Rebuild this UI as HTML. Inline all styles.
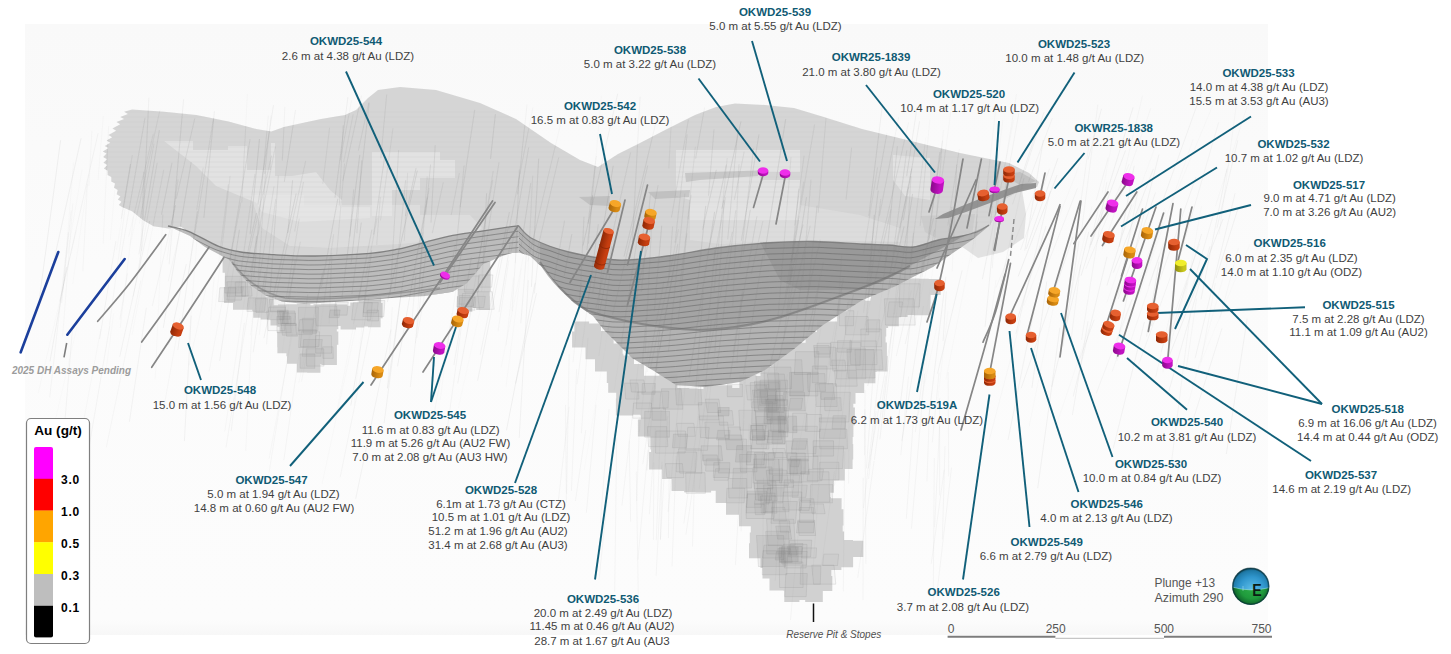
<!DOCTYPE html>
<html><head><meta charset="utf-8"><title>Drill results long section</title>
<style>
html,body{margin:0;padding:0;background:#fff;}
body{width:1451px;height:654px;overflow:hidden;font-family:"Liberation Sans",sans-serif;}
svg{display:block}
.t{font:bold 11.5px "Liberation Sans",sans-serif;fill:#0f5a73;text-anchor:middle}
.b{font:11.5px "Liberation Sans",sans-serif;fill:#3f3f3f;text-anchor:middle}
.ld{stroke:#11607a;stroke-width:1.9;fill:none;stroke-linecap:butt}
.dt{stroke:#868686;stroke-width:1.7;fill:none;stroke-linecap:round}
</style></head><body>
<svg width="1451" height="654" viewBox="0 0 1451 654">
<defs>
<linearGradient id="panel" x1="0" y1="0" x2="0" y2="1"><stop offset="0" stop-color="#f9f9f9"/><stop offset="0.4" stop-color="#fbfbfb"/><stop offset="0.975" stop-color="#fcfcfc"/><stop offset="1" stop-color="#f7f7f7"/></linearGradient>
<radialGradient id="ballsky" gradientUnits="userSpaceOnUse" cx="1252" cy="590" r="24"><stop offset="0" stop-color="#5fc0ea"/><stop offset="0.55" stop-color="#2f95cc"/><stop offset="0.8" stop-color="#1f7aa8"/><stop offset="1" stop-color="#0b3a44"/></radialGradient>
<radialGradient id="ballgrd" gradientUnits="userSpaceOnUse" cx="1252" cy="586" r="21"><stop offset="0" stop-color="#2fb04a"/><stop offset="0.6" stop-color="#1f9a3c"/><stop offset="1" stop-color="#0a5226"/></radialGradient>
</defs>
<rect x="0" y="0" width="1451" height="654" fill="#ffffff"/>
<rect x="25" y="24" width="1243" height="611" fill="url(#panel)"/>
<path d="M132.0,109.6 L164.0,111.8 L196.4,115.0 L228.5,121.4 L256.3,129.0 L271.3,131.5 L284.0,127.0 L300.0,123.5 L321.0,119.0 L345.0,115.0 L356.0,110.0 L368.0,98.0 L378.0,90.0 L400.0,87.0 L436.0,90.0 L480.0,103.0 L516.0,119.0 L551.0,143.0 L580.0,160.0 L598.0,167.0 L618.0,154.0 L640.0,143.0 L667.0,129.0 L695.0,115.0 L716.0,107.0 L735.0,103.5 L765.0,105.0 L794.0,108.0 L823.0,116.7 L862.0,129.0 L911.0,141.0 L960.0,153.0 L1009.0,163.0 L1029.0,173.0 L1039.0,182.0 L1037.0,187.0 L1022.0,190.0 L1004.0,200.0 L990.0,226.0 L960.0,240.0 L936.0,250.0 L911.0,254.0 L862.0,250.0 L813.0,248.0 L765.0,248.0 L716.0,254.0 L667.0,262.0 L618.0,266.0 L569.0,258.0 L533.0,246.0 L518.0,236.0 L489.0,240.0 L467.0,244.0 L445.0,248.0 L400.0,256.0 L356.0,260.0 L312.0,262.0 L267.0,261.0 L236.0,258.0 L216.0,250.0 L203.0,241.0 L190.0,234.0 L181.0,226.5 L168.5,228.5 L153.5,226.3 L142.8,220.0 L132.0,211.3 L122.5,207.2 L118.8,205.0 L121.5,201.8 L117.8,199.6 L120.4,196.4 L116.7,194.2 L117.7,190.0 L114.0,187.8 L115.0,183.6 L111.3,181.4 L111.3,177.1 L107.6,174.9 L107.6,170.7 L103.9,168.5 L107.2,165.0 L103.5,162.8 L106.9,159.3 L103.2,157.1 L106.5,153.6 L102.8,151.4 L108.4,148.1 L104.7,145.9 L110.3,142.7 L106.6,140.5 L112.2,137.2 L108.5,135.0 L116.2,130.7 L112.5,128.5 L120.2,124.2 L116.5,122.0 L124.0,119.1 L120.3,116.9 L127.9,114.0 L124.2,111.8Z" fill="#d3d3d3" fill-opacity="0.95"/>
<path d="M1022,190 L1026,214 L1024,238 L1003,252 L978,258 L958,244 L990,226 L1004,200Z" fill="#d2d2d2" fill-opacity="0.6"/>
<path d="M921,216 L975,214 L972,236 L940,240 L925,232Z" fill="#c4c4c4" fill-opacity="0.55"/>
<clipPath id="shc"><path d="M132.0,109.6 L164.0,111.8 L196.4,115.0 L228.5,121.4 L256.3,129.0 L271.3,131.5 L284.0,127.0 L300.0,123.5 L321.0,119.0 L345.0,115.0 L356.0,110.0 L368.0,98.0 L378.0,90.0 L400.0,87.0 L436.0,90.0 L480.0,103.0 L516.0,119.0 L551.0,143.0 L580.0,160.0 L598.0,167.0 L618.0,154.0 L640.0,143.0 L667.0,129.0 L695.0,115.0 L716.0,107.0 L735.0,103.5 L765.0,105.0 L794.0,108.0 L823.0,116.7 L862.0,129.0 L911.0,141.0 L960.0,153.0 L1009.0,163.0 L1029.0,173.0 L1039.0,182.0 L1037.0,187.0 L1022.0,190.0 L1004.0,200.0 L990.0,226.0 L960.0,240.0 L936.0,250.0 L911.0,254.0 L862.0,250.0 L813.0,248.0 L765.0,248.0 L716.0,254.0 L667.0,262.0 L618.0,266.0 L569.0,258.0 L533.0,246.0 L518.0,236.0 L489.0,240.0 L467.0,244.0 L445.0,248.0 L400.0,256.0 L356.0,260.0 L312.0,262.0 L267.0,261.0 L236.0,258.0 L216.0,250.0 L203.0,241.0 L190.0,234.0 L181.0,226.5 L168.5,228.5 L153.5,226.3 L142.8,220.0 L132.0,211.3 L122.5,207.2 L118.8,205.0 L121.5,201.8 L117.8,199.6 L120.4,196.4 L116.7,194.2 L117.7,190.0 L114.0,187.8 L115.0,183.6 L111.3,181.4 L111.3,177.1 L107.6,174.9 L107.6,170.7 L103.9,168.5 L107.2,165.0 L103.5,162.8 L106.9,159.3 L103.2,157.1 L106.5,153.6 L102.8,151.4 L108.4,148.1 L104.7,145.9 L110.3,142.7 L106.6,140.5 L112.2,137.2 L108.5,135.0 L116.2,130.7 L112.5,128.5 L120.2,124.2 L116.5,122.0 L124.0,119.1 L120.3,116.9 L127.9,114.0 L124.2,111.8Z"/></clipPath>
<g clip-path="url(#shc)">
<path d="M164.0,141.0 L193.0,141.0 L193.0,150.0 L228.0,150.0 L228.0,146.0 L247.0,146.0 L247.0,170.0 L271.0,170.0 L271.0,143.0 L275.0,143.0 L275.0,176.0 L292.0,176.0 L316.0,172.0 L330.0,190.0 L342.0,200.0 L342.0,216.0 L292.0,216.0 L252.0,201.0 L216.0,186.0 L196.0,166.0Z" fill="#e6e6e6" fill-opacity="0.75"/>
<path d="M251.0,195.0 L304.0,195.0 L304.0,207.0 L370.0,207.0 L370.0,218.0 L300.0,222.0 L262.0,212.0Z" fill="#e6e6e6" fill-opacity="0.75"/>
<path d="M372.0,152.0 L440.0,152.0 L440.0,160.0 L455.0,160.0 L455.0,178.0 L420.0,178.0 L420.0,190.0 L392.0,190.0 L392.0,216.0 L372.0,216.0Z" fill="#e6e6e6" fill-opacity="0.75"/>
<path d="M676.0,150.0 L800.0,150.0 L800.0,172.0 L760.0,172.0 L760.0,180.0 L800.0,180.0 L800.0,220.0 L690.0,220.0 L690.0,200.0 L676.0,196.0Z" fill="#e6e6e6" fill-opacity="0.75"/>
<path d="M893.0,155.0 L930.0,158.0 L930.0,200.0 L905.0,196.0 L893.0,180.0Z" fill="#e6e6e6" fill-opacity="0.75"/>
<path d="M100,112H1040M100,117H1040M100,122H1040M100,127H1040M100,132H1040M100,137H1040M100,142H1040M100,147H1040M100,152H1040M100,157H1040M100,162H1040M100,167H1040M100,172H1040M100,177H1040M100,182H1040M100,187H1040M100,192H1040M100,197H1040M100,202H1040M100,207H1040M100,212H1040M100,217H1040M100,222H1040M100,227H1040M100,232H1040M100,237H1040M100,242H1040M100,247H1040" stroke="#c9c9c9" stroke-opacity="0.35" stroke-width="0.7" fill="none"/>
<path d="M685.0,173.0 L758.0,170.5 L758.0,176.0 L700.0,180.0 L686.0,182.0Z" fill="#a8a8a8" fill-opacity="0.45"/>
<path d="M648.0,192.0 L690.0,190.0 L689.0,197.0 L655.0,199.0Z" fill="#a8a8a8" fill-opacity="0.45"/>
<path d="M579.0,197.0 L610.0,196.0 L609.0,206.0 L590.0,205.0Z" fill="#a8a8a8" fill-opacity="0.45"/>
<path d="M1002.0,175.0 L1020.0,172.0 L1036.0,181.0 L1022.0,186.0Z" fill="#a8a8a8" fill-opacity="0.45"/>
<path d="M250,195 L300,195 L300,205 L420,205 L420,215 L470,215 L482,228 L470,238 L400,244 L330,248 L290,246 L262,228Z" fill="#e6e6e6" fill-opacity="0.5"/>
<path d="M690,205 L800,205 L860,215 L900,228 L900,242 L800,240 L720,244 L690,240Z" fill="#e6e6e6" fill-opacity="0.4"/>
</g>
<path d="M891.8,277.7h15.8v15.8h-15.8zM904.4,278.5h14.7v14.7h-14.7zM913.3,278.8h15.4v15.4h-15.4zM924.6,278.9h16.1v16.1h-16.1zM871.1,288.1h16.7v16.7h-16.7zM879.7,288.1h17.5v17.5h-17.5zM892.1,288.8h16.8v16.8h-16.8zM901.9,289h16.6v16.6h-16.6zM913.1,286.3h17.5v17.5h-17.5zM847.6,299.4h17.6v17.6h-17.6zM860.2,300.8h15.9v15.9h-15.9zM870.5,298.4h17.8v17.8h-17.8zM883.1,298.8h15v15h-15zM891.6,300.9h16v16h-16zM903.7,298.8h16.3v16.3h-16.3zM913.9,298.8h16.5v16.5h-16.5zM837.3,311.3h16.9v16.9h-16.9zM848.8,310.6h18v18h-18zM859.3,308.7h17.5v17.5h-17.5zM871.6,311.5h16.5v16.5h-16.5zM881.4,308.9h17.4v17.4h-17.4zM574.4,321.5h14.7v14.7h-14.7zM586.2,323.6h14.8v14.8h-14.8zM816.9,321.7h15v15h-15zM825.1,321.5h17.6v17.6h-17.6zM836.8,322.5h14.7v14.7h-14.7zM848.4,320.2h17.6v17.6h-17.6zM859.9,320.5h18v18h-18zM869.6,319.9h16.6v16.6h-16.6zM572.1,331.6h15.9v15.9h-15.9zM585.5,332.1h14.6v14.6h-14.6zM595.7,331h17.9v17.9h-17.9zM805.6,332.1h16.1v16.1h-16.1zM815.3,332.6h16.6v16.6h-16.6zM825.8,332h17.8v17.8h-17.8zM837,331.8h17v17h-17zM846.8,330.9h17.9v17.9h-17.9zM860.3,333.4h14.5v14.5h-14.5zM871,333.5h14.6v14.6h-14.6zM585.5,344.5h14.7v14.7h-14.7zM595.4,343h16.9v16.9h-16.9zM605.5,343.6h17.1v17.1h-17.1zM780.6,341.7h16.9v16.9h-16.9zM794.8,342.7h16.1v16.1h-16.1zM804.9,343.1h15.8v15.8h-15.8zM814.6,342.8h16.6v16.6h-16.6zM825.3,342.5h17.2v17.2h-17.2zM835.5,343.2h17.1v17.1h-17.1zM847.3,342h17.3v17.3h-17.3zM858.7,342.6h16v16h-16zM871.3,342.5h15.6v15.6h-15.6zM595,355.5h16v16h-16zM607.7,353.7h15.7v15.7h-15.7zM617.9,355.6h16.1v16.1h-16.1zM770.5,353.2h16.4v16.4h-16.4zM780.9,354.7h17.4v17.4h-17.4zM791.9,353.2h17.3v17.3h-17.3zM805.1,355.6h15.7v15.7h-15.7zM813.7,353.2h17.3v17.3h-17.3zM825.8,354.1h16v16h-16zM836.4,353.4h17.7v17.7h-17.7zM846.6,352.1h17.8v17.8h-17.8zM860.6,356h16v16h-16zM872.2,356.1h15.3v15.3h-15.3zM606.8,366.1h16.8v16.8h-16.8zM617.7,365h15.7v15.7h-15.7zM627.4,363.9h16.6v16.6h-16.6zM760.5,367.1h14.7v14.7h-14.7zM771.8,365.2h17.7v17.7h-17.7zM783.4,366.4h16.5v16.5h-16.5zM792.5,366.7h15.1v15.1h-15.1zM803.7,365.8h16.3v16.3h-16.3zM814.9,366.5h16.6v16.6h-16.6zM825.3,364h17.5v17.5h-17.5zM837.6,366.5h15.7v15.7h-15.7zM846.9,364.9h17.4v17.4h-17.4zM857.7,365.5h17.7v17.7h-17.7zM608.2,378.2h14.5v14.5h-14.5zM618.5,378.3h14.7v14.7h-14.7zM627.6,375.6h16.3v16.3h-16.3zM638.7,375.8h17.2v17.2h-17.2zM649.5,375.7h14.9v14.9h-14.9zM659.4,374.2h17.9v17.9h-17.9zM739.4,375.1h16.3v16.3h-16.3zM749.1,376.1h15.7v15.7h-15.7zM761.1,376.9h15.8v15.8h-15.8zM771.1,376.5h14.9v14.9h-14.9zM782.8,377.2h15.8v15.8h-15.8zM792.3,375.6h15.8v15.8h-15.8zM804.9,377.4h15.8v15.8h-15.8zM816.4,376.9h16v16h-16zM825.6,376h17v17h-17zM837.2,377h16.1v16.1h-16.1zM847.3,376.1h16.9v16.9h-16.9zM616.2,387.3h16v16h-16zM629.7,388.9h15.8v15.8h-15.8zM641,388.7h15.4v15.4h-15.4zM649.7,385.7h17.3v17.3h-17.3zM661.4,388h17.3v17.3h-17.3zM672.8,388h16.5v16.5h-16.5zM683.1,388.5h14.5v14.5h-14.5zM694.1,389h14.7v14.7h-14.7zM703.5,385.5h17.6v17.6h-17.6zM714.8,385.3h17.4v17.4h-17.4zM725.9,388.1h16.9v16.9h-16.9zM739.2,388.6h16.5v16.5h-16.5zM749.8,385.5h17.2v17.2h-17.2zM761.1,388.7h14.9v14.9h-14.9zM772.9,389.4h14.7v14.7h-14.7zM781.3,387h17.4v17.4h-17.4zM793,386.9h15.4v15.4h-15.4zM804.9,388.3h15.9v15.9h-15.9zM815.2,387.3h15.7v15.7h-15.7zM826.1,386.1h16.3v16.3h-16.3zM838.4,386.7h17.1v17.1h-17.1zM615.9,398.5h17.1v17.1h-17.1zM628.9,398.5h16.2v16.2h-16.2zM640.4,400.2h15v15h-15zM648.4,398.4h17.7v17.7h-17.7zM661,397.8h17v17h-17zM672,398.2h15.2v15.2h-15.2zM684.1,398.3h15.3v15.3h-15.3zM695.3,400.1h15.5v15.5h-15.5zM705.4,397.5h17.5v17.5h-17.5zM717.1,398.2h15.3v15.3h-15.3zM726.1,398.5h15.8v15.8h-15.8zM737.7,398.3h15.6v15.6h-15.6zM749.3,396.4h18v18h-18zM760.4,398.7h16.1v16.1h-16.1zM772.3,399.2h16.4v16.4h-16.4zM781.7,398.4h17.5v17.5h-17.5zM792.3,398.3h17.9v17.9h-17.9zM804.7,398h15.3v15.3h-15.3zM815.2,398.1h17.9v17.9h-17.9zM828,398.1h15.2v15.2h-15.2zM836.3,397.1h17v17h-17zM640.9,411h15.4v15.4h-15.4zM651.6,408.9h16v16h-16zM662.8,408.8h14.8v14.8h-14.8zM673.6,409h15.7v15.7h-15.7zM684.5,410.8h14.5v14.5h-14.5zM693.9,409.2h16.2v16.2h-16.2zM703.7,408.8h17.8v17.8h-17.8zM716.7,410.2h14.9v14.9h-14.9zM727.4,410.5h14.9v14.9h-14.9zM740.2,411.3h14.8v14.8h-14.8zM750.2,408.5h17.2v17.2h-17.2zM760.8,408.5h16.9v16.9h-16.9zM772.2,410.7h15.4v15.4h-15.4zM782.8,410.5h16.9v16.9h-16.9zM793.5,408.2h16.2v16.2h-16.2zM803.6,409.7h16.9v16.9h-16.9zM815.3,408.2h16.8v16.8h-16.8zM826.1,407.7h17.6v17.6h-17.6zM837.1,407.5h17.8v17.8h-17.8zM637.9,419.5h17v17h-17zM650.4,420.3h16.8v16.8h-16.8zM661.8,420.4h15.1v15.1h-15.1zM670.6,420.6h17.1v17.1h-17.1zM683.8,421.3h15.8v15.8h-15.8zM693,419.4h17.6v17.6h-17.6zM704.4,420.8h15.4v15.4h-15.4zM717.5,420.2h15.7v15.7h-15.7zM726.6,420h17.2v17.2h-17.2zM738.6,422.1h14.9v14.9h-14.9zM749.4,419.9h14.9v14.9h-14.9zM761.8,421.6h15.1v15.1h-15.1zM770,419.7h17.1v17.1h-17.1zM783.2,421h16.6v16.6h-16.6zM792.9,420.6h15.2v15.2h-15.2zM805,421.1h15.2v15.2h-15.2zM815.4,422h14.6v14.6h-14.6zM826.5,420.8h17.8v17.8h-17.8zM836.9,420.4h16.5v16.5h-16.5zM650.4,432.5h16.9v16.9h-16.9zM660.8,432.5h16.2v16.2h-16.2zM673.5,432.9h14.5v14.5h-14.5zM684.2,431.9h16.2v16.2h-16.2zM695,431.8h15.2v15.2h-15.2zM705.5,430h16.3v16.3h-16.3zM716.7,431.1h16.5v16.5h-16.5zM729.4,433.2h15v15h-15zM740,432.5h14.7v14.7h-14.7zM749.7,431.3h14.8v14.8h-14.8zM760.8,433h15.6v15.6h-15.6zM773.1,432.6h15v15h-15zM782.7,430.9h17.7v17.7h-17.7zM794.3,432.4h15.7v15.7h-15.7zM804.7,432h17.5v17.5h-17.5zM815.2,432.2h16.2v16.2h-16.2zM825.9,430.7h14.8v14.8h-14.8zM836.5,430.4h16.2v16.2h-16.2zM651.1,442.6h16v16h-16zM661.9,441.9h16.1v16.1h-16.1zM673.7,442.6h15.1v15.1h-15.1zM684.8,443.3h15.8v15.8h-15.8zM693.8,442.3h16.6v16.6h-16.6zM705.1,441.4h15.2v15.2h-15.2zM717.3,441.4h16.1v16.1h-16.1zM727,442.1h15.1v15.1h-15.1zM738.9,442.2h14.6v14.6h-14.6zM748.2,441.4h16.2v16.2h-16.2zM759.1,441h16.1v16.1h-16.1zM771.9,443.8h14.7v14.7h-14.7zM782.9,442.9h14.6v14.6h-14.6zM795.5,442.2h14.8v14.8h-14.8zM804.1,441.2h16.7v16.7h-16.7zM815.7,442h14.7v14.7h-14.7zM826.6,441.2h17.3v17.3h-17.3zM837.6,444h15.6v15.6h-15.6zM649.1,452.1h17.4v17.4h-17.4zM662.5,453.6h14.8v14.8h-14.8zM672.8,454.6h16.6v16.6h-16.6zM682.6,452.7h14.8v14.8h-14.8zM694.2,452.8h14.7v14.7h-14.7zM706.4,455.1h15.2v15.2h-15.2zM717.3,452.8h17.3v17.3h-17.3zM729.4,455.5h14.6v14.6h-14.6zM737,452.9h17.8v17.8h-17.8zM747.5,452.1h17.5v17.5h-17.5zM759.5,453.3h15.7v15.7h-15.7zM772.5,455.2h15.1v15.1h-15.1zM782.5,453.5h17.4v17.4h-17.4zM793.8,454.9h15.8v15.8h-15.8zM803.6,452.1h17.2v17.2h-17.2zM815.9,453.3h15.1v15.1h-15.1zM826.7,453.3h17v17h-17zM837.6,453.9h15v15h-15zM662.1,463h16.1v16.1h-16.1zM673.9,465.6h14.8v14.8h-14.8zM682.3,465.2h16.7v16.7h-16.7zM695.6,465.6h16.1v16.1h-16.1zM706.9,465.4h15.7v15.7h-15.7zM716.2,463.3h15.9v15.9h-15.9zM728.6,463.1h16.5v16.5h-16.5zM736.9,462.9h16.8v16.8h-16.8zM749.2,463.6h15v15h-15zM761.7,465.5h14.5v14.5h-14.5zM771.1,466.3h15.3v15.3h-15.3zM782.1,463.6h17.2v17.2h-17.2zM793.6,465.2h16.4v16.4h-16.4zM804.2,464.1h14.8v14.8h-14.8zM817.2,464h14.6v14.6h-14.6zM827.1,462.8h17.6v17.6h-17.6zM671.6,475.8h15.3v15.3h-15.3zM684.1,475.5h16.7v16.7h-16.7zM695.4,476.8h15.7v15.7h-15.7zM706.4,475.9h14.9v14.9h-14.9zM716.8,475.1h17.4v17.4h-17.4zM726.6,475.6h16.1v16.1h-16.1zM739.3,474.4h15.7v15.7h-15.7zM749.2,474h16.4v16.4h-16.4zM760.8,474.9h16.8v16.8h-16.8zM772,474.8h15.7v15.7h-15.7zM784,475h16v16h-16zM792.7,475.1h15.1v15.1h-15.1zM805,475.4h17.6v17.6h-17.6zM816.1,475h17.8v17.8h-17.8zM715.7,485.3h17.8v17.8h-17.8zM728.6,487.8h16.2v16.2h-16.2zM738.3,485.2h18v18h-18zM749.9,485h17.8v17.8h-17.8zM759,484.8h17v17h-17zM770.5,486.2h16.7v16.7h-16.7zM781.4,487.5h15.5v15.5h-15.5zM792.7,485.5h17.1v17.1h-17.1zM805.8,486.4h14.9v14.9h-14.9zM815.5,486.8h14.8v14.8h-14.8zM726,497.8h17v17h-17zM739.1,498.2h17.6v17.6h-17.6zM749.3,496.7h15.6v15.6h-15.6zM760.2,497.4h16.4v16.4h-16.4zM771.3,498.8h15.5v15.5h-15.5zM781.7,498h17.3v17.3h-17.3zM792.2,496.1h17.3v17.3h-17.3zM802.9,496.2h16.4v16.4h-16.4zM816.3,497.2h14.7v14.7h-14.7zM825.5,498.2h16.1v16.1h-16.1zM739,508.4h17.9v17.9h-17.9zM748.8,508.3h14.5v14.5h-14.5zM761,508.7h14.7v14.7h-14.7zM771.8,507.5h15.6v15.6h-15.6zM781.8,509.4h16v16h-16zM792.8,507.1h16v16h-16zM804,508.2h17.7v17.7h-17.7zM816.9,508.3h15v15h-15zM827.1,509.2h16.3v16.3h-16.3zM750.8,519.9h15.5v15.5h-15.5zM759.1,517.7h16.8v16.8h-16.8zM772.6,520.7h16.1v16.1h-16.1zM782.3,520.1h17.3v17.3h-17.3zM793.7,519.1h16.3v16.3h-16.3zM803.1,518.1h16.9v16.9h-16.9zM817,519.7h15.9v15.9h-15.9zM825.4,518.7h17.3v17.3h-17.3zM749.8,532.4h15v15h-15zM760,530.6h15.9v15.9h-15.9zM771.7,530.6h17.8v17.8h-17.8zM782.6,528.8h16.5v16.5h-16.5zM793.9,530.7h15.5v15.5h-15.5zM805.7,532.3h14.9v14.9h-14.9zM815.9,530h16.3v16.3h-16.3zM827.3,531.5h16.8v16.8h-16.8zM749,543.2h15.1v15.1h-15.1zM760.3,542.7h15.6v15.6h-15.6zM769.9,541.9h17.8v17.8h-17.8zM782.2,541.4h15.5v15.5h-15.5zM791.4,539.8h17.9v17.9h-17.9zM803.6,541.1h15.2v15.2h-15.2zM813.7,541h17.1v17.1h-17.1zM826.8,541.2h17.4v17.4h-17.4zM835.1,539.9h17.9v17.9h-17.9zM847.1,540.7h16.2v16.2h-16.2zM760.5,553.3h14.7v14.7h-14.7zM771.2,554.4h15v15h-15zM782.7,550.5h18v18h-18zM794.5,553.4h15v15h-15zM803.6,553.7h15.1v15.1h-15.1zM813.8,552.7h17.6v17.6h-17.6zM825,553.7h16.4v16.4h-16.4zM837.2,551.4h15.9v15.9h-15.9zM762.5,563.4h15v15h-15zM770.6,562.5h15.7v15.7h-15.7zM784.2,562.6h15.2v15.2h-15.2zM793.9,564h17.9v17.9h-17.9zM802.8,562.1h17.8v17.8h-17.8zM815.7,564.3h15.6v15.6h-15.6zM769.5,573.5h17.1v17.1h-17.1zM783.3,574.6h16.1v16.1h-16.1zM793.4,574.1h16.4v16.4h-16.4zM805.2,573.3h16.6v16.6h-16.6zM817.2,576h15.1v15.1h-15.1zM784.3,587h15.1v15.1h-15.1zM793.5,585.3h14.7v14.7h-14.7zM805.2,584.5h17.6v17.6h-17.6z" fill="#c9c9c9" fill-opacity="0.85" fill-rule="nonzero"/>
<path d="M222.6,257.3h15.5v15.5h-15.5zM224.9,269.5h14.9v14.9h-14.9zM234.2,269.9h12.8v12.8h-12.8zM225.1,277.8h13v13h-13zM233.7,276.8h14.3v14.3h-14.3zM242.2,277.1h13.8v13.8h-13.8zM223.9,287.1h15.8v15.8h-15.8zM234.8,287.8h13.5v13.5h-13.5zM244.5,286.3h12.9v12.9h-12.9zM251.7,287.3h13.7v13.7h-13.7zM233,293.9h15.9v15.9h-15.9zM242.2,295.3h14.4v14.4h-14.4zM252.4,296.8h14.3v14.3h-14.3zM261,296.5h12.7v12.7h-12.7zM358.7,295.9h15.2v15.2h-15.2zM367.3,296.6h13.8v13.8h-13.8zM253.3,304.5h13.3v13.3h-13.3zM260.6,305.6h14v14h-14zM270.7,305.3h13.8v13.8h-13.8zM278,304.6h13.9v13.9h-13.9zM286.3,304.2h15.6v15.6h-15.6zM297.1,303.8h13.3v13.3h-13.3zM305.6,305.3h13v13h-13zM313.5,304.2h13.5v13.5h-13.5zM321.2,303.8h15.7v15.7h-15.7zM331.9,304.5h15.4v15.4h-15.4zM342.5,305.7h14v14h-14zM350.3,302.6h15.6v15.6h-15.6zM358.3,303.6h15.6v15.6h-15.6zM367.2,302.9h15.4v15.4h-15.4zM270.5,313h12.6v12.6h-12.6zM277.3,311.3h15.4v15.4h-15.4zM286.6,312.9h13.9v13.9h-13.9zM296.2,312.9h14.7v14.7h-14.7zM306.6,313.9h12.8v12.8h-12.8zM316.5,314.7h12.8v12.8h-12.8zM322.3,313.3h16v16h-16zM331.1,311.9h14.2v14.2h-14.2zM340.6,314h15.4v15.4h-15.4zM349.7,313h14.5v14.5h-14.5zM360.7,312.7h13.9v13.9h-13.9zM368,314.6h12.6v12.6h-12.6zM279.6,322.3h14.5v14.5h-14.5zM286.2,321.6h14.1v14.1h-14.1zM297.8,322.9h13.5v13.5h-13.5zM306.8,322.8h14.3v14.3h-14.3zM312.8,321.1h15.6v15.6h-15.6zM322.1,322.3h14.7v14.7h-14.7zM277.2,331.5h15.7v15.7h-15.7zM289,332.6h13.2v13.2h-13.2zM295.4,331.5h13.6v13.6h-13.6zM305,333h13.3v13.3h-13.3zM316,333.4h12.9v12.9h-12.9zM325.1,331.6h13.2v13.2h-13.2zM277.4,339h14.2v14.2h-14.2zM286.4,340.8h15.4v15.4h-15.4zM295.2,340.3h13.9v13.9h-13.9zM304.8,340h13.4v13.4h-13.4zM315.6,340.6h12.9v12.9h-12.9zM322.4,340.1h14.5v14.5h-14.5zM287.1,350.5h13.3v13.3h-13.3zM297.5,350.3h13.1v13.1h-13.1zM306.1,349h14.4v14.4h-14.4zM314.8,349.9h14v14h-14zM321.4,349.6h15.5v15.5h-15.5zM296.8,359h13.4v13.4h-13.4zM307.1,359.4h13.3v13.3h-13.3z" fill="#c9c9c9" fill-opacity="0.85" fill-rule="nonzero"/>
<path d="M476.6,261.1h13.7v13.7h-13.7zM468.4,268.9h13.1v13.1h-13.1zM475.6,267.5h15.1v15.1h-15.1zM457.6,276.1h14.3v14.3h-14.3zM467.4,277.2h14.4v14.4h-14.4zM476.5,277.2h14.2v14.2h-14.2zM458.1,287.9h13.2v13.2h-13.2zM465.1,287.1h14.4v14.4h-14.4zM474.1,286.9h15.6v15.6h-15.6zM456.9,296.3h15.4v15.4h-15.4zM468,295.6h12.5v12.5h-12.5zM476.2,296.3h13.7v13.7h-13.7z" fill="#c9c9c9" fill-opacity="0.85" fill-rule="nonzero"/>
<g stroke="#8a8a8a" stroke-opacity="0.3" stroke-width="0.6">
<path d="M739.6,454.5h16.5l0.9,17.3h-16.5z" fill="#909090" fill-opacity="0.06"/>
<path d="M756.1,416.5h28.3l0.4,27.7h-28.3z" fill="#707070" fill-opacity="0.05"/>
<path d="M767.4,374h16.9l1.8,15.9h-16.9z" fill="#808080" fill-opacity="0.07"/>
<path d="M738.8,410.3h16.7l1.1,19.8h-16.7z" fill="#606060" fill-opacity="0.04"/>
<path d="M867,319.8h12.8l-0.5,12.1h-12.8z" fill="#808080" fill-opacity="0.09"/>
<path d="M747.1,491.1h19.7l-0.9,21.7h-19.7z" fill="#606060" fill-opacity="0.05"/>
<path d="M795.6,351.6h23.3l-1.2,22.9h-23.3z" fill="#888888" fill-opacity="0.09"/>
<path d="M808.6,469.3h14.9l-1.6,11.4h-14.9z" fill="#808080" fill-opacity="0.07"/>
<path d="M806.5,414.5h15.2l-1.3,16.9h-15.2z" fill="#909090" fill-opacity="0.03"/>
<path d="M726.9,488.3h17.9l-0.6,14.5h-17.9z" fill="#707070" fill-opacity="0.06"/>
<path d="M651.7,408.4h13.7l0.7,11.8h-13.7z" fill="#606060" fill-opacity="0.06"/>
<path d="M713.8,462.6h16l-0.5,14.9h-16z" fill="#606060" fill-opacity="0.06"/>
<path d="M773.3,475.3h26.4l-1.6,20.8h-26.4z" fill="#606060" fill-opacity="0.06"/>
<path d="M792.7,413.1h14.3l0.1,17.1h-14.3z" fill="#888888" fill-opacity="0.04"/>
<path d="M752.3,429.7h12.2l-0,10.7h-12.2z" fill="#909090" fill-opacity="0.05"/>
<path d="M677.3,452h19.3l-1.1,19.8h-19.3z" fill="#808080" fill-opacity="0.04"/>
<path d="M750.2,431.4h18.5l0.2,17.6h-18.5z" fill="#888888" fill-opacity="0.04"/>
<path d="M704.9,422.2h22.8l1.1,16.3h-22.8z" fill="#888888" fill-opacity="0.05"/>
<path d="M837.6,340.7h13.8l-0.1,11.4h-13.8z" fill="#909090" fill-opacity="0.06"/>
<path d="M642.3,383.5h13.1l-0.4,10.7h-13.1z" fill="#606060" fill-opacity="0.07"/>
<path d="M800.8,565.9h20.1l-0.6,18.4h-20.1z" fill="#606060" fill-opacity="0.06"/>
<path d="M799.6,507.5h13.9l0,15h-13.9z" fill="#909090" fill-opacity="0.06"/>
<path d="M766.2,470.4h20.5l1.7,15h-20.5z" fill="#808080" fill-opacity="0.06"/>
<path d="M766.5,399.7h21.1l1,17.9h-21.1z" fill="#808080" fill-opacity="0.08"/>
<path d="M629.9,379.9h14l1.6,12.1h-14z" fill="#909090" fill-opacity="0.06"/>
<path d="M772.5,448.5h12.2l1.9,9h-12.2z" fill="#808080" fill-opacity="0.05"/>
<path d="M756.5,535.5h27.2l1.9,31h-27.2z" fill="#707070" fill-opacity="0.09"/>
<path d="M745.9,385.3h20.7l1.5,14.6h-20.7z" fill="#909090" fill-opacity="0.06"/>
<path d="M889.1,301.9h13.5l-1.9,15.1h-13.5z" fill="#888888" fill-opacity="0.05"/>
<path d="M756.2,488.5h14.5l-1.7,15.4h-14.5z" fill="#888888" fill-opacity="0.08"/>
<path d="M833.1,415.7h13l-1,13.2h-13z" fill="#606060" fill-opacity="0.06"/>
<path d="M779.3,561.9h23.5l0.3,25.6h-23.5z" fill="#909090" fill-opacity="0.04"/>
<path d="M755.7,384.4h13.2l-1.7,12.8h-13.2z" fill="#606060" fill-opacity="0.05"/>
<path d="M860.8,329h20.5l0.3,17.7h-20.5z" fill="#888888" fill-opacity="0.04"/>
<path d="M830.7,342.4h30l-0.6,23.1h-30z" fill="#808080" fill-opacity="0.05"/>
<path d="M699.2,415.9h24.1l1.4,21.7h-24.1z" fill="#909090" fill-opacity="0.06"/>
<path d="M661.4,388.8h19.7l1.7,20.4h-19.7z" fill="#707070" fill-opacity="0.08"/>
<path d="M815.3,383.8h21.1l0.8,22.7h-21.1z" fill="#888888" fill-opacity="0.08"/>
<path d="M706.2,459h13.7l-0.6,12.1h-13.7z" fill="#606060" fill-opacity="0.04"/>
<path d="M846.9,349.5h27.1l1.1,28.5h-27.1z" fill="#606060" fill-opacity="0.07"/>
<path d="M624.6,383.2h13.4l1,15.9h-13.4z" fill="#606060" fill-opacity="0.05"/>
<path d="M752.5,390.1h22.6l1.9,20.9h-22.6z" fill="#707070" fill-opacity="0.07"/>
<path d="M777.8,548.6h12.6l1.8,13.8h-12.6z" fill="#606060" fill-opacity="0.07"/>
<path d="M675.3,385.5h25.4l1.2,19.4h-25.4z" fill="#808080" fill-opacity="0.08"/>
<path d="M772.4,431.6h13.1l-0.4,11.9h-13.1z" fill="#606060" fill-opacity="0.08"/>
<path d="M790.6,456.4h27.4l-0.2,25.5h-27.4z" fill="#888888" fill-opacity="0.04"/>
<path d="M831.8,360.2h13.2l1,10.8h-13.2z" fill="#888888" fill-opacity="0.06"/>
<path d="M791.4,372.6h19.3l-1.4,23.1h-19.3z" fill="#707070" fill-opacity="0.09"/>
<path d="M793.3,485.2h13.9l-1.3,12.2h-13.9z" fill="#707070" fill-opacity="0.06"/>
<path d="M763.9,367.1h27l0.8,21.6h-27z" fill="#707070" fill-opacity="0.06"/>
<path d="M647.3,426.6h19.3l1.3,20h-19.3z" fill="#888888" fill-opacity="0.04"/>
<path d="M763,550.7h24.6l-0.8,24h-24.6z" fill="#707070" fill-opacity="0.06"/>
<path d="M725.1,434.9h16.3l1.6,14.7h-16.3z" fill="#606060" fill-opacity="0.08"/>
<path d="M715.6,468.8h14l-1.6,11.5h-14z" fill="#808080" fill-opacity="0.06"/>
<path d="M824.3,397.7h16.5l0.6,12.9h-16.5z" fill="#808080" fill-opacity="0.06"/>
<path d="M705.4,399.1h13.5l1.9,13.4h-13.5z" fill="#606060" fill-opacity="0.06"/>
<path d="M785.8,573.5h21.5l-1.1,23.1h-21.5z" fill="#808080" fill-opacity="0.07"/>
<path d="M821.1,392.3h29.2l-1.4,29.7h-29.2z" fill="#808080" fill-opacity="0.05"/>
<path d="M810.7,484.6h22.2l-0.5,18.2h-22.2z" fill="#909090" fill-opacity="0.06"/>
<path d="M819.7,462.3h19.2l0.1,17.6h-19.2z" fill="#909090" fill-opacity="0.06"/>
<path d="M823.8,554.2h14.9l-1.2,11.3h-14.9z" fill="#909090" fill-opacity="0.05"/>
<path d="M812.4,366h14.5l-0.1,16.6h-14.5z" fill="#707070" fill-opacity="0.07"/>
<path d="M753.2,466.9h18.8l1,21.8h-18.8z" fill="#808080" fill-opacity="0.08"/>
<path d="M767.7,487.7h16.5l-1.7,15.1h-16.5z" fill="#707070" fill-opacity="0.06"/>
<path d="M727.3,384.4h15.2l-0.1,12.3h-15.2z" fill="#808080" fill-opacity="0.08"/>
<path d="M676.7,423.4h17.2l1.3,12.9h-17.2z" fill="#707070" fill-opacity="0.03"/>
<path d="M789.5,540.1h22.3l-1.2,16.8h-22.3z" fill="#808080" fill-opacity="0.09"/>
<path d="M789.6,372.4h28.7l-0.4,23.5h-28.7z" fill="#808080" fill-opacity="0.07"/>
<path d="M899.9,283.8h20.2l-0.7,23.2h-20.2z" fill="#888888" fill-opacity="0.05"/>
<path d="M768.3,452.8h28.2l0.8,21.1h-28.2z" fill="#808080" fill-opacity="0.05"/>
<path d="M644.7,411.3h24.8l-0.1,25.9h-24.8z" fill="#707070" fill-opacity="0.09"/>
<path d="M652.1,391.1h16.7l-0.7,16.7h-16.7z" fill="#808080" fill-opacity="0.07"/>
<path d="M747.3,493.2h27.8l-1.1,25.3h-27.8z" fill="#909090" fill-opacity="0.07"/>
<path d="M766.6,519.3h27.2l1.4,26.1h-27.2z" fill="#888888" fill-opacity="0.06"/>
<path d="M781.9,546.5h20.2l-0.4,16.9h-20.2z" fill="#707070" fill-opacity="0.07"/>
<path d="M813,440.8h20.5l0.1,15.3h-20.5z" fill="#888888" fill-opacity="0.08"/>
<path d="M765.8,531.3h22.7l1,22.7h-22.7z" fill="#707070" fill-opacity="0.07"/>
<path d="M747.3,494.4h15l-1,13h-15z" fill="#707070" fill-opacity="0.04"/>
<path d="M755.8,373h22.7l1,16.2h-22.7z" fill="#808080" fill-opacity="0.06"/>
<path d="M637.2,392.1h23.5l-0.9,16.7h-23.5z" fill="#909090" fill-opacity="0.06"/>
<path d="M772.7,501.5h24.6l-1.8,21.8h-24.6z" fill="#606060" fill-opacity="0.05"/>
<path d="M752.9,435.9h15.3l-1.7,12.6h-15.3z" fill="#888888" fill-opacity="0.08"/>
<path d="M836.2,348.2h29.1l0.4,30.6h-29.1z" fill="#707070" fill-opacity="0.03"/>
<path d="M819,383.5h14l1.9,15.9h-14z" fill="#606060" fill-opacity="0.08"/>
<path d="M763.6,484.9h23.7l1.6,26.8h-23.7z" fill="#888888" fill-opacity="0.08"/>
<path d="M807.3,373.6h17.5l0.7,17.8h-17.5z" fill="#888888" fill-opacity="0.08"/>
<path d="M760.4,496h15.5l0.9,17.1h-15.5z" fill="#888888" fill-opacity="0.04"/>
<path d="M750.2,382.6h28.6l1.3,25.2h-28.6z" fill="#808080" fill-opacity="0.07"/>
<path d="M753.8,459h24.9l1.4,21.4h-24.9z" fill="#707070" fill-opacity="0.08"/>
<path d="M793.1,426.4h24.2l-1.5,27.3h-24.2z" fill="#808080" fill-opacity="0.06"/>
<path d="M751.4,425.3h14.2l-1.1,14.6h-14.2z" fill="#888888" fill-opacity="0.07"/>
<path d="M810.5,503.9h12.9l1.7,9.8h-12.9z" fill="#909090" fill-opacity="0.06"/>
<path d="M665.4,463.6h17l1.5,14h-17z" fill="#888888" fill-opacity="0.04"/>
<path d="M701.1,445.8h20l1.6,14.9h-20z" fill="#888888" fill-opacity="0.09"/>
<path d="M685.7,472.7h19.3l0.4,20.7h-19.3z" fill="#888888" fill-opacity="0.05"/>
<path d="M854.9,349.8h26.8l1.2,19.9h-26.8z" fill="#888888" fill-opacity="0.06"/>
<path d="M783.3,544.4h23.7l-0.4,20.7h-23.7z" fill="#606060" fill-opacity="0.04"/>
<path d="M760.1,380.1h27.4l-0.4,25.2h-27.4z" fill="#606060" fill-opacity="0.06"/>
<path d="M884.3,298.8h29.7l1.2,26.3h-29.7z" fill="#888888" fill-opacity="0.08"/>
<path d="M819.3,429.2h27.6l0.6,19.6h-27.6z" fill="#808080" fill-opacity="0.08"/>
<path d="M799,498.8h14.7l1.6,14.2h-14.7z" fill="#808080" fill-opacity="0.07"/>
<path d="M655.9,431h29.6l-0.4,22.1h-29.6z" fill="#808080" fill-opacity="0.03"/>
<path d="M849.9,340.9h26.4l0.8,23.7h-26.4z" fill="#888888" fill-opacity="0.03"/>
<path d="M785.4,551.5h21.8l-1.1,16.4h-21.8z" fill="#888888" fill-opacity="0.05"/>
<path d="M698.3,402.7h19.1l1.4,17.2h-19.1z" fill="#707070" fill-opacity="0.06"/>
<path d="M814.4,347.4h21.3l0.6,21.6h-21.3z" fill="#606060" fill-opacity="0.05"/>
<path d="M790.6,543.6h12.4l-1.2,10.5h-12.4z" fill="#606060" fill-opacity="0.08"/>
<path d="M750.7,425h15.6l-0.8,14.4h-15.6z" fill="#909090" fill-opacity="0.06"/>
<path d="M687.7,427.4h21.5l-1.7,22.9h-21.5z" fill="#808080" fill-opacity="0.04"/>
<path d="M811.8,565.2h22.2l1.8,19h-22.2z" fill="#888888" fill-opacity="0.04"/>
<path d="M787.3,453.1h18l0,20.3h-18z" fill="#909090" fill-opacity="0.07"/>
<path d="M764,545.2h18.3l-1.3,12.8h-18.3z" fill="#707070" fill-opacity="0.05"/>
<path d="M778.8,459.1h22.2l0.7,23.8h-22.2z" fill="#888888" fill-opacity="0.07"/>
<path d="M819.3,417.9h25.8l0.3,20.4h-25.8z" fill="#808080" fill-opacity="0.08"/>
<path d="M755.2,411.9h24.5l1.8,27.7h-24.5z" fill="#808080" fill-opacity="0.09"/>
<path d="M633.5,403h17.9l-0.8,15.2h-17.9z" fill="#808080" fill-opacity="0.03"/>
<path d="M754.5,381.3h25.6l0.2,29.9h-25.6z" fill="#909090" fill-opacity="0.09"/>
<path d="M728.2,478.5h18.5l0.7,19.4h-18.5z" fill="#707070" fill-opacity="0.04"/>
<path d="M845.1,316.5h23l0.6,18.3h-23z" fill="#707070" fill-opacity="0.04"/>
<path d="M813.7,345.5h15.4l0.8,11.7h-15.4z" fill="#888888" fill-opacity="0.09"/>
<path d="M800.8,471.8h28.1l0.7,30.4h-28.1z" fill="#909090" fill-opacity="0.06"/>
<path d="M834.6,370.2h21.7l0.9,16h-21.7z" fill="#909090" fill-opacity="0.07"/>
<path d="M813.7,446.4h30l-1.1,22.1h-30z" fill="#888888" fill-opacity="0.08"/>
<path d="M678.5,448.8h22.2l1.3,24.4h-22.2z" fill="#909090" fill-opacity="0.06"/>
<path d="M773.9,359.8h27.8l1.8,31.6h-27.8z" fill="#909090" fill-opacity="0.09"/>
<path d="M839.6,310.7h14.2l-0.3,15h-14.2z" fill="#909090" fill-opacity="0.05"/>
<path d="M673.5,434.1h14l-1.1,13.6h-14z" fill="#606060" fill-opacity="0.08"/>
<path d="M754.5,452.5h28.5l-1.4,30.4h-28.5z" fill="#888888" fill-opacity="0.05"/>
<path d="M718.5,439.2h28.2l-0.2,33.8h-28.2z" fill="#606060" fill-opacity="0.05"/>
<path d="M817.1,343.3h13.7l-0.2,10.7h-13.7z" fill="#888888" fill-opacity="0.03"/>
<path d="M717.8,430.4h12.3l-1.2,9.5h-12.3z" fill="#606060" fill-opacity="0.07"/>
<path d="M770.2,418.6h17.8l0.6,13h-17.8z" fill="#909090" fill-opacity="0.12"/>
<path d="M802.4,547.9h14.1l-0.5,10h-14.1z" fill="#808080" fill-opacity="0.05"/>
<path d="M787.4,546.3h8.1l1.5,8.7h-8.1z" fill="#909090" fill-opacity="0.13"/>
<path d="M754.6,504.1h9.6l0.7,10.5h-9.6z" fill="#909090" fill-opacity="0.10"/>
<path d="M797.8,520.2h17l-1.3,12.7h-17z" fill="#707070" fill-opacity="0.09"/>
<path d="M728.2,426.9h12l1.2,13.2h-12z" fill="#888888" fill-opacity="0.08"/>
<path d="M783.3,492h18.5l-0.4,18h-18.5z" fill="#909090" fill-opacity="0.05"/>
<path d="M756.6,389.8h20l1.8,20.1h-20z" fill="#808080" fill-opacity="0.08"/>
<path d="M769.6,468.9h13.1l-0.5,12h-13.1z" fill="#808080" fill-opacity="0.05"/>
<path d="M791.6,459.9h8.2l-1.1,6.8h-8.2z" fill="#707070" fill-opacity="0.07"/>
<path d="M756.9,480.9h18.9l1.5,19.6h-18.9z" fill="#707070" fill-opacity="0.09"/>
<path d="M762.9,501.9h10.3l0,10.5h-10.3z" fill="#888888" fill-opacity="0.12"/>
<path d="M790.4,398.1h12.3l-1.5,11.2h-12.3z" fill="#888888" fill-opacity="0.09"/>
<path d="M785.8,440.9h21.5l1.3,19.8h-21.5z" fill="#909090" fill-opacity="0.10"/>
<path d="M718.3,407.5h10.9l-0.2,8.3h-10.9z" fill="#606060" fill-opacity="0.12"/>
<path d="M747,451.8h17.7l-0.6,13.1h-17.7z" fill="#707070" fill-opacity="0.08"/>
<path d="M767.5,419.9h19.5l0.9,16.9h-19.5z" fill="#707070" fill-opacity="0.08"/>
<path d="M718,410.6h14.2l1.5,14.6h-14.2z" fill="#888888" fill-opacity="0.06"/>
<path d="M702.9,454.9h14.3l1.5,10.2h-14.3z" fill="#888888" fill-opacity="0.11"/>
<path d="M793.4,438.8h14l-2,10.4h-14z" fill="#909090" fill-opacity="0.13"/>
<path d="M751.1,425.4h11.6l1.6,12.6h-11.6z" fill="#909090" fill-opacity="0.11"/>
<path d="M733.3,468.4h19.3l-1,19.7h-19.3z" fill="#808080" fill-opacity="0.10"/>
<path d="M765.1,452.9h10.2l-1.3,7.3h-10.2z" fill="#808080" fill-opacity="0.12"/>
<path d="M777.9,416.2h18.5l0.7,16.4h-18.5z" fill="#606060" fill-opacity="0.11"/>
<path d="M784.3,479.9h9.3l-0.2,7.4h-9.3z" fill="#909090" fill-opacity="0.10"/>
<path d="M754.1,483.3h15.9l1.5,16.7h-15.9z" fill="#909090" fill-opacity="0.07"/>
<path d="M752.2,401.8h20.3l-0.5,21.8h-20.3z" fill="#909090" fill-opacity="0.09"/>
<path d="M755.3,454h11.8l-1.2,13.9h-11.8z" fill="#808080" fill-opacity="0.08"/>
<path d="M797.8,521.6h16.4l1.4,13.9h-16.4z" fill="#808080" fill-opacity="0.08"/>
<path d="M776.2,551.6h8.2l-0.9,8.4h-8.2z" fill="#606060" fill-opacity="0.08"/>
<path d="M776.3,391h10.1l-1.2,9.8h-10.1z" fill="#707070" fill-opacity="0.08"/>
<path d="M765.4,399.2h18.8l1.6,20.5h-18.8z" fill="#808080" fill-opacity="0.11"/>
<path d="M768.3,430.2h15.4l-1,12.8h-15.4z" fill="#707070" fill-opacity="0.08"/>
<path d="M788.5,459h19.5l1.3,15.2h-19.5z" fill="#606060" fill-opacity="0.11"/>
<path d="M775.7,526.2h14l1.9,12.9h-14z" fill="#888888" fill-opacity="0.12"/>
<path d="M760.1,391.4h15.3l1.7,12.2h-15.3z" fill="#707070" fill-opacity="0.08"/>
<path d="M764.7,407.5h21.8l-0.6,16.6h-21.8z" fill="#707070" fill-opacity="0.13"/>
<path d="M767.6,395.5h15.3l0.9,16.9h-15.3z" fill="#888888" fill-opacity="0.12"/>
<path d="M779.6,520.8h9.9l0.8,11.4h-9.9z" fill="#808080" fill-opacity="0.07"/>
<path d="M736.8,445.6h15.1l-1.4,16.5h-15.1z" fill="#707070" fill-opacity="0.11"/>
<path d="M783.6,392.4h20.9l0.8,18.5h-20.9z" fill="#707070" fill-opacity="0.10"/>
<path d="M771.8,507.4h13l1.6,13.5h-13z" fill="#909090" fill-opacity="0.08"/>
<path d="M779.5,547.1h18.7l0,14.5h-18.7z" fill="#606060" fill-opacity="0.11"/>
<path d="M800.1,500.4h10.3l-1.3,10h-10.3z" fill="#909090" fill-opacity="0.06"/>
<path d="M276.8,316.5h14.1l0.2,16.2h-14.1z" fill="#888888" fill-opacity="0.09"/>
<path d="M228.7,286.9h14.5l-1.8,13.2h-14.5z" fill="#707070" fill-opacity="0.04"/>
<path d="M248.3,297.8h17.7l-1.4,13.6h-17.7z" fill="#606060" fill-opacity="0.06"/>
<path d="M240.9,286.8h10.4l0.8,9.3h-10.4z" fill="#909090" fill-opacity="0.09"/>
<path d="M300.1,353.9h14.8l-0.1,14.4h-14.8z" fill="#808080" fill-opacity="0.10"/>
<path d="M219.8,287.7h16.2l-1.2,13.9h-16.2z" fill="#888888" fill-opacity="0.10"/>
<path d="M302.3,318.4h13.1l1.1,14.9h-13.1z" fill="#909090" fill-opacity="0.08"/>
<path d="M279.6,310.9h15.3l1.3,14.6h-15.3z" fill="#606060" fill-opacity="0.09"/>
<path d="M282.9,313h12.6l-0.8,10.5h-12.6z" fill="#909090" fill-opacity="0.07"/>
<path d="M303.6,339.5h18.7l-1.4,16.8h-18.7z" fill="#707070" fill-opacity="0.09"/>
<path d="M255.2,298.7h12.3l0.8,13.8h-12.3z" fill="#888888" fill-opacity="0.08"/>
<path d="M353.3,302.6h19l-1.6,17.2h-19z" fill="#888888" fill-opacity="0.04"/>
<path d="M268.9,307h16.5l-1.5,12.6h-16.5z" fill="#707070" fill-opacity="0.04"/>
<path d="M269.4,299.5h15l1.3,12.3h-15z" fill="#909090" fill-opacity="0.10"/>
<path d="M322.6,346.8h10.4l0.3,11.6h-10.4z" fill="#707070" fill-opacity="0.06"/>
<path d="M277.3,311.7h10.3l0.6,12h-10.3z" fill="#606060" fill-opacity="0.09"/>
<path d="M335.4,302h12.9l-1.3,13.2h-12.9z" fill="#808080" fill-opacity="0.09"/>
<path d="M306.3,348.8h17.4l0.3,17.3h-17.4z" fill="#808080" fill-opacity="0.06"/>
<path d="M277.4,310.1h10.7l1.7,9.2h-10.7z" fill="#808080" fill-opacity="0.08"/>
<path d="M301.2,331.8h18.5l-0.8,14.8h-18.5z" fill="#888888" fill-opacity="0.04"/>
<path d="M299.8,319.6h14.1l-1.7,15h-14.1z" fill="#888888" fill-opacity="0.07"/>
<path d="M226.9,281.7h18.6l-0,14.6h-18.6z" fill="#707070" fill-opacity="0.06"/>
<path d="M364.5,302.6h13.8l-1.2,10.1h-13.8z" fill="#888888" fill-opacity="0.05"/>
<path d="M285.3,323.7h11.1l1.2,12.5h-11.1z" fill="#909090" fill-opacity="0.07"/>
<path d="M315.6,335.6h15.8l0.1,17.6h-15.8z" fill="#808080" fill-opacity="0.04"/>
<path d="M298.5,307.4h19.9l-0.4,23.4h-19.9z" fill="#707070" fill-opacity="0.09"/>
<path d="M266.7,311.1h16.6l1.3,19.5h-16.6z" fill="#909090" fill-opacity="0.03"/>
<path d="M367.4,310.1h11.2l-0.1,10.8h-11.2z" fill="#606060" fill-opacity="0.05"/>
<path d="M330.1,309.9h10l-1,7.7h-10z" fill="#707070" fill-opacity="0.10"/>
<path d="M364,300.5h20.9l-1.1,16h-20.9z" fill="#606060" fill-opacity="0.07"/>
<path d="M225.4,276.4h16.5l-0.5,16.6h-16.5z" fill="#606060" fill-opacity="0.05"/>
<path d="M235.2,282h12.4l0.5,14h-12.4z" fill="#888888" fill-opacity="0.06"/>
<path d="M315.2,305.9h21.5l1.1,20.1h-21.5z" fill="#606060" fill-opacity="0.07"/>
<path d="M299.4,329.8h16.8l-0.8,17.7h-16.8z" fill="#707070" fill-opacity="0.08"/>
<path d="M281,323.3h14.3l1.4,11.9h-14.3z" fill="#808080" fill-opacity="0.09"/>
<path d="M459.4,295.5h10.9l-0.5,8.6h-10.9z" fill="#909090" fill-opacity="0.04"/>
<path d="M462.5,293.5h11.7l-0.8,12.6h-11.7z" fill="#909090" fill-opacity="0.04"/>
<path d="M459.7,297.4h16.2l-1,12.8h-16.2z" fill="#707070" fill-opacity="0.07"/>
<path d="M477.3,291.7h14.9l2,17.6h-14.9z" fill="#707070" fill-opacity="0.04"/>
<path d="M465.2,275.9h14l-1,16.2h-14z" fill="#707070" fill-opacity="0.05"/>
<path d="M474.6,296.4h10.7l-1.4,11.1h-10.7z" fill="#707070" fill-opacity="0.06"/>
<path d="M478.9,274.9h14l-1.2,12.3h-14z" fill="#808080" fill-opacity="0.04"/>
<path d="M458.1,289.4h15.3l-1.3,17.5h-15.3z" fill="#909090" fill-opacity="0.10"/>
</g>
<path d="M168.0,226.0 C171.4,226.9 180.0,227.9 188.5,231.3 C197.0,234.7 210.1,243.0 218.8,246.4 C227.5,249.8 231.6,250.6 240.8,252.0 C250.0,253.4 261.5,254.0 273.9,254.7 C286.3,255.4 299.0,256.2 315.0,256.0 C331.0,255.8 356.2,254.4 370.0,253.3 C383.8,252.2 388.5,251.0 397.7,249.2 C406.9,247.4 415.8,244.6 425.0,242.3 C434.2,240.0 443.6,237.2 452.8,235.4 C462.0,233.6 471.1,232.7 480.3,231.3 C489.5,229.9 501.4,228.1 507.8,227.2 C514.2,226.3 517.0,226.0 518.8,225.8 L518.8,252.5 L512,253 L502.3,256 L483,264.3 L476.2,272.6 L466.5,283.6 L452.8,291.8 L425.2,296 L384,298.5 L342.7,301.5 L304,304 L282,301.5 L265.6,295.5 L251.8,286.3 L238,272.6 L229.8,260.2 L222,256 L205,247 L190,236 L168,226 Z" fill="#b6b6b6" fill-opacity="0.92"/>
<clipPath id="bc1"><path d="M168.0,226.0 C171.4,226.9 180.0,227.9 188.5,231.3 C197.0,234.7 210.1,243.0 218.8,246.4 C227.5,249.8 231.6,250.6 240.8,252.0 C250.0,253.4 261.5,254.0 273.9,254.7 C286.3,255.4 299.0,256.2 315.0,256.0 C331.0,255.8 356.2,254.4 370.0,253.3 C383.8,252.2 388.5,251.0 397.7,249.2 C406.9,247.4 415.8,244.6 425.0,242.3 C434.2,240.0 443.6,237.2 452.8,235.4 C462.0,233.6 471.1,232.7 480.3,231.3 C489.5,229.9 501.4,228.1 507.8,227.2 C514.2,226.3 517.0,226.0 518.8,225.8 L518.8,252.5 L512,253 L502.3,256 L483,264.3 L476.2,272.6 L466.5,283.6 L452.8,291.8 L425.2,296 L384,298.5 L342.7,301.5 L304,304 L282,301.5 L265.6,295.5 L251.8,286.3 L238,272.6 L229.8,260.2 L222,256 L205,247 L190,236 L168,226 Z"/></clipPath>
<g fill="none" stroke="#585858" stroke-opacity="0.55" stroke-width="0.9" clip-path="url(#bc1)">
<path d="M168.0,231.4 C169.9,231.9 175.8,233.3 179.7,234.3 C183.6,235.4 187.5,236.4 191.4,238.0 C195.3,239.5 199.2,241.7 203.1,243.6 C207.0,245.5 210.9,247.7 214.8,249.3 C218.7,250.9 222.6,252.0 226.5,253.1 C230.4,254.3 234.3,255.3 238.2,256.0 C242.1,256.8 246.0,257.0 249.9,257.4 C253.8,257.8 257.6,258.0 261.5,258.3 C265.4,258.7 269.3,259.0 273.2,259.3 C277.1,259.5 281.0,259.5 284.9,259.7 C288.8,259.8 292.7,259.9 296.6,260.0 C300.5,260.1 304.4,260.3 308.3,260.4 C312.2,260.4 316.1,260.4 320.0,260.3 C323.9,260.2 327.8,260.0 331.7,259.8 C335.6,259.6 339.5,259.4 343.4,259.2 C347.3,259.0 351.2,258.9 355.1,258.7 C359.0,258.5 362.9,258.4 366.8,258.1 C370.7,257.8 374.6,257.2 378.5,256.7 C382.4,256.2 386.3,255.7 390.2,255.1 C394.1,254.4 398.0,253.8 401.9,252.9 C405.8,252.1 409.7,251.0 413.6,250.1 C417.5,249.1 421.4,248.1 425.3,247.2 C429.2,246.2 433.0,245.3 436.9,244.4 C440.8,243.4 444.7,242.4 448.6,241.6 C452.5,240.7 456.4,240.1 460.3,239.5 C464.2,238.8 468.1,238.3 472.0,237.8 C475.9,237.2 479.8,236.6 483.7,236.1 C487.6,235.5 491.5,234.9 495.4,234.4 C499.3,233.8 503.2,233.2 507.1,232.7 C511.0,232.1 516.9,231.5 518.8,231.2"/>
<path d="M168.0,236.8 C169.9,237.3 175.8,238.6 179.7,239.7 C183.6,240.7 187.5,241.7 191.4,243.2 C195.3,244.7 199.2,246.9 203.1,248.7 C207.0,250.5 210.9,252.7 214.8,254.2 C218.7,255.7 222.6,256.8 226.5,257.9 C230.4,259.0 234.3,260.1 238.2,260.8 C242.1,261.4 246.0,261.7 249.9,262.1 C253.8,262.5 257.6,262.7 261.5,263.0 C265.4,263.3 269.3,263.7 273.2,263.9 C277.1,264.1 281.0,264.2 284.9,264.3 C288.8,264.4 292.7,264.5 296.6,264.6 C300.5,264.7 304.4,264.9 308.3,265.0 C312.2,265.0 316.1,265.0 320.0,264.9 C323.9,264.8 327.8,264.6 331.7,264.4 C335.6,264.2 339.5,264.0 343.4,263.9 C347.3,263.7 351.2,263.5 355.1,263.3 C359.0,263.1 362.9,263.1 366.8,262.8 C370.7,262.5 374.6,261.9 378.5,261.4 C382.4,260.9 386.3,260.4 390.2,259.8 C394.1,259.2 398.0,258.6 401.9,257.7 C405.8,256.9 409.7,255.9 413.6,255.0 C417.5,254.0 421.4,253.1 425.3,252.2 C429.2,251.2 433.0,250.3 436.9,249.4 C440.8,248.5 444.7,247.5 448.6,246.7 C452.5,245.9 456.4,245.2 460.3,244.6 C464.2,244.0 468.1,243.5 472.0,243.0 C475.9,242.4 479.8,241.9 483.7,241.3 C487.6,240.8 491.5,240.2 495.4,239.7 C499.3,239.1 503.2,238.6 507.1,238.0 C511.0,237.5 516.9,236.9 518.8,236.6"/>
<path d="M168.0,242.2 C169.9,242.7 175.8,244.0 179.7,245.0 C183.6,246.0 187.5,246.9 191.4,248.4 C195.3,249.9 199.2,252.0 203.1,253.8 C207.0,255.5 210.9,257.6 214.8,259.1 C218.7,260.6 222.6,261.7 226.5,262.7 C230.4,263.8 234.3,264.8 238.2,265.5 C242.1,266.1 246.0,266.4 249.9,266.8 C253.8,267.1 257.6,267.3 261.5,267.6 C265.4,267.9 269.3,268.3 273.2,268.5 C277.1,268.7 281.0,268.8 284.9,268.9 C288.8,269.0 292.7,269.1 296.6,269.2 C300.5,269.3 304.4,269.5 308.3,269.6 C312.2,269.6 316.1,269.6 320.0,269.5 C323.9,269.4 327.8,269.2 331.7,269.0 C335.6,268.8 339.5,268.7 343.4,268.5 C347.3,268.3 351.2,268.1 355.1,268.0 C359.0,267.8 362.9,267.7 366.8,267.4 C370.7,267.1 374.6,266.6 378.5,266.1 C382.4,265.6 386.3,265.1 390.2,264.5 C394.1,263.9 398.0,263.3 401.9,262.5 C405.8,261.8 409.7,260.7 413.6,259.8 C417.5,258.9 421.4,258.0 425.3,257.1 C429.2,256.2 433.0,255.3 436.9,254.5 C440.8,253.6 444.7,252.6 448.6,251.8 C452.5,251.0 456.4,250.4 460.3,249.8 C464.2,249.2 468.1,248.7 472.0,248.2 C475.9,247.7 479.8,247.1 483.7,246.6 C487.6,246.1 491.5,245.5 495.4,245.0 C499.3,244.5 503.2,243.9 507.1,243.4 C511.0,242.9 516.9,242.3 518.8,242.0"/>
<path d="M168.0,247.6 C169.9,248.1 175.8,249.3 179.7,250.3 C183.6,251.3 187.5,252.2 191.4,253.6 C195.3,255.0 199.2,257.1 203.1,258.8 C207.0,260.5 210.9,262.6 214.8,264.0 C218.7,265.5 222.6,266.5 226.5,267.5 C230.4,268.6 234.3,269.5 238.2,270.2 C242.1,270.8 246.0,271.1 249.9,271.4 C253.8,271.8 257.6,272.0 261.5,272.3 C265.4,272.6 269.3,272.9 273.2,273.1 C277.1,273.3 281.0,273.4 284.9,273.5 C288.8,273.6 292.7,273.7 296.6,273.8 C300.5,273.9 304.4,274.1 308.3,274.2 C312.2,274.2 316.1,274.2 320.0,274.1 C323.9,274.0 327.8,273.8 331.7,273.6 C335.6,273.4 339.5,273.3 343.4,273.1 C347.3,272.9 351.2,272.8 355.1,272.6 C359.0,272.4 362.9,272.4 366.8,272.1 C370.7,271.8 374.6,271.3 378.5,270.8 C382.4,270.4 386.3,269.9 390.2,269.3 C394.1,268.7 398.0,268.1 401.9,267.3 C405.8,266.6 409.7,265.6 413.6,264.7 C417.5,263.8 421.4,263.0 425.3,262.1 C429.2,261.2 433.0,260.4 436.9,259.5 C440.8,258.6 444.7,257.7 448.6,256.9 C452.5,256.2 456.4,255.6 460.3,255.0 C464.2,254.4 468.1,254.0 472.0,253.4 C475.9,252.9 479.8,252.4 483.7,251.9 C487.6,251.4 491.5,250.9 495.4,250.3 C499.3,249.8 503.2,249.3 507.1,248.8 C511.0,248.3 516.9,247.7 518.8,247.4"/>
<path d="M168.0,253.0 C169.9,253.5 175.8,254.7 179.7,255.6 C183.6,256.6 187.5,257.5 191.4,258.8 C195.3,260.2 199.2,262.2 203.1,263.9 C207.0,265.6 210.9,267.5 214.8,268.9 C218.7,270.3 222.6,271.3 226.5,272.3 C230.4,273.3 234.3,274.3 238.2,274.9 C242.1,275.5 246.0,275.8 249.9,276.1 C253.8,276.5 257.6,276.7 261.5,276.9 C265.4,277.2 269.3,277.6 273.2,277.8 C277.1,278.0 281.0,278.0 284.9,278.1 C288.8,278.2 292.7,278.3 296.6,278.4 C300.5,278.5 304.4,278.7 308.3,278.8 C312.2,278.8 316.1,278.8 320.0,278.7 C323.9,278.6 327.8,278.4 331.7,278.2 C335.6,278.1 339.5,277.9 343.4,277.7 C347.3,277.6 351.2,277.4 355.1,277.2 C359.0,277.1 362.9,277.0 366.8,276.7 C370.7,276.5 374.6,276.0 378.5,275.5 C382.4,275.1 386.3,274.6 390.2,274.0 C394.1,273.5 398.0,272.9 401.9,272.2 C405.8,271.4 409.7,270.4 413.6,269.6 C417.5,268.7 421.4,267.9 425.3,267.0 C429.2,266.2 433.0,265.4 436.9,264.5 C440.8,263.7 444.7,262.8 448.6,262.0 C452.5,261.3 456.4,260.7 460.3,260.2 C464.2,259.6 468.1,259.2 472.0,258.7 C475.9,258.2 479.8,257.7 483.7,257.2 C487.6,256.7 491.5,256.2 495.4,255.7 C499.3,255.2 503.2,254.6 507.1,254.1 C511.0,253.7 516.9,253.1 518.8,252.9"/>
<path d="M168.0,258.4 C169.9,258.8 175.8,260.0 179.7,261.0 C183.6,261.9 187.5,262.7 191.4,264.1 C195.3,265.4 199.2,267.3 203.1,268.9 C207.0,270.6 210.9,272.4 214.8,273.8 C218.7,275.2 222.6,276.2 226.5,277.1 C230.4,278.1 234.3,279.0 238.2,279.6 C242.1,280.2 246.0,280.5 249.9,280.8 C253.8,281.1 257.6,281.3 261.5,281.6 C265.4,281.9 269.3,282.2 273.2,282.4 C277.1,282.6 281.0,282.6 284.9,282.7 C288.8,282.8 292.7,282.9 296.6,283.0 C300.5,283.1 304.4,283.3 308.3,283.3 C312.2,283.4 316.1,283.4 320.0,283.3 C323.9,283.2 327.8,283.0 331.7,282.8 C335.6,282.7 339.5,282.5 343.4,282.4 C347.3,282.2 351.2,282.0 355.1,281.9 C359.0,281.7 362.9,281.7 366.8,281.4 C370.7,281.1 374.6,280.6 378.5,280.2 C382.4,279.8 386.3,279.3 390.2,278.8 C394.1,278.2 398.0,277.7 401.9,277.0 C405.8,276.2 409.7,275.3 413.6,274.5 C417.5,273.7 421.4,272.8 425.3,272.0 C429.2,271.2 433.0,270.4 436.9,269.6 C440.8,268.8 444.7,267.9 448.6,267.2 C452.5,266.4 456.4,265.9 460.3,265.4 C464.2,264.8 468.1,264.4 472.0,263.9 C475.9,263.4 479.8,262.9 483.7,262.4 C487.6,261.9 491.5,261.5 495.4,261.0 C499.3,260.5 503.2,260.0 507.1,259.5 C511.0,259.1 516.9,258.5 518.8,258.3"/>
<path d="M168.0,263.8 C169.9,264.2 175.8,265.4 179.7,266.3 C183.6,267.2 187.5,268.0 191.4,269.3 C195.3,270.6 199.2,272.4 203.1,274.0 C207.0,275.6 210.9,277.4 214.8,278.7 C218.7,280.0 222.6,281.0 226.5,281.9 C230.4,282.9 234.3,283.7 238.2,284.3 C242.1,284.9 246.0,285.1 249.9,285.5 C253.8,285.8 257.6,286.0 261.5,286.2 C265.4,286.5 269.3,286.8 273.2,287.0 C277.1,287.2 281.0,287.2 284.9,287.3 C288.8,287.4 292.7,287.5 296.6,287.6 C300.5,287.7 304.4,287.9 308.3,287.9 C312.2,288.0 316.1,288.0 320.0,287.9 C323.9,287.8 327.8,287.6 331.7,287.4 C335.6,287.3 339.5,287.1 343.4,287.0 C347.3,286.8 351.2,286.7 355.1,286.5 C359.0,286.4 362.9,286.3 366.8,286.0 C370.7,285.8 374.6,285.3 378.5,284.9 C382.4,284.5 386.3,284.0 390.2,283.5 C394.1,283.0 398.0,282.4 401.9,281.8 C405.8,281.1 409.7,280.2 413.6,279.4 C417.5,278.6 421.4,277.8 425.3,277.0 C429.2,276.2 433.0,275.4 436.9,274.6 C440.8,273.8 444.7,273.0 448.6,272.3 C452.5,271.6 456.4,271.1 460.3,270.5 C464.2,270.0 468.1,269.6 472.0,269.1 C475.9,268.6 479.8,268.2 483.7,267.7 C487.6,267.2 491.5,266.8 495.4,266.3 C499.3,265.8 503.2,265.3 507.1,264.9 C511.0,264.4 516.9,263.9 518.8,263.7"/>
<path d="M168.0,269.2 C169.9,269.6 175.8,270.7 179.7,271.6 C183.6,272.5 187.5,273.3 191.4,274.5 C195.3,275.7 199.2,277.5 203.1,279.1 C207.0,280.6 210.9,282.3 214.8,283.6 C218.7,284.9 222.6,285.8 226.5,286.7 C230.4,287.6 234.3,288.5 238.2,289.0 C242.1,289.6 246.0,289.8 249.9,290.1 C253.8,290.5 257.6,290.6 261.5,290.9 C265.4,291.1 269.3,291.5 273.2,291.6 C277.1,291.8 281.0,291.8 284.9,291.9 C288.8,292.0 292.7,292.1 296.6,292.2 C300.5,292.3 304.4,292.5 308.3,292.5 C312.2,292.6 316.1,292.6 320.0,292.5 C323.9,292.4 327.8,292.2 331.7,292.1 C335.6,291.9 339.5,291.8 343.4,291.6 C347.3,291.5 351.2,291.3 355.1,291.2 C359.0,291.0 362.9,291.0 366.8,290.7 C370.7,290.4 374.6,290.0 378.5,289.6 C382.4,289.2 386.3,288.8 390.2,288.2 C394.1,287.7 398.0,287.2 401.9,286.6 C405.8,285.9 409.7,285.0 413.6,284.2 C417.5,283.5 421.4,282.7 425.3,281.9 C429.2,281.2 433.0,280.4 436.9,279.7 C440.8,278.9 444.7,278.1 448.6,277.4 C452.5,276.7 456.4,276.2 460.3,275.7 C464.2,275.2 468.1,274.8 472.0,274.3 C475.9,273.9 479.8,273.4 483.7,273.0 C487.6,272.5 491.5,272.1 495.4,271.6 C499.3,271.2 503.2,270.7 507.1,270.3 C511.0,269.8 516.9,269.3 518.8,269.1"/>
<path d="M168.0,274.6 C169.9,275.0 175.8,276.1 179.7,276.9 C183.6,277.8 187.5,278.5 191.4,279.7 C195.3,280.9 199.2,282.7 203.1,284.1 C207.0,285.6 210.9,287.3 214.8,288.5 C218.7,289.8 222.6,290.6 226.5,291.5 C230.4,292.4 234.3,293.2 238.2,293.8 C242.1,294.3 246.0,294.5 249.9,294.8 C253.8,295.1 257.6,295.3 261.5,295.5 C265.4,295.8 269.3,296.1 273.2,296.3 C277.1,296.4 281.0,296.5 284.9,296.6 C288.8,296.7 292.7,296.7 296.6,296.8 C300.5,296.9 304.4,297.1 308.3,297.1 C312.2,297.2 316.1,297.2 320.0,297.1 C323.9,297.0 327.8,296.8 331.7,296.7 C335.6,296.5 339.5,296.4 343.4,296.2 C347.3,296.1 351.2,295.9 355.1,295.8 C359.0,295.6 362.9,295.6 366.8,295.4 C370.7,295.1 374.6,294.7 378.5,294.3 C382.4,293.9 386.3,293.5 390.2,293.0 C394.1,292.5 398.0,292.0 401.9,291.4 C405.8,290.7 409.7,289.9 413.6,289.1 C417.5,288.4 421.4,287.6 425.3,286.9 C429.2,286.2 433.0,285.4 436.9,284.7 C440.8,284.0 444.7,283.2 448.6,282.5 C452.5,281.9 456.4,281.4 460.3,280.9 C464.2,280.4 468.1,280.0 472.0,279.6 C475.9,279.1 479.8,278.7 483.7,278.3 C487.6,277.8 491.5,277.4 495.4,276.9 C499.3,276.5 503.2,276.0 507.1,275.6 C511.0,275.2 516.9,274.7 518.8,274.5"/>
<path d="M168.0,280.0 C169.9,280.4 175.8,281.4 179.7,282.2 C183.6,283.1 187.5,283.8 191.4,284.9 C195.3,286.1 199.2,287.8 203.1,289.2 C207.0,290.6 210.9,292.2 214.8,293.4 C218.7,294.6 222.6,295.5 226.5,296.3 C230.4,297.1 234.3,297.9 238.2,298.5 C242.1,299.0 246.0,299.2 249.9,299.5 C253.8,299.8 257.6,300.0 261.5,300.2 C265.4,300.4 269.3,300.7 273.2,300.9 C277.1,301.0 281.0,301.1 284.9,301.2 C288.8,301.3 292.7,301.4 296.6,301.4 C300.5,301.5 304.4,301.7 308.3,301.7 C312.2,301.8 316.1,301.8 320.0,301.7 C323.9,301.6 327.8,301.4 331.7,301.3 C335.6,301.1 339.5,301.0 343.4,300.9 C347.3,300.7 351.2,300.6 355.1,300.4 C359.0,300.3 362.9,300.3 366.8,300.0 C370.7,299.8 374.6,299.4 378.5,299.0 C382.4,298.6 386.3,298.2 390.2,297.7 C394.1,297.3 398.0,296.8 401.9,296.2 C405.8,295.5 409.7,294.7 413.6,294.0 C417.5,293.3 421.4,292.6 425.3,291.9 C429.2,291.1 433.0,290.4 436.9,289.7 C440.8,289.0 444.7,288.2 448.6,287.6 C452.5,287.0 456.4,286.5 460.3,286.1 C464.2,285.6 468.1,285.2 472.0,284.8 C475.9,284.4 479.8,284.0 483.7,283.5 C487.6,283.1 491.5,282.7 495.4,282.3 C499.3,281.8 503.2,281.4 507.1,281.0 C511.0,280.6 516.9,280.1 518.8,279.9"/>
<path d="M168.0,285.5 C169.9,285.8 175.8,286.8 179.7,287.6 C183.6,288.4 187.5,289.1 191.4,290.2 C195.3,291.3 199.2,292.9 203.1,294.2 C207.0,295.6 210.9,297.2 214.8,298.3 C218.7,299.5 222.6,300.3 226.5,301.1 C230.4,301.9 234.3,302.7 238.2,303.2 C242.1,303.7 246.0,303.9 249.9,304.2 C253.8,304.4 257.6,304.6 261.5,304.8 C265.4,305.1 269.3,305.3 273.2,305.5 C277.1,305.7 281.0,305.7 284.9,305.8 C288.8,305.9 292.7,306.0 296.6,306.0 C300.5,306.1 304.4,306.3 308.3,306.3 C312.2,306.3 316.1,306.4 320.0,306.3 C323.9,306.2 327.8,306.0 331.7,305.9 C335.6,305.7 339.5,305.6 343.4,305.5 C347.3,305.3 351.2,305.2 355.1,305.1 C359.0,304.9 362.9,304.9 366.8,304.7 C370.7,304.4 374.6,304.0 378.5,303.7 C382.4,303.3 386.3,302.9 390.2,302.5 C394.1,302.0 398.0,301.6 401.9,301.0 C405.8,300.4 409.7,299.6 413.6,298.9 C417.5,298.2 421.4,297.5 425.3,296.8 C429.2,296.1 433.0,295.5 436.9,294.8 C440.8,294.1 444.7,293.3 448.6,292.8 C452.5,292.2 456.4,291.7 460.3,291.2 C464.2,290.8 468.1,290.4 472.0,290.0 C475.9,289.6 479.8,289.2 483.7,288.8 C487.6,288.4 491.5,288.0 495.4,287.6 C499.3,287.2 503.2,286.7 507.1,286.4 C511.0,286.0 516.9,285.5 518.8,285.3"/>
</g>
<path d="M518.8,226.0 C521.2,228.2 524.6,234.7 533.0,239.0 C541.4,243.3 554.8,248.5 569.0,252.0 C583.2,255.5 601.7,259.3 618.0,260.0 C634.3,260.7 650.7,258.0 667.0,256.0 C683.3,254.0 699.7,250.2 716.0,248.0 C732.3,245.8 748.8,244.1 765.0,243.0 C781.2,241.9 797.2,241.3 813.5,241.5 C829.8,241.7 849.9,243.4 862.5,244.0 C875.1,244.6 880.6,244.5 889.0,245.0 C897.4,245.5 904.8,247.8 913.0,247.0 C921.2,246.2 930.7,241.7 938.0,240.0 C945.3,238.3 950.5,238.3 957.0,237.0 C963.5,235.7 971.7,234.0 977.0,232.0 C982.3,230.0 987.0,226.2 989.0,225.0 L989,226 L972,240 L950,255 L933,267 L913,277 L896,286 L862.5,300 L823,325 L794,349 L765,370 L740,382 L706,387 L676,385 L654,371 L632,358 L615,341 L604,330 L593,316 L574,303 L560,289 L545,270 L530,256 L518.8,252.5 Z" fill="#adadad" fill-opacity="0.93"/>
<clipPath id="bc2"><path d="M518.8,226.0 C521.2,228.2 524.6,234.7 533.0,239.0 C541.4,243.3 554.8,248.5 569.0,252.0 C583.2,255.5 601.7,259.3 618.0,260.0 C634.3,260.7 650.7,258.0 667.0,256.0 C683.3,254.0 699.7,250.2 716.0,248.0 C732.3,245.8 748.8,244.1 765.0,243.0 C781.2,241.9 797.2,241.3 813.5,241.5 C829.8,241.7 849.9,243.4 862.5,244.0 C875.1,244.6 880.6,244.5 889.0,245.0 C897.4,245.5 904.8,247.8 913.0,247.0 C921.2,246.2 930.7,241.7 938.0,240.0 C945.3,238.3 950.5,238.3 957.0,237.0 C963.5,235.7 971.7,234.0 977.0,232.0 C982.3,230.0 987.0,226.2 989.0,225.0 L989,226 L972,240 L950,255 L933,267 L913,277 L896,286 L862.5,300 L823,325 L794,349 L765,370 L740,382 L706,387 L676,385 L654,371 L632,358 L615,341 L604,330 L593,316 L574,303 L560,289 L545,270 L530,256 L518.8,252.5 Z"/></clipPath>
<g fill="none" stroke="#505050" stroke-opacity="0.5" stroke-width="0.9" clip-path="url(#bc2)">
<path d="M518.8,232.0 C521.4,234.2 529.2,242.1 534.5,245.2 C539.7,248.3 544.9,248.9 550.1,250.7 C555.4,252.6 560.6,254.8 565.8,256.3 C571.0,257.7 576.3,258.4 581.5,259.4 C586.7,260.3 591.9,261.0 597.2,261.9 C602.4,262.7 607.6,264.0 612.8,264.4 C618.1,264.8 623.3,264.6 628.5,264.4 C633.7,264.2 639.0,263.5 644.2,263.1 C649.4,262.7 654.6,262.4 659.9,261.9 C665.1,261.3 670.3,260.7 675.5,259.9 C680.8,259.2 686.0,258.3 691.2,257.4 C696.4,256.6 701.7,255.7 706.9,254.9 C712.1,254.2 717.3,253.4 722.6,252.8 C727.8,252.2 733.0,251.8 738.2,251.3 C743.5,250.7 748.7,250.2 753.9,249.7 C759.1,249.2 764.3,248.7 769.6,248.4 C774.8,248.2 780.0,248.1 785.2,248.0 C790.5,247.8 795.7,247.6 800.9,247.5 C806.1,247.4 811.4,247.2 816.6,247.3 C821.8,247.4 827.0,247.8 832.3,248.1 C837.5,248.3 842.7,248.6 847.9,248.8 C853.2,249.1 858.4,249.4 863.6,249.6 C868.8,249.8 874.1,249.9 879.3,250.2 C884.5,250.4 889.7,250.7 895.0,251.0 C900.2,251.4 905.4,252.7 910.6,252.3 C915.9,251.9 921.1,250.1 926.3,248.9 C931.5,247.6 936.8,246.1 942.0,245.0 C947.2,244.0 952.4,243.6 957.7,242.6 C962.9,241.5 968.1,240.7 973.3,238.7 C978.6,236.8 986.4,232.3 989.0,231.0"/>
<path d="M518.8,237.9 C521.4,240.1 529.2,247.8 534.5,250.9 C539.7,253.9 544.9,254.5 550.1,256.3 C555.4,258.1 560.6,260.3 565.8,261.7 C571.0,263.1 576.3,263.8 581.5,264.7 C586.7,265.6 591.9,266.4 597.2,267.2 C602.4,268.0 607.6,269.2 612.8,269.6 C618.1,270.0 623.3,269.8 628.5,269.6 C633.7,269.4 639.0,268.8 644.2,268.4 C649.4,268.0 654.6,267.7 659.9,267.2 C665.1,266.6 670.3,266.0 675.5,265.3 C680.8,264.5 686.0,263.6 691.2,262.8 C696.4,262.0 701.7,261.1 706.9,260.4 C712.1,259.6 717.3,258.9 722.6,258.3 C727.8,257.7 733.0,257.3 738.2,256.8 C743.5,256.3 748.7,255.7 753.9,255.3 C759.1,254.8 764.3,254.3 769.6,254.0 C774.8,253.8 780.0,253.7 785.2,253.6 C790.5,253.4 795.7,253.2 800.9,253.1 C806.1,253.0 811.4,252.8 816.6,252.9 C821.8,253.0 827.0,253.4 832.3,253.7 C837.5,253.9 842.7,254.2 847.9,254.4 C853.2,254.7 858.4,254.9 863.6,255.2 C868.8,255.4 874.1,255.5 879.3,255.7 C884.5,256.0 889.7,256.2 895.0,256.6 C900.2,256.9 905.4,258.2 910.6,257.8 C915.9,257.5 921.1,255.6 926.3,254.4 C931.5,253.3 936.8,251.7 942.0,250.7 C947.2,249.7 952.4,249.3 957.7,248.3 C962.9,247.3 968.1,246.4 973.3,244.5 C978.6,242.7 986.4,238.2 989.0,237.0"/>
<path d="M518.8,243.9 C521.4,246.0 529.2,253.5 534.5,256.5 C539.7,259.5 544.9,260.0 550.1,261.8 C555.4,263.6 560.6,265.7 565.8,267.1 C571.0,268.5 576.3,269.2 581.5,270.1 C586.7,271.0 591.9,271.7 597.2,272.4 C602.4,273.2 607.6,274.4 612.8,274.8 C618.1,275.2 623.3,275.0 628.5,274.8 C633.7,274.6 639.0,274.0 644.2,273.6 C649.4,273.2 654.6,272.9 659.9,272.4 C665.1,271.9 670.3,271.3 675.5,270.6 C680.8,269.9 686.0,269.0 691.2,268.2 C696.4,267.4 701.7,266.5 706.9,265.8 C712.1,265.1 717.3,264.4 722.6,263.8 C727.8,263.2 733.0,262.8 738.2,262.3 C743.5,261.8 748.7,261.3 753.9,260.8 C759.1,260.4 764.3,259.9 769.6,259.6 C774.8,259.4 780.0,259.3 785.2,259.2 C790.5,259.0 795.7,258.8 800.9,258.7 C806.1,258.6 811.4,258.4 816.6,258.5 C821.8,258.6 827.0,259.0 832.3,259.3 C837.5,259.5 842.7,259.8 847.9,260.0 C853.2,260.2 858.4,260.5 863.6,260.7 C868.8,260.9 874.1,261.1 879.3,261.3 C884.5,261.5 889.7,261.8 895.0,262.1 C900.2,262.4 905.4,263.7 910.6,263.3 C915.9,263.0 921.1,261.2 926.3,260.0 C931.5,258.9 936.8,257.4 942.0,256.4 C947.2,255.4 952.4,255.0 957.7,254.0 C962.9,253.0 968.1,252.2 973.3,250.3 C978.6,248.5 986.4,244.2 989.0,243.0"/>
<path d="M518.8,249.9 C521.4,251.9 529.2,259.3 534.5,262.2 C539.7,265.1 544.9,265.6 550.1,267.3 C555.4,269.1 560.6,271.2 565.8,272.5 C571.0,273.8 576.3,274.5 581.5,275.4 C586.7,276.3 591.9,277.0 597.2,277.7 C602.4,278.5 607.6,279.7 612.8,280.1 C618.1,280.5 623.3,280.2 628.5,280.1 C633.7,279.9 639.0,279.3 644.2,278.9 C649.4,278.5 654.6,278.2 659.9,277.7 C665.1,277.2 670.3,276.6 675.5,275.9 C680.8,275.2 686.0,274.4 691.2,273.6 C696.4,272.8 701.7,272.0 706.9,271.3 C712.1,270.5 717.3,269.9 722.6,269.3 C727.8,268.7 733.0,268.3 738.2,267.8 C743.5,267.3 748.7,266.8 753.9,266.4 C759.1,265.9 764.3,265.5 769.6,265.2 C774.8,264.9 780.0,264.9 785.2,264.8 C790.5,264.6 795.7,264.4 800.9,264.3 C806.1,264.2 811.4,264.0 816.6,264.1 C821.8,264.2 827.0,264.6 832.3,264.8 C837.5,265.1 842.7,265.3 847.9,265.6 C853.2,265.8 858.4,266.1 863.6,266.3 C868.8,266.5 874.1,266.6 879.3,266.8 C884.5,267.1 889.7,267.3 895.0,267.6 C900.2,267.9 905.4,269.1 910.6,268.8 C915.9,268.5 921.1,266.7 926.3,265.6 C931.5,264.5 936.8,263.0 942.0,262.0 C947.2,261.1 952.4,260.7 957.7,259.7 C962.9,258.7 968.1,258.0 973.3,256.2 C978.6,254.4 986.4,250.1 989.0,248.9"/>
<path d="M518.8,255.8 C521.4,257.8 529.2,265.0 534.5,267.8 C539.7,270.7 544.9,271.2 550.1,272.9 C555.4,274.6 560.6,276.6 565.8,277.9 C571.0,279.2 576.3,279.9 581.5,280.7 C586.7,281.6 591.9,282.3 597.2,283.0 C602.4,283.8 607.6,284.9 612.8,285.3 C618.1,285.7 623.3,285.5 628.5,285.3 C633.7,285.1 639.0,284.5 644.2,284.1 C649.4,283.8 654.6,283.5 659.9,283.0 C665.1,282.5 670.3,281.9 675.5,281.2 C680.8,280.6 686.0,279.7 691.2,279.0 C696.4,278.2 701.7,277.4 706.9,276.7 C712.1,276.0 717.3,275.3 722.6,274.8 C727.8,274.2 733.0,273.8 738.2,273.4 C743.5,272.9 748.7,272.4 753.9,271.9 C759.1,271.5 764.3,271.1 769.6,270.8 C774.8,270.5 780.0,270.5 785.2,270.4 C790.5,270.2 795.7,270.0 800.9,269.9 C806.1,269.8 811.4,269.7 816.6,269.7 C821.8,269.8 827.0,270.2 832.3,270.4 C837.5,270.7 842.7,270.9 847.9,271.2 C853.2,271.4 858.4,271.7 863.6,271.9 C868.8,272.1 874.1,272.2 879.3,272.4 C884.5,272.6 889.7,272.8 895.0,273.1 C900.2,273.5 905.4,274.6 910.6,274.3 C915.9,274.0 921.1,272.3 926.3,271.2 C931.5,270.1 936.8,268.7 942.0,267.7 C947.2,266.8 952.4,266.4 957.7,265.5 C962.9,264.5 968.1,263.7 973.3,262.0 C978.6,260.2 986.4,256.1 989.0,254.9"/>
<path d="M518.8,261.8 C521.4,263.7 529.2,270.7 534.5,273.5 C539.7,276.3 544.9,276.8 550.1,278.4 C555.4,280.1 560.6,282.0 565.8,283.3 C571.0,284.6 576.3,285.3 581.5,286.1 C586.7,286.9 591.9,287.6 597.2,288.3 C602.4,289.0 607.6,290.2 612.8,290.5 C618.1,290.9 623.3,290.7 628.5,290.5 C633.7,290.3 639.0,289.8 644.2,289.4 C649.4,289.0 654.6,288.8 659.9,288.3 C665.1,287.8 670.3,287.2 675.5,286.6 C680.8,285.9 686.0,285.1 691.2,284.4 C696.4,283.6 701.7,282.8 706.9,282.1 C712.1,281.5 717.3,280.8 722.6,280.3 C727.8,279.7 733.0,279.3 738.2,278.9 C743.5,278.4 748.7,277.9 753.9,277.5 C759.1,277.1 764.3,276.6 769.6,276.4 C774.8,276.1 780.0,276.1 785.2,276.0 C790.5,275.8 795.7,275.7 800.9,275.6 C806.1,275.4 811.4,275.3 816.6,275.4 C821.8,275.4 827.0,275.8 832.3,276.0 C837.5,276.3 842.7,276.5 847.9,276.7 C853.2,277.0 858.4,277.2 863.6,277.4 C868.8,277.6 874.1,277.7 879.3,277.9 C884.5,278.1 889.7,278.4 895.0,278.7 C900.2,279.0 905.4,280.1 910.6,279.8 C915.9,279.5 921.1,277.8 926.3,276.8 C931.5,275.7 936.8,274.3 942.0,273.4 C947.2,272.4 952.4,272.1 957.7,271.2 C962.9,270.2 968.1,269.5 973.3,267.8 C978.6,266.1 986.4,262.1 989.0,260.9"/>
<path d="M518.8,267.7 C521.4,269.7 529.2,276.5 534.5,279.2 C539.7,281.9 544.9,282.4 550.1,284.0 C555.4,285.5 560.6,287.5 565.8,288.7 C571.0,290.0 576.3,290.6 581.5,291.4 C586.7,292.2 591.9,292.9 597.2,293.6 C602.4,294.3 607.6,295.4 612.8,295.7 C618.1,296.1 623.3,295.9 628.5,295.7 C633.7,295.6 639.0,295.0 644.2,294.7 C649.4,294.3 654.6,294.0 659.9,293.6 C665.1,293.1 670.3,292.5 675.5,291.9 C680.8,291.3 686.0,290.5 691.2,289.7 C696.4,289.0 701.7,288.2 706.9,287.6 C712.1,286.9 717.3,286.3 722.6,285.8 C727.8,285.2 733.0,284.9 738.2,284.4 C743.5,284.0 748.7,283.5 753.9,283.1 C759.1,282.7 764.3,282.2 769.6,282.0 C774.8,281.7 780.0,281.7 785.2,281.6 C790.5,281.4 795.7,281.3 800.9,281.2 C806.1,281.1 811.4,280.9 816.6,281.0 C821.8,281.0 827.0,281.4 832.3,281.6 C837.5,281.9 842.7,282.1 847.9,282.3 C853.2,282.5 858.4,282.8 863.6,283.0 C868.8,283.2 874.1,283.3 879.3,283.5 C884.5,283.7 889.7,283.9 895.0,284.2 C900.2,284.5 905.4,285.6 910.6,285.3 C915.9,285.0 921.1,283.4 926.3,282.3 C931.5,281.3 936.8,279.9 942.0,279.0 C947.2,278.1 952.4,277.8 957.7,276.9 C962.9,276.0 968.1,275.3 973.3,273.6 C978.6,271.9 986.4,268.0 989.0,266.9"/>
<path d="M518.8,273.7 C521.4,275.6 529.2,282.2 534.5,284.8 C539.7,287.5 544.9,287.9 550.1,289.5 C555.4,291.0 560.6,292.9 565.8,294.1 C571.0,295.4 576.3,296.0 581.5,296.8 C586.7,297.6 591.9,298.2 597.2,298.9 C602.4,299.6 607.6,300.6 612.8,301.0 C618.1,301.3 623.3,301.1 628.5,301.0 C633.7,300.8 639.0,300.3 644.2,299.9 C649.4,299.6 654.6,299.3 659.9,298.9 C665.1,298.4 670.3,297.9 675.5,297.2 C680.8,296.6 686.0,295.8 691.2,295.1 C696.4,294.4 701.7,293.7 706.9,293.0 C712.1,292.4 717.3,291.8 722.6,291.2 C727.8,290.7 733.0,290.4 738.2,289.9 C743.5,289.5 748.7,289.0 753.9,288.6 C759.1,288.2 764.3,287.8 769.6,287.6 C774.8,287.3 780.0,287.3 785.2,287.2 C790.5,287.0 795.7,286.9 800.9,286.8 C806.1,286.7 811.4,286.5 816.6,286.6 C821.8,286.7 827.0,287.0 832.3,287.2 C837.5,287.5 842.7,287.7 847.9,287.9 C853.2,288.1 858.4,288.4 863.6,288.5 C868.8,288.7 874.1,288.8 879.3,289.0 C884.5,289.2 889.7,289.4 895.0,289.7 C900.2,290.0 905.4,291.1 910.6,290.8 C915.9,290.5 921.1,288.9 926.3,287.9 C931.5,286.9 936.8,285.6 942.0,284.7 C947.2,283.8 952.4,283.5 957.7,282.6 C962.9,281.7 968.1,281.0 973.3,279.4 C978.6,277.8 986.4,274.0 989.0,272.9"/>
<path d="M518.8,279.7 C521.4,281.5 529.2,287.9 534.5,290.5 C539.7,293.1 544.9,293.5 550.1,295.0 C555.4,296.5 560.6,298.4 565.8,299.6 C571.0,300.7 576.3,301.3 581.5,302.1 C586.7,302.9 591.9,303.5 597.2,304.2 C602.4,304.8 607.6,305.9 612.8,306.2 C618.1,306.5 623.3,306.4 628.5,306.2 C633.7,306.0 639.0,305.5 644.2,305.2 C649.4,304.8 654.6,304.6 659.9,304.1 C665.1,303.7 670.3,303.2 675.5,302.6 C680.8,302.0 686.0,301.2 691.2,300.5 C696.4,299.8 701.7,299.1 706.9,298.5 C712.1,297.8 717.3,297.2 722.6,296.7 C727.8,296.2 733.0,295.9 738.2,295.5 C743.5,295.0 748.7,294.6 753.9,294.2 C759.1,293.8 764.3,293.4 769.6,293.2 C774.8,292.9 780.0,292.9 785.2,292.8 C790.5,292.6 795.7,292.5 800.9,292.4 C806.1,292.3 811.4,292.1 816.6,292.2 C821.8,292.3 827.0,292.6 832.3,292.8 C837.5,293.1 842.7,293.3 847.9,293.5 C853.2,293.7 858.4,293.9 863.6,294.1 C868.8,294.3 874.1,294.4 879.3,294.6 C884.5,294.8 889.7,295.0 895.0,295.3 C900.2,295.6 905.4,296.6 910.6,296.3 C915.9,296.0 921.1,294.5 926.3,293.5 C931.5,292.5 936.8,291.2 942.0,290.4 C947.2,289.5 952.4,289.2 957.7,288.3 C962.9,287.5 968.1,286.8 973.3,285.2 C978.6,283.6 986.4,279.9 989.0,278.9"/>
<path d="M518.8,285.6 C521.4,287.4 529.2,293.7 534.5,296.2 C539.7,298.6 544.9,299.1 550.1,300.6 C555.4,302.0 560.6,303.8 565.8,305.0 C571.0,306.1 576.3,306.7 581.5,307.4 C586.7,308.2 591.9,308.8 597.2,309.4 C602.4,310.1 607.6,311.1 612.8,311.4 C618.1,311.8 623.3,311.6 628.5,311.4 C633.7,311.2 639.0,310.8 644.2,310.4 C649.4,310.1 654.6,309.8 659.9,309.4 C665.1,309.0 670.3,308.5 675.5,307.9 C680.8,307.3 686.0,306.6 691.2,305.9 C696.4,305.2 701.7,304.5 706.9,303.9 C712.1,303.3 717.3,302.7 722.6,302.2 C727.8,301.7 733.0,301.4 738.2,301.0 C743.5,300.6 748.7,300.1 753.9,299.7 C759.1,299.4 764.3,299.0 769.6,298.7 C774.8,298.5 780.0,298.5 785.2,298.4 C790.5,298.2 795.7,298.1 800.9,298.0 C806.1,297.9 811.4,297.7 816.6,297.8 C821.8,297.9 827.0,298.2 832.3,298.4 C837.5,298.6 842.7,298.9 847.9,299.1 C853.2,299.3 858.4,299.5 863.6,299.7 C868.8,299.8 874.1,299.9 879.3,300.1 C884.5,300.3 889.7,300.5 895.0,300.8 C900.2,301.1 905.4,302.1 910.6,301.8 C915.9,301.5 921.1,300.0 926.3,299.1 C931.5,298.1 936.8,296.9 942.0,296.0 C947.2,295.2 952.4,294.9 957.7,294.1 C962.9,293.2 968.1,292.6 973.3,291.0 C978.6,289.5 986.4,285.9 989.0,284.9"/>
<path d="M518.8,291.6 C521.4,293.3 529.2,299.4 534.5,301.8 C539.7,304.2 544.9,304.7 550.1,306.1 C555.4,307.5 560.6,309.3 565.8,310.4 C571.0,311.5 576.3,312.1 581.5,312.8 C586.7,313.5 591.9,314.1 597.2,314.7 C602.4,315.4 607.6,316.3 612.8,316.7 C618.1,317.0 623.3,316.8 628.5,316.6 C633.7,316.5 639.0,316.0 644.2,315.7 C649.4,315.4 654.6,315.1 659.9,314.7 C665.1,314.3 670.3,313.8 675.5,313.2 C680.8,312.6 686.0,311.9 691.2,311.3 C696.4,310.6 701.7,309.9 706.9,309.3 C712.1,308.8 717.3,308.2 722.6,307.7 C727.8,307.2 733.0,306.9 738.2,306.5 C743.5,306.1 748.7,305.7 753.9,305.3 C759.1,304.9 764.3,304.6 769.6,304.3 C774.8,304.1 780.0,304.1 785.2,304.0 C790.5,303.8 795.7,303.7 800.9,303.6 C806.1,303.5 811.4,303.4 816.6,303.4 C821.8,303.5 827.0,303.8 832.3,304.0 C837.5,304.2 842.7,304.4 847.9,304.6 C853.2,304.8 858.4,305.1 863.6,305.2 C868.8,305.4 874.1,305.5 879.3,305.7 C884.5,305.9 889.7,306.1 895.0,306.3 C900.2,306.6 905.4,307.6 910.6,307.3 C915.9,307.0 921.1,305.6 926.3,304.7 C931.5,303.7 936.8,302.5 942.0,301.7 C947.2,300.9 952.4,300.6 957.7,299.8 C962.9,299.0 968.1,298.3 973.3,296.8 C978.6,295.3 986.4,291.8 989.0,290.8"/>
<path d="M518.8,297.6 C521.4,299.2 529.2,305.1 534.5,307.5 C539.7,309.8 544.9,310.3 550.1,311.6 C555.4,313.0 560.6,314.7 565.8,315.8 C571.0,316.9 576.3,317.4 581.5,318.1 C586.7,318.8 591.9,319.4 597.2,320.0 C602.4,320.6 607.6,321.6 612.8,321.9 C618.1,322.2 623.3,322.0 628.5,321.9 C633.7,321.7 639.0,321.2 644.2,320.9 C649.4,320.6 654.6,320.4 659.9,320.0 C665.1,319.6 670.3,319.1 675.5,318.5 C680.8,318.0 686.0,317.3 691.2,316.7 C696.4,316.0 701.7,315.4 706.9,314.8 C712.1,314.2 717.3,313.7 722.6,313.2 C727.8,312.7 733.0,312.4 738.2,312.0 C743.5,311.6 748.7,311.2 753.9,310.9 C759.1,310.5 764.3,310.1 769.6,309.9 C774.8,309.7 780.0,309.7 785.2,309.6 C790.5,309.5 795.7,309.3 800.9,309.2 C806.1,309.1 811.4,309.0 816.6,309.0 C821.8,309.1 827.0,309.4 832.3,309.6 C837.5,309.8 842.7,310.0 847.9,310.2 C853.2,310.4 858.4,310.6 863.6,310.8 C868.8,311.0 874.1,311.1 879.3,311.2 C884.5,311.4 889.7,311.6 895.0,311.9 C900.2,312.1 905.4,313.1 910.6,312.8 C915.9,312.5 921.1,311.1 926.3,310.2 C931.5,309.3 936.8,308.2 942.0,307.4 C947.2,306.6 952.4,306.3 957.7,305.5 C962.9,304.7 968.1,304.1 973.3,302.6 C978.6,301.2 986.4,297.8 989.0,296.8"/>
<path d="M518.8,303.5 C521.4,305.1 529.2,310.9 534.5,313.2 C539.7,315.4 544.9,315.8 550.1,317.2 C555.4,318.5 560.6,320.2 565.8,321.2 C571.0,322.2 576.3,322.8 581.5,323.5 C586.7,324.1 591.9,324.7 597.2,325.3 C602.4,325.9 607.6,326.8 612.8,327.1 C618.1,327.4 623.3,327.2 628.5,327.1 C633.7,326.9 639.0,326.5 644.2,326.2 C649.4,325.9 654.6,325.7 659.9,325.3 C665.1,324.9 670.3,324.4 675.5,323.9 C680.8,323.3 686.0,322.7 691.2,322.1 C696.4,321.4 701.7,320.8 706.9,320.2 C712.1,319.7 717.3,319.1 722.6,318.7 C727.8,318.3 733.0,317.9 738.2,317.6 C743.5,317.2 748.7,316.8 753.9,316.4 C759.1,316.1 764.3,315.7 769.6,315.5 C774.8,315.3 780.0,315.3 785.2,315.2 C790.5,315.1 795.7,314.9 800.9,314.8 C806.1,314.7 811.4,314.6 816.6,314.7 C821.8,314.7 827.0,315.0 832.3,315.2 C837.5,315.4 842.7,315.6 847.9,315.8 C853.2,316.0 858.4,316.2 863.6,316.4 C868.8,316.5 874.1,316.6 879.3,316.8 C884.5,317.0 889.7,317.1 895.0,317.4 C900.2,317.6 905.4,318.6 910.6,318.3 C915.9,318.1 921.1,316.7 926.3,315.8 C931.5,314.9 936.8,313.8 942.0,313.0 C947.2,312.3 952.4,312.0 957.7,311.2 C962.9,310.5 968.1,309.9 973.3,308.4 C978.6,307.0 986.4,303.8 989.0,302.8"/>
<path d="M518.8,309.5 C521.4,311.0 529.2,316.6 534.5,318.8 C539.7,321.0 544.9,321.4 550.1,322.7 C555.4,324.0 560.6,325.6 565.8,326.6 C571.0,327.6 576.3,328.1 581.5,328.8 C586.7,329.5 591.9,330.0 597.2,330.6 C602.4,331.2 607.6,332.0 612.8,332.3 C618.1,332.6 623.3,332.5 628.5,332.3 C633.7,332.2 639.0,331.7 644.2,331.4 C649.4,331.1 654.6,330.9 659.9,330.6 C665.1,330.2 670.3,329.7 675.5,329.2 C680.8,328.7 686.0,328.0 691.2,327.4 C696.4,326.8 701.7,326.2 706.9,325.7 C712.1,325.1 717.3,324.6 722.6,324.2 C727.8,323.8 733.0,323.5 738.2,323.1 C743.5,322.7 748.7,322.3 753.9,322.0 C759.1,321.7 764.3,321.3 769.6,321.1 C774.8,320.9 780.0,320.9 785.2,320.8 C790.5,320.7 795.7,320.5 800.9,320.4 C806.1,320.4 811.4,320.2 816.6,320.3 C821.8,320.3 827.0,320.6 832.3,320.8 C837.5,321.0 842.7,321.2 847.9,321.4 C853.2,321.6 858.4,321.8 863.6,321.9 C868.8,322.1 874.1,322.2 879.3,322.3 C884.5,322.5 889.7,322.7 895.0,322.9 C900.2,323.2 905.4,324.1 910.6,323.8 C915.9,323.6 921.1,322.2 926.3,321.4 C931.5,320.5 936.8,319.4 942.0,318.7 C947.2,318.0 952.4,317.7 957.7,317.0 C962.9,316.2 968.1,315.6 973.3,314.3 C978.6,312.9 986.4,309.7 989.0,308.8"/>
<path d="M518.8,315.5 C521.4,317.0 529.2,322.3 534.5,324.5 C539.7,326.6 544.9,327.0 550.1,328.3 C555.4,329.5 560.6,331.0 565.8,332.0 C571.0,333.0 576.3,333.5 581.5,334.1 C586.7,334.8 591.9,335.3 597.2,335.9 C602.4,336.4 607.6,337.3 612.8,337.6 C618.1,337.8 623.3,337.7 628.5,337.6 C633.7,337.4 639.0,337.0 644.2,336.7 C649.4,336.4 654.6,336.2 659.9,335.8 C665.1,335.5 670.3,335.0 675.5,334.5 C680.8,334.0 686.0,333.4 691.2,332.8 C696.4,332.3 701.7,331.6 706.9,331.1 C712.1,330.6 717.3,330.1 722.6,329.7 C727.8,329.3 733.0,329.0 738.2,328.6 C743.5,328.3 748.7,327.9 753.9,327.5 C759.1,327.2 764.3,326.9 769.6,326.7 C774.8,326.5 780.0,326.5 785.2,326.4 C790.5,326.3 795.7,326.1 800.9,326.0 C806.1,326.0 811.4,325.8 816.6,325.9 C821.8,326.0 827.0,326.2 832.3,326.4 C837.5,326.6 842.7,326.8 847.9,327.0 C853.2,327.1 858.4,327.3 863.6,327.5 C868.8,327.6 874.1,327.7 879.3,327.9 C884.5,328.0 889.7,328.2 895.0,328.5 C900.2,328.7 905.4,329.6 910.6,329.3 C915.9,329.1 921.1,327.8 926.3,327.0 C931.5,326.1 936.8,325.1 942.0,324.4 C947.2,323.7 952.4,323.4 957.7,322.7 C962.9,322.0 968.1,321.4 973.3,320.1 C978.6,318.8 986.4,315.7 989.0,314.8"/>
<path d="M518.8,321.4 C521.4,322.9 529.2,328.1 534.5,330.1 C539.7,332.2 544.9,332.6 550.1,333.8 C555.4,335.0 560.6,336.5 565.8,337.4 C571.0,338.4 576.3,338.9 581.5,339.5 C586.7,340.1 591.9,340.6 597.2,341.1 C602.4,341.7 607.6,342.5 612.8,342.8 C618.1,343.1 623.3,342.9 628.5,342.8 C633.7,342.6 639.0,342.2 644.2,342.0 C649.4,341.7 654.6,341.5 659.9,341.1 C665.1,340.8 670.3,340.3 675.5,339.9 C680.8,339.4 686.0,338.8 691.2,338.2 C696.4,337.7 701.7,337.1 706.9,336.6 C712.1,336.1 717.3,335.6 722.6,335.2 C727.8,334.8 733.0,334.5 738.2,334.1 C743.5,333.8 748.7,333.4 753.9,333.1 C759.1,332.8 764.3,332.5 769.6,332.3 C774.8,332.1 780.0,332.1 785.2,332.0 C790.5,331.9 795.7,331.7 800.9,331.7 C806.1,331.6 811.4,331.4 816.6,331.5 C821.8,331.6 827.0,331.9 832.3,332.0 C837.5,332.2 842.7,332.4 847.9,332.5 C853.2,332.7 858.4,332.9 863.6,333.0 C868.8,333.2 874.1,333.3 879.3,333.4 C884.5,333.6 889.7,333.8 895.0,334.0 C900.2,334.2 905.4,335.1 910.6,334.8 C915.9,334.6 921.1,333.3 926.3,332.6 C931.5,331.8 936.8,330.7 942.0,330.0 C947.2,329.3 952.4,329.1 957.7,328.4 C962.9,327.7 968.1,327.1 973.3,325.9 C978.6,324.6 986.4,321.6 989.0,320.8"/>
<path d="M518.8,327.4 C521.4,328.8 529.2,333.8 534.5,335.8 C539.7,337.8 544.9,338.2 550.1,339.3 C555.4,340.5 560.6,341.9 565.8,342.8 C571.0,343.8 576.3,344.2 581.5,344.8 C586.7,345.4 591.9,345.9 597.2,346.4 C602.4,347.0 607.6,347.8 612.8,348.0 C618.1,348.3 623.3,348.1 628.5,348.0 C633.7,347.9 639.0,347.5 644.2,347.2 C649.4,346.9 654.6,346.7 659.9,346.4 C665.1,346.1 670.3,345.7 675.5,345.2 C680.8,344.7 686.0,344.1 691.2,343.6 C696.4,343.1 701.7,342.5 706.9,342.0 C712.1,341.5 717.3,341.0 722.6,340.7 C727.8,340.3 733.0,340.0 738.2,339.7 C743.5,339.3 748.7,339.0 753.9,338.7 C759.1,338.4 764.3,338.1 769.6,337.9 C774.8,337.7 780.0,337.7 785.2,337.6 C790.5,337.5 795.7,337.3 800.9,337.3 C806.1,337.2 811.4,337.1 816.6,337.1 C821.8,337.2 827.0,337.5 832.3,337.6 C837.5,337.8 842.7,338.0 847.9,338.1 C853.2,338.3 858.4,338.5 863.6,338.6 C868.8,338.8 874.1,338.8 879.3,339.0 C884.5,339.1 889.7,339.3 895.0,339.5 C900.2,339.7 905.4,340.6 910.6,340.3 C915.9,340.1 921.1,338.9 926.3,338.1 C931.5,337.4 936.8,336.4 942.0,335.7 C947.2,335.0 952.4,334.8 957.7,334.1 C962.9,333.5 968.1,332.9 973.3,331.7 C978.6,330.5 986.4,327.6 989.0,326.8"/>
<path d="M518.8,333.3 C521.4,334.7 529.2,339.5 534.5,341.5 C539.7,343.4 544.9,343.7 550.1,344.9 C555.4,346.0 560.6,347.4 565.8,348.3 C571.0,349.1 576.3,349.6 581.5,350.2 C586.7,350.7 591.9,351.2 597.2,351.7 C602.4,352.2 607.6,353.0 612.8,353.2 C618.1,353.5 623.3,353.4 628.5,353.2 C633.7,353.1 639.0,352.7 644.2,352.5 C649.4,352.2 654.6,352.0 659.9,351.7 C665.1,351.4 670.3,351.0 675.5,350.5 C680.8,350.1 686.0,349.5 691.2,349.0 C696.4,348.5 701.7,347.9 706.9,347.4 C712.1,347.0 717.3,346.5 722.6,346.1 C727.8,345.8 733.0,345.5 738.2,345.2 C743.5,344.9 748.7,344.5 753.9,344.2 C759.1,343.9 764.3,343.6 769.6,343.5 C774.8,343.3 780.0,343.3 785.2,343.2 C790.5,343.1 795.7,343.0 800.9,342.9 C806.1,342.8 811.4,342.7 816.6,342.7 C821.8,342.8 827.0,343.1 832.3,343.2 C837.5,343.4 842.7,343.5 847.9,343.7 C853.2,343.9 858.4,344.0 863.6,344.2 C868.8,344.3 874.1,344.4 879.3,344.5 C884.5,344.7 889.7,344.8 895.0,345.0 C900.2,345.3 905.4,346.1 910.6,345.8 C915.9,345.6 921.1,344.5 926.3,343.7 C931.5,343.0 936.8,342.0 942.0,341.4 C947.2,340.7 952.4,340.5 957.7,339.8 C962.9,339.2 968.1,338.7 973.3,337.5 C978.6,336.3 986.4,333.5 989.0,332.7"/>
<path d="M518.8,339.3 C521.4,340.6 529.2,345.3 534.5,347.1 C539.7,349.0 544.9,349.3 550.1,350.4 C555.4,351.5 560.6,352.8 565.8,353.7 C571.0,354.5 576.3,355.0 581.5,355.5 C586.7,356.1 591.9,356.5 597.2,357.0 C602.4,357.5 607.6,358.2 612.8,358.5 C618.1,358.7 623.3,358.6 628.5,358.5 C633.7,358.3 639.0,358.0 644.2,357.7 C649.4,357.5 654.6,357.3 659.9,357.0 C665.1,356.7 670.3,356.3 675.5,355.8 C680.8,355.4 686.0,354.9 691.2,354.4 C696.4,353.9 701.7,353.3 706.9,352.9 C712.1,352.4 717.3,352.0 722.6,351.6 C727.8,351.3 733.0,351.0 738.2,350.7 C743.5,350.4 748.7,350.1 753.9,349.8 C759.1,349.5 764.3,349.2 769.6,349.1 C774.8,348.9 780.0,348.9 785.2,348.8 C790.5,348.7 795.7,348.6 800.9,348.5 C806.1,348.4 811.4,348.3 816.6,348.4 C821.8,348.4 827.0,348.7 832.3,348.8 C837.5,349.0 842.7,349.1 847.9,349.3 C853.2,349.4 858.4,349.6 863.6,349.7 C868.8,349.9 874.1,349.9 879.3,350.1 C884.5,350.2 889.7,350.4 895.0,350.6 C900.2,350.8 905.4,351.5 910.6,351.3 C915.9,351.1 921.1,350.0 926.3,349.3 C931.5,348.6 936.8,347.7 942.0,347.0 C947.2,346.4 952.4,346.2 957.7,345.6 C962.9,345.0 968.1,344.4 973.3,343.3 C978.6,342.2 986.4,339.5 989.0,338.7"/>
<path d="M518.8,345.3 C521.4,346.5 529.2,351.0 534.5,352.8 C539.7,354.6 544.9,354.9 550.1,355.9 C555.4,357.0 560.6,358.3 565.8,359.1 C571.0,359.9 576.3,360.3 581.5,360.9 C586.7,361.4 591.9,361.8 597.2,362.3 C602.4,362.7 607.6,363.5 612.8,363.7 C618.1,363.9 623.3,363.8 628.5,363.7 C633.7,363.6 639.0,363.2 644.2,363.0 C649.4,362.7 654.6,362.6 659.9,362.3 C665.1,362.0 670.3,361.6 675.5,361.2 C680.8,360.7 686.0,360.2 691.2,359.7 C696.4,359.3 701.7,358.8 706.9,358.3 C712.1,357.9 717.3,357.5 722.6,357.1 C727.8,356.8 733.0,356.5 738.2,356.2 C743.5,355.9 748.7,355.6 753.9,355.3 C759.1,355.1 764.3,354.8 769.6,354.6 C774.8,354.5 780.0,354.5 785.2,354.4 C790.5,354.3 795.7,354.2 800.9,354.1 C806.1,354.0 811.4,353.9 816.6,354.0 C821.8,354.0 827.0,354.3 832.3,354.4 C837.5,354.6 842.7,354.7 847.9,354.9 C853.2,355.0 858.4,355.2 863.6,355.3 C868.8,355.4 874.1,355.5 879.3,355.6 C884.5,355.8 889.7,355.9 895.0,356.1 C900.2,356.3 905.4,357.0 910.6,356.8 C915.9,356.6 921.1,355.6 926.3,354.9 C931.5,354.2 936.8,353.3 942.0,352.7 C947.2,352.1 952.4,351.9 957.7,351.3 C962.9,350.7 968.1,350.2 973.3,349.1 C978.6,348.0 986.4,345.5 989.0,344.7"/>
<path d="M518.8,351.2 C521.4,352.4 529.2,356.7 534.5,358.5 C539.7,360.2 544.9,360.5 550.1,361.5 C555.4,362.5 560.6,363.7 565.8,364.5 C571.0,365.3 576.3,365.7 581.5,366.2 C586.7,366.7 591.9,367.1 597.2,367.6 C602.4,368.0 607.6,368.7 612.8,368.9 C618.1,369.1 623.3,369.0 628.5,368.9 C633.7,368.8 639.0,368.5 644.2,368.2 C649.4,368.0 654.6,367.8 659.9,367.5 C665.1,367.3 670.3,366.9 675.5,366.5 C680.8,366.1 686.0,365.6 691.2,365.1 C696.4,364.7 701.7,364.2 706.9,363.8 C712.1,363.3 717.3,362.9 722.6,362.6 C727.8,362.3 733.0,362.0 738.2,361.8 C743.5,361.5 748.7,361.2 753.9,360.9 C759.1,360.7 764.3,360.4 769.6,360.2 C774.8,360.1 780.0,360.1 785.2,360.0 C790.5,359.9 795.7,359.8 800.9,359.7 C806.1,359.6 811.4,359.5 816.6,359.6 C821.8,359.6 827.0,359.9 832.3,360.0 C837.5,360.2 842.7,360.3 847.9,360.4 C853.2,360.6 858.4,360.7 863.6,360.9 C868.8,361.0 874.1,361.0 879.3,361.2 C884.5,361.3 889.7,361.4 895.0,361.6 C900.2,361.8 905.4,362.5 910.6,362.3 C915.9,362.1 921.1,361.1 926.3,360.5 C931.5,359.8 936.8,358.9 942.0,358.4 C947.2,357.8 952.4,357.6 957.7,357.0 C962.9,356.4 968.1,356.0 973.3,354.9 C978.6,353.9 986.4,351.4 989.0,350.7"/>
<path d="M518.8,357.2 C521.4,358.4 529.2,362.5 534.5,364.1 C539.7,365.8 544.9,366.0 550.1,367.0 C555.4,368.0 560.6,369.1 565.8,369.9 C571.0,370.7 576.3,371.0 581.5,371.5 C586.7,372.0 591.9,372.4 597.2,372.8 C602.4,373.3 607.6,373.9 612.8,374.1 C618.1,374.4 623.3,374.3 628.5,374.1 C633.7,374.0 639.0,373.7 644.2,373.5 C649.4,373.3 654.6,373.1 659.9,372.8 C665.1,372.6 670.3,372.2 675.5,371.8 C680.8,371.4 686.0,371.0 691.2,370.5 C696.4,370.1 701.7,369.6 706.9,369.2 C712.1,368.8 717.3,368.4 722.6,368.1 C727.8,367.8 733.0,367.6 738.2,367.3 C743.5,367.0 748.7,366.7 753.9,366.5 C759.1,366.2 764.3,366.0 769.6,365.8 C774.8,365.7 780.0,365.7 785.2,365.6 C790.5,365.5 795.7,365.4 800.9,365.3 C806.1,365.3 811.4,365.2 816.6,365.2 C821.8,365.3 827.0,365.5 832.3,365.6 C837.5,365.7 842.7,365.9 847.9,366.0 C853.2,366.2 858.4,366.3 863.6,366.4 C868.8,366.5 874.1,366.6 879.3,366.7 C884.5,366.8 889.7,367.0 895.0,367.2 C900.2,367.4 905.4,368.0 910.6,367.8 C915.9,367.6 921.1,366.7 926.3,366.0 C931.5,365.4 936.8,364.6 942.0,364.0 C947.2,363.5 952.4,363.3 957.7,362.7 C962.9,362.2 968.1,361.7 973.3,360.7 C978.6,359.7 986.4,357.4 989.0,356.7"/>
<path d="M518.8,363.2 C521.4,364.3 529.2,368.2 534.5,369.8 C539.7,371.3 544.9,371.6 550.1,372.5 C555.4,373.5 560.6,374.6 565.8,375.3 C571.0,376.0 576.3,376.4 581.5,376.9 C586.7,377.3 591.9,377.7 597.2,378.1 C602.4,378.5 607.6,379.2 612.8,379.4 C618.1,379.6 623.3,379.5 628.5,379.4 C633.7,379.3 639.0,379.0 644.2,378.7 C649.4,378.5 654.6,378.4 659.9,378.1 C665.1,377.9 670.3,377.5 675.5,377.2 C680.8,376.8 686.0,376.3 691.2,375.9 C696.4,375.5 701.7,375.0 706.9,374.6 C712.1,374.3 717.3,373.9 722.6,373.6 C727.8,373.3 733.0,373.1 738.2,372.8 C743.5,372.6 748.7,372.3 753.9,372.0 C759.1,371.8 764.3,371.6 769.6,371.4 C774.8,371.3 780.0,371.2 785.2,371.2 C790.5,371.1 795.7,371.0 800.9,370.9 C806.1,370.9 811.4,370.8 816.6,370.8 C821.8,370.9 827.0,371.1 832.3,371.2 C837.5,371.3 842.7,371.5 847.9,371.6 C853.2,371.7 858.4,371.9 863.6,372.0 C868.8,372.1 874.1,372.2 879.3,372.3 C884.5,372.4 889.7,372.5 895.0,372.7 C900.2,372.9 905.4,373.5 910.6,373.3 C915.9,373.2 921.1,372.2 926.3,371.6 C931.5,371.0 936.8,370.2 942.0,369.7 C947.2,369.2 952.4,369.0 957.7,368.5 C962.9,367.9 968.1,367.5 973.3,366.5 C978.6,365.6 986.4,363.3 989.0,362.7"/>
<path d="M518.8,369.1 C521.4,370.2 529.2,374.0 534.5,375.4 C539.7,376.9 544.9,377.2 550.1,378.1 C555.4,379.0 560.6,380.0 565.8,380.7 C571.0,381.4 576.3,381.8 581.5,382.2 C586.7,382.7 591.9,383.0 597.2,383.4 C602.4,383.8 607.6,384.4 612.8,384.6 C618.1,384.8 623.3,384.7 628.5,384.6 C633.7,384.5 639.0,384.2 644.2,384.0 C649.4,383.8 654.6,383.7 659.9,383.4 C665.1,383.1 670.3,382.8 675.5,382.5 C680.8,382.1 686.0,381.7 691.2,381.3 C696.4,380.9 701.7,380.5 706.9,380.1 C712.1,379.7 717.3,379.4 722.6,379.1 C727.8,378.8 733.0,378.6 738.2,378.3 C743.5,378.1 748.7,377.8 753.9,377.6 C759.1,377.4 764.3,377.1 769.6,377.0 C774.8,376.9 780.0,376.8 785.2,376.8 C790.5,376.7 795.7,376.6 800.9,376.5 C806.1,376.5 811.4,376.4 816.6,376.4 C821.8,376.5 827.0,376.7 832.3,376.8 C837.5,376.9 842.7,377.1 847.9,377.2 C853.2,377.3 858.4,377.4 863.6,377.5 C868.8,377.7 874.1,377.7 879.3,377.8 C884.5,377.9 889.7,378.1 895.0,378.2 C900.2,378.4 905.4,379.0 910.6,378.8 C915.9,378.7 921.1,377.8 926.3,377.2 C931.5,376.6 936.8,375.9 942.0,375.4 C947.2,374.9 952.4,374.7 957.7,374.2 C962.9,373.7 968.1,373.3 973.3,372.4 C978.6,371.4 986.4,369.3 989.0,368.7"/>
<path d="M518.8,375.1 C521.4,376.1 529.2,379.7 534.5,381.1 C539.7,382.5 544.9,382.8 550.1,383.6 C555.4,384.5 560.6,385.5 565.8,386.1 C571.0,386.8 576.3,387.1 581.5,387.6 C586.7,388.0 591.9,388.3 597.2,388.7 C602.4,389.1 607.6,389.6 612.8,389.8 C618.1,390.0 623.3,389.9 628.5,389.8 C633.7,389.7 639.0,389.4 644.2,389.3 C649.4,389.1 654.6,388.9 659.9,388.7 C665.1,388.4 670.3,388.1 675.5,387.8 C680.8,387.5 686.0,387.0 691.2,386.7 C696.4,386.3 701.7,385.9 706.9,385.5 C712.1,385.2 717.3,384.9 722.6,384.6 C727.8,384.3 733.0,384.1 738.2,383.9 C743.5,383.6 748.7,383.4 753.9,383.2 C759.1,382.9 764.3,382.7 769.6,382.6 C774.8,382.5 780.0,382.4 785.2,382.4 C790.5,382.3 795.7,382.2 800.9,382.2 C806.1,382.1 811.4,382.0 816.6,382.1 C821.8,382.1 827.0,382.3 832.3,382.4 C837.5,382.5 842.7,382.6 847.9,382.8 C853.2,382.9 858.4,383.0 863.6,383.1 C868.8,383.2 874.1,383.3 879.3,383.4 C884.5,383.5 889.7,383.6 895.0,383.8 C900.2,383.9 905.4,384.5 910.6,384.3 C915.9,384.2 921.1,383.3 926.3,382.8 C931.5,382.2 936.8,381.5 942.0,381.0 C947.2,380.6 952.4,380.4 957.7,379.9 C962.9,379.4 968.1,379.0 973.3,378.2 C978.6,377.3 986.4,375.2 989.0,374.6"/>
<path d="M518.8,381.1 C521.4,382.0 529.2,385.4 534.5,386.8 C539.7,388.1 544.9,388.4 550.1,389.2 C555.4,390.0 560.6,390.9 565.8,391.5 C571.0,392.2 576.3,392.5 581.5,392.9 C586.7,393.3 591.9,393.6 597.2,394.0 C602.4,394.3 607.6,394.9 612.8,395.1 C618.1,395.2 623.3,395.1 628.5,395.0 C633.7,395.0 639.0,394.7 644.2,394.5 C649.4,394.3 654.6,394.2 659.9,394.0 C665.1,393.7 670.3,393.5 675.5,393.1 C680.8,392.8 686.0,392.4 691.2,392.1 C696.4,391.7 701.7,391.3 706.9,391.0 C712.1,390.6 717.3,390.3 722.6,390.1 C727.8,389.8 733.0,389.6 738.2,389.4 C743.5,389.2 748.7,388.9 753.9,388.7 C759.1,388.5 764.3,388.3 769.6,388.2 C774.8,388.1 780.0,388.0 785.2,388.0 C790.5,387.9 795.7,387.8 800.9,387.8 C806.1,387.7 811.4,387.6 816.6,387.7 C821.8,387.7 827.0,387.9 832.3,388.0 C837.5,388.1 842.7,388.2 847.9,388.3 C853.2,388.5 858.4,388.6 863.6,388.7 C868.8,388.8 874.1,388.8 879.3,388.9 C884.5,389.0 889.7,389.1 895.0,389.3 C900.2,389.4 905.4,390.0 910.6,389.8 C915.9,389.7 921.1,388.9 926.3,388.3 C931.5,387.8 936.8,387.2 942.0,386.7 C947.2,386.2 952.4,386.1 957.7,385.6 C962.9,385.2 968.1,384.8 973.3,384.0 C978.6,383.1 986.4,381.2 989.0,380.6"/>
<path d="M518.8,387.0 C521.4,387.9 529.2,391.2 534.5,392.4 C539.7,393.7 544.9,393.9 550.1,394.7 C555.4,395.5 560.6,396.4 565.8,397.0 C571.0,397.6 576.3,397.9 581.5,398.2 C586.7,398.6 591.9,398.9 597.2,399.3 C602.4,399.6 607.6,400.1 612.8,400.3 C618.1,400.5 623.3,400.4 628.5,400.3 C633.7,400.2 639.0,399.9 644.2,399.8 C649.4,399.6 654.6,399.5 659.9,399.3 C665.1,399.0 670.3,398.8 675.5,398.5 C680.8,398.2 686.0,397.8 691.2,397.4 C696.4,397.1 701.7,396.7 706.9,396.4 C712.1,396.1 717.3,395.8 722.6,395.6 C727.8,395.3 733.0,395.1 738.2,394.9 C743.5,394.7 748.7,394.5 753.9,394.3 C759.1,394.1 764.3,393.9 769.6,393.8 C774.8,393.6 780.0,393.6 785.2,393.6 C790.5,393.5 795.7,393.4 800.9,393.4 C806.1,393.3 811.4,393.2 816.6,393.3 C821.8,393.3 827.0,393.5 832.3,393.6 C837.5,393.7 842.7,393.8 847.9,393.9 C853.2,394.0 858.4,394.1 863.6,394.2 C868.8,394.3 874.1,394.4 879.3,394.5 C884.5,394.6 889.7,394.7 895.0,394.8 C900.2,395.0 905.4,395.5 910.6,395.3 C915.9,395.2 921.1,394.4 926.3,393.9 C931.5,393.4 936.8,392.8 942.0,392.4 C947.2,391.9 952.4,391.8 957.7,391.4 C962.9,390.9 968.1,390.6 973.3,389.8 C978.6,389.0 986.4,387.1 989.0,386.6"/>
</g>
<path d="M540,243 L569,252 L618,260 L667,256 L716,248 L765,243 L813.5,241.5 L862.5,244 L889,245 L913,247 L938,240 L957,237 L977,232 L989,225 L960,238 L937,251 L910,266 C880,283 840,296 800,310.8 C770,322 730,330 697.6,330 C650,328 610,318 587.5,310.8 C570,300 550,280 540,262Z" fill="#6a6a6a" fill-opacity="0.2"/>
<path d="M760,242 L813.5,241.5 L862.5,244 L889,245 L913,247 L938,240 L957,237 L977,232 L989,225 L960,238 L937,251 L910,265.6 L880.7,282.7 L858.7,290 L829,290 L800,290 L780,280Z" fill="#6a6a6a" fill-opacity="0.18"/>
<path d="M540,262 C550,280 570,300 587.5,310.8 C610,318 650,328 697.6,330 C730,330 770,322 800,310.8 C840,296 880,283 910,266" fill="none" stroke="#6c6c6c" stroke-opacity="0.55" stroke-width="2.2"/>
<path d="M232,262 C245,280 262,293 285,298 C320,301 380,296 440,288" fill="none" stroke="#6c6c6c" stroke-opacity="0.45" stroke-width="1.6"/>
<path d="M168.0,226.0 C171.4,226.9 180.0,227.9 188.5,231.3 C197.0,234.7 210.1,243.0 218.8,246.4 C227.5,249.8 231.6,250.6 240.8,252.0 C250.0,253.4 261.5,254.0 273.9,254.7 C286.3,255.4 299.0,256.2 315.0,256.0 C331.0,255.8 356.2,254.4 370.0,253.3 C383.8,252.2 388.5,251.0 397.7,249.2 C406.9,247.4 415.8,244.6 425.0,242.3 C434.2,240.0 443.6,237.2 452.8,235.4 C462.0,233.6 471.1,232.7 480.3,231.3 C489.5,229.9 501.4,228.1 507.8,227.2 C514.2,226.3 517.0,226.0 518.8,225.8" fill="none" stroke="#6e6e6e" stroke-width="1.3" stroke-opacity="0.8"/>
<path d="M518.8,226.0 C521.2,228.2 524.6,234.7 533.0,239.0 C541.4,243.3 554.8,248.5 569.0,252.0 C583.2,255.5 601.7,259.3 618.0,260.0 C634.3,260.7 650.7,258.0 667.0,256.0 C683.3,254.0 699.7,250.2 716.0,248.0 C732.3,245.8 748.8,244.1 765.0,243.0 C781.2,241.9 797.2,241.3 813.5,241.5 C829.8,241.7 849.9,243.4 862.5,244.0 C875.1,244.6 880.6,244.5 889.0,245.0 C897.4,245.5 904.8,247.8 913.0,247.0 C921.2,246.2 930.7,241.7 938.0,240.0 C945.3,238.3 950.5,238.3 957.0,237.0 C963.5,235.7 971.7,234.0 977.0,232.0 C982.3,230.0 987.0,226.2 989.0,225.0" fill="none" stroke="#6e6e6e" stroke-width="1.3" stroke-opacity="0.7"/>
<path d="M1036,183 L1021,184 L987,196 L962,206 L943,214 L935,219 L948,218 L966,212 L990,203 L1015,193 L1036,188Z" fill="#8c8c8c" fill-opacity="0.9"/>
<g stroke="#9a9a9a" stroke-width="0.6" fill="none">
<path d="M598.3,224.3l-21.3,160.1" stroke-opacity="0.13"/>
<path d="M759,134.3l-17.7,106.5" stroke-opacity="0.17"/>
<path d="M172,162.8l-10.5,51.8" stroke-opacity="0.16"/>
<path d="M109.8,325.7l-28.3,165.4" stroke-opacity="0.15"/>
<path d="M247.4,93.6l-5.6,108.7" stroke-opacity="0.09"/>
<path d="M347.9,97.2l-12.9,100.3" stroke-opacity="0.18"/>
<path d="M677.8,243.7l-18.1,105" stroke-opacity="0.12"/>
<path d="M391,329.4l-35.3,169.4" stroke-opacity="0.16"/>
<path d="M435.2,145.1l-4.2,77.6" stroke-opacity="0.17"/>
<path d="M536.5,293.2l-20.9,90.2" stroke-opacity="0.18"/>
<path d="M60.6,140.3l-21.2,158.3" stroke-opacity="0.20"/>
<path d="M532.9,107.5l-23.8,121.8" stroke-opacity="0.10"/>
<path d="M163.7,169.8l-31.7,165.3" stroke-opacity="0.08"/>
<path d="M353.2,114.3l-9.5,47.8" stroke-opacity="0.08"/>
<path d="M725.6,197.4l-12.1,64.8" stroke-opacity="0.08"/>
<path d="M826,118l-7.8,94.7" stroke-opacity="0.10"/>
<path d="M1215.4,282.8l-14.6,79.5" stroke-opacity="0.12"/>
<path d="M1076.7,244l-9.8,53" stroke-opacity="0.10"/>
<path d="M979.5,168.9l-4.3,78.5" stroke-opacity="0.07"/>
<path d="M753.5,148.3l-13.5,118.2" stroke-opacity="0.12"/>
<path d="M1201.4,206.1l-20.1,114.7" stroke-opacity="0.08"/>
<path d="M1141,286.3l-24.8,72.4" stroke-opacity="0.19"/>
<path d="M293.9,318l-24.9,154.7" stroke-opacity="0.12"/>
<path d="M183.6,99.3l-14.5,165.1" stroke-opacity="0.16"/>
<path d="M365.8,287.7l-11.6,117.5" stroke-opacity="0.08"/>
<path d="M917.2,106.5l-10.6,69.7" stroke-opacity="0.18"/>
<path d="M791,157.3l-12.9,159.3" stroke-opacity="0.06"/>
<path d="M380.3,197l-3.6,47.9" stroke-opacity="0.11"/>
<path d="M740.9,121.6l-19,87.1" stroke-opacity="0.20"/>
<path d="M841.7,255.9l-7.9,116" stroke-opacity="0.06"/>
<path d="M81.3,308.5l-30.5,131.1" stroke-opacity="0.06"/>
<path d="M817.1,205.7l-14,135" stroke-opacity="0.20"/>
<path d="M149.6,221.1l-29.9,135.8" stroke-opacity="0.16"/>
<path d="M897.4,280.4l-17.5,159" stroke-opacity="0.16"/>
<path d="M1132,299.1l-35.7,94.2" stroke-opacity="0.14"/>
<path d="M803.7,181.8l-18.7,115.7" stroke-opacity="0.07"/>
<path d="M820.9,328.4l-28.7,154.4" stroke-opacity="0.11"/>
<path d="M934.7,229.4l-20.2,97.3" stroke-opacity="0.07"/>
<path d="M952.8,97.1l-16.1,118.2" stroke-opacity="0.09"/>
<path d="M891,209.3l-26.9,119.9" stroke-opacity="0.10"/>
<path d="M73.5,162.2l-10.3,128.2" stroke-opacity="0.08"/>
<path d="M1137.8,248.4l-21.3,97.5" stroke-opacity="0.15"/>
<path d="M296.2,193.4l-32.3,144.8" stroke-opacity="0.18"/>
<path d="M517.5,229.9l-5.5,81.1" stroke-opacity="0.13"/>
<path d="M1056.1,293.7l-26.9,132.5" stroke-opacity="0.08"/>
<path d="M596.3,156l-8.3,67.8" stroke-opacity="0.15"/>
<path d="M647.7,165.7l-35.2,149.1" stroke-opacity="0.12"/>
<path d="M148.9,97.6l-7.4,153.5" stroke-opacity="0.16"/>
<path d="M739,164.2l-6.3,142.9" stroke-opacity="0.08"/>
<path d="M601.3,95.9l-12.9,147.9" stroke-opacity="0.08"/>
<path d="M115.9,241l-16.3,98" stroke-opacity="0.15"/>
<path d="M1020.8,320l-33.9,129" stroke-opacity="0.09"/>
<path d="M72.8,203.3l-10.1,132.8" stroke-opacity="0.10"/>
<path d="M471.4,257.4l-17.5,107.7" stroke-opacity="0.17"/>
<path d="M528.3,280.1l-9.1,157.8" stroke-opacity="0.19"/>
<path d="M919.6,121.2l-16.3,99" stroke-opacity="0.19"/>
<path d="M508.4,226.5l-30.8,154.3" stroke-opacity="0.19"/>
<path d="M611.8,246.3l-12.3,66.6" stroke-opacity="0.17"/>
<path d="M823.5,262.2l-14.9,67.7" stroke-opacity="0.20"/>
<path d="M1223.1,218.9l-56.1,142.8" stroke-opacity="0.18"/>
<path d="M474.7,109.9l-14.6,97.3" stroke-opacity="0.17"/>
<path d="M640.1,96.8l-7.7,145.2" stroke-opacity="0.17"/>
<path d="M265.7,170.4l-9.7,142.4" stroke-opacity="0.08"/>
<path d="M674.7,263.7l-26.5,149.2" stroke-opacity="0.19"/>
<path d="M646.2,317.8l-4.3,51.2" stroke-opacity="0.13"/>
<path d="M405.3,264.9l-17.8,123.1" stroke-opacity="0.18"/>
<path d="M726.4,164.8l-18.7,89.6" stroke-opacity="0.19"/>
<path d="M307.8,294.2l-24,165.9" stroke-opacity="0.14"/>
<path d="M299.2,218.6l-17,105.4" stroke-opacity="0.06"/>
<path d="M1213.6,213.8l-26.6,92.1" stroke-opacity="0.13"/>
<path d="M882.3,105.8l-13.5,110" stroke-opacity="0.19"/>
<path d="M1158.9,154.6l-25.4,101.5" stroke-opacity="0.17"/>
<path d="M1131.7,204.4l-24.8,81.2" stroke-opacity="0.19"/>
<path d="M214.1,277l-3.4,43" stroke-opacity="0.09"/>
<path d="M877.6,167.3l-14.1,86.2" stroke-opacity="0.07"/>
<path d="M929.8,119.5l-9.6,106.4" stroke-opacity="0.09"/>
<path d="M691.1,194.8l-10.9,88.8" stroke-opacity="0.13"/>
<path d="M250.1,139l-20.5,122.1" stroke-opacity="0.13"/>
<path d="M1073,236.8l-51.8,151.4" stroke-opacity="0.17"/>
<path d="M1134.2,165.8l-15,80.9" stroke-opacity="0.20"/>
<path d="M1116.2,122.1l-14.1,71.1" stroke-opacity="0.07"/>
<path d="M1050.3,191.2l-34.4,142.7" stroke-opacity="0.16"/>
<path d="M81.1,138.2l-28.6,128.7" stroke-opacity="0.20"/>
<path d="M197.3,211.4l-19.5,138.6" stroke-opacity="0.16"/>
<path d="M284.9,106.9l-2.6,53.8" stroke-opacity="0.14"/>
<path d="M672.6,226.5l-4.5,59.1" stroke-opacity="0.09"/>
<path d="M1059.9,327.7l-22.2,160.5" stroke-opacity="0.19"/>
<path d="M609.9,273.5l-11,82.5" stroke-opacity="0.13"/>
<path d="M571.8,234.2l-7.5,41.7" stroke-opacity="0.18"/>
<path d="M275.7,198.9l-16.5,136.1" stroke-opacity="0.09"/>
<path d="M256.4,213l-9.2,42" stroke-opacity="0.17"/>
<path d="M898.6,296.6l-14.7,121.8" stroke-opacity="0.14"/>
<path d="M660.1,325.8l-13.3,144.6" stroke-opacity="0.19"/>
<path d="M945.9,276.7l-17.7,145.9" stroke-opacity="0.19"/>
<path d="M1107,256.8l-33.8,139.7" stroke-opacity="0.16"/>
<path d="M144,172l-4.3,100.9" stroke-opacity="0.11"/>
<path d="M820.1,239.8l-16.1,70.2" stroke-opacity="0.15"/>
<path d="M462,248.3l-16.7,114" stroke-opacity="0.11"/>
<path d="M1249.9,244.1l-54.3,131.2" stroke-opacity="0.06"/>
<path d="M792.3,267.3l-8.8,73.4" stroke-opacity="0.07"/>
<path d="M292.6,180.2l-4.8,52.8" stroke-opacity="0.19"/>
<path d="M714.6,211.9l-25.5,165.7" stroke-opacity="0.20"/>
<path d="M819.2,284.3l-8,49.9" stroke-opacity="0.17"/>
<path d="M113.7,313.2l-8.2,60.8" stroke-opacity="0.08"/>
<path d="M649.7,236.7l-10.9,47.6" stroke-opacity="0.12"/>
<path d="M686.8,233.5l-8.5,87.5" stroke-opacity="0.15"/>
<path d="M727.2,158l-13.2,133.2" stroke-opacity="0.06"/>
<path d="M351.6,100.3l-11.5,60.4" stroke-opacity="0.11"/>
<path d="M1128.1,269.6l-18.8,46.5" stroke-opacity="0.07"/>
<path d="M1137.6,193.1l-19.7,102.1" stroke-opacity="0.13"/>
<path d="M1175.4,263.5l-36.8,100.9" stroke-opacity="0.14"/>
<path d="M197,239.8l-8,99.2" stroke-opacity="0.07"/>
<path d="M688.4,119.8l-16.9,97.6" stroke-opacity="0.12"/>
<path d="M371.9,229.7l-18.5,94.5" stroke-opacity="0.13"/>
<path d="M1247.2,318.6l-20.9,135.5" stroke-opacity="0.18"/>
<path d="M993.3,240l-8.2,86.7" stroke-opacity="0.16"/>
<path d="M732.2,232l-23.3,122.3" stroke-opacity="0.09"/>
<path d="M356.3,325.1l-34.3,159" stroke-opacity="0.07"/>
<path d="M132.3,155l-15.7,95.3" stroke-opacity="0.07"/>
<path d="M704.6,107.4l-9,51.2" stroke-opacity="0.14"/>
<path d="M811,179.6l-8.4,102.2" stroke-opacity="0.11"/>
<path d="M946.3,291.3l-3.2,49.7" stroke-opacity="0.17"/>
<path d="M802.2,274.5l-8.5,67.7" stroke-opacity="0.10"/>
<path d="M1023.8,178.5l-27.2,125" stroke-opacity="0.14"/>
<path d="M947.9,311l-10.9,95.6" stroke-opacity="0.07"/>
<path d="M1101.5,108.8l-13.5,50.8" stroke-opacity="0.16"/>
<path d="M415.7,276.1l-4.1,49.9" stroke-opacity="0.15"/>
<path d="M157.2,162.9l-24,134.2" stroke-opacity="0.10"/>
<path d="M230.1,175.9l-15.2,134.4" stroke-opacity="0.08"/>
<path d="M904,226.6l-36.3,159.4" stroke-opacity="0.19"/>
<path d="M581.2,282.7l-8.2,79.6" stroke-opacity="0.12"/>
<path d="M1172.3,304.7l-16.6,72.3" stroke-opacity="0.11"/>
<path d="M530.8,183l-10,65.3" stroke-opacity="0.17"/>
<path d="M703.3,290.7l-8.5,113.2" stroke-opacity="0.17"/>
<path d="M1108.3,157.5l-12.1,42.9" stroke-opacity="0.14"/>
<path d="M1210,246.3l-41.1,144.6" stroke-opacity="0.17"/>
<path d="M160,109.6l-29.9,135.8" stroke-opacity="0.07"/>
<path d="M814.6,124.5l-23.3,137" stroke-opacity="0.09"/>
<path d="M322.3,273.7l-20.8,107.8" stroke-opacity="0.12"/>
<path d="M462,322.4l-17.7,127.4" stroke-opacity="0.14"/>
<path d="M917.9,260l-19.4,158.9" stroke-opacity="0.18"/>
<path d="M853.4,294.8l-29.9,144.8" stroke-opacity="0.18"/>
<path d="M1199.8,243.7l-39,108.1" stroke-opacity="0.12"/>
<path d="M560.3,125.1l-32.5,136.4" stroke-opacity="0.11"/>
<path d="M259.5,139l-9.4,95.2" stroke-opacity="0.20"/>
<path d="M130.5,164l-9.3,54.9" stroke-opacity="0.17"/>
<path d="M273.5,105l-15.6,99.6" stroke-opacity="0.19"/>
<path d="M103.3,116.1l-5.3,64" stroke-opacity="0.09"/>
<path d="M913.5,232.7l-5.3,69.1" stroke-opacity="0.10"/>
<path d="M265.3,271.8l-12.1,80.5" stroke-opacity="0.17"/>
<path d="M630.6,152.5l-34.6,155.4" stroke-opacity="0.11"/>
<path d="M711.3,319.7l-8.7,102.7" stroke-opacity="0.07"/>
<path d="M1187.5,282.3l-24.7,90" stroke-opacity="0.10"/>
<path d="M1238.4,247.8l-18.6,70.9" stroke-opacity="0.11"/>
<path d="M1008.2,261.2l-19.8,118.8" stroke-opacity="0.11"/>
<path d="M368.7,298.6l-17.9,107.1" stroke-opacity="0.20"/>
<path d="M377.1,218.3l-11.6,59.6" stroke-opacity="0.06"/>
<path d="M1037.5,293.1l-29.5,146.9" stroke-opacity="0.16"/>
<path d="M175.6,205.2l-23.3,100.9" stroke-opacity="0.14"/>
<path d="M1080.2,162.9l-56.3,142.6" stroke-opacity="0.07"/>
<path d="M1043.3,140l-18.5,110.6" stroke-opacity="0.18"/>
<path d="M430.6,164.6l-5,49.9" stroke-opacity="0.13"/>
<path d="M911,176.3l-7.9,129.3" stroke-opacity="0.12"/>
<path d="M609.5,322.1l-25.3,147.9" stroke-opacity="0.06"/>
<path d="M508.8,260.4l-10.8,70.9" stroke-opacity="0.12"/>
<path d="M72.5,328l-11.7,143.9" stroke-opacity="0.15"/>
<path d="M405.6,180.2l-11,110.2" stroke-opacity="0.11"/>
<path d="M526.7,250l-5.9,73.3" stroke-opacity="0.16"/>
<path d="M452,316.8l-20.9,113.2" stroke-opacity="0.11"/>
<path d="M1044,112.1l-18.9,58.3" stroke-opacity="0.16"/>
<path d="M274,186.5l-23.6,148.8" stroke-opacity="0.07"/>
<path d="M329.6,127.7l-6.8,56.1" stroke-opacity="0.07"/>
<path d="M1155.5,192.5l-37.3,106.5" stroke-opacity="0.17"/>
<path d="M519.3,169.5l-4,93.6" stroke-opacity="0.12"/>
<path d="M892.9,325.7l-24.5,142.7" stroke-opacity="0.15"/>
<path d="M82.1,169.4l-14.4,84.5" stroke-opacity="0.07"/>
<path d="M509.4,212.2l-29.2,142.5" stroke-opacity="0.15"/>
<path d="M248.4,274l-23.6,157.4" stroke-opacity="0.11"/>
<path d="M655.5,124l-31.5,132.7" stroke-opacity="0.13"/>
<path d="M911.3,290.5l-15,65.6" stroke-opacity="0.15"/>
<path d="M295.5,110l-11.2,71.8" stroke-opacity="0.16"/>
<path d="M451.7,313l-11.5,87" stroke-opacity="0.08"/>
<path d="M1218.6,122.5l-45.4,157.5" stroke-opacity="0.14"/>
<path d="M374.6,308.2l-34.4,169" stroke-opacity="0.14"/>
<path d="M206,287.9l-17,77.5" stroke-opacity="0.09"/>
<path d="M742.6,289.4l-9.6,64.1" stroke-opacity="0.07"/>
<path d="M98.1,133.2l-38.4,168.3" stroke-opacity="0.15"/>
<path d="M426.1,251.1l-15.8,135.9" stroke-opacity="0.14"/>
<path d="M1016.5,93.9l-10.7,65.9" stroke-opacity="0.11"/>
<path d="M737.7,131.7l-10,107.6" stroke-opacity="0.14"/>
<path d="M455.2,244l-7.8,44.9" stroke-opacity="0.08"/>
<path d="M1201.6,234l-31,101.1" stroke-opacity="0.16"/>
<path d="M962.1,270.4l-24.6,103.2" stroke-opacity="0.18"/>
<path d="M1077.5,188.2l-37.8,96.4" stroke-opacity="0.13"/>
<path d="M684.8,193.7l-16.4,157.6" stroke-opacity="0.07"/>
<path d="M923.4,306l-21.6,135.2" stroke-opacity="0.17"/>
<path d="M422.7,232.4l-3.2,49.1" stroke-opacity="0.12"/>
<path d="M658.1,185.2l-8.4,46.8" stroke-opacity="0.13"/>
<path d="M344.6,163.5l-8,91.4" stroke-opacity="0.07"/>
<path d="M1144.4,322l-31.2,126.5" stroke-opacity="0.17"/>
<path d="M323.9,269.2l-25.1,113.7" stroke-opacity="0.07"/>
<path d="M1002.9,119.7l-13.2,109.9" stroke-opacity="0.09"/>
<path d="M416.1,167.9l-10.5,48.1" stroke-opacity="0.17"/>
<path d="M532.7,175.6l-5.7,116.1" stroke-opacity="0.06"/>
<path d="M1129.2,163.9l-43.3,104.8" stroke-opacity="0.13"/>
<path d="M305.7,160.9l-35.1,159.9" stroke-opacity="0.09"/>
<path d="M1057.1,175l-38.9,101.4" stroke-opacity="0.20"/>
<path d="M300.4,241.8l-14,64.9" stroke-opacity="0.07"/>
<path d="M186.3,264.2l-17.8,80.7" stroke-opacity="0.18"/>
<path d="M908.6,122.4l-29.7,130.5" stroke-opacity="0.12"/>
<path d="M154,143.6l-14.6,79.9" stroke-opacity="0.09"/>
<path d="M275.4,146.5l-25,126.4" stroke-opacity="0.11"/>
<path d="M847.8,302.3l-10,116.7" stroke-opacity="0.10"/>
<path d="M1162.8,250.1l-11.2,76" stroke-opacity="0.20"/>
<path d="M584,216.8l-5.3,109" stroke-opacity="0.14"/>
<path d="M398.6,150.2l-8.3,144.4" stroke-opacity="0.10"/>
<path d="M959.3,149l-11.4,76.3" stroke-opacity="0.09"/>
<path d="M1127.5,327.1l-15.3,44.4" stroke-opacity="0.11"/>
<path d="M1165.8,210l-19.9,63.4" stroke-opacity="0.11"/>
<path d="M843.3,277.9l-15.1,107.2" stroke-opacity="0.18"/>
<path d="M874.3,214.9l-12.2,163.7" stroke-opacity="0.17"/>
<path d="M256.6,235.9l-9,70.6" stroke-opacity="0.17"/>
<path d="M996,279.9l-9.7,70.7" stroke-opacity="0.09"/>
<path d="M750.3,209.8l-7.1,44.6" stroke-opacity="0.16"/>
<path d="M741.4,299.5l-4.5,63.4" stroke-opacity="0.06"/>
<path d="M650.4,194.3l-9,97.4" stroke-opacity="0.17"/>
<path d="M146.3,307.8l-16.9,114" stroke-opacity="0.17"/>
<path d="M343.2,125.1l-3.9,80.4" stroke-opacity="0.10"/>
<path d="M799.2,216.1l-11.7,74.4" stroke-opacity="0.07"/>
<path d="M1036.5,131.2l-23.9,73.1" stroke-opacity="0.18"/>
<path d="M996.2,104.7l-10.5,93.4" stroke-opacity="0.09"/>
<path d="M1214.9,100.1l-43.1,103.6" stroke-opacity="0.08"/>
<path d="M601.8,268.8l-4,45.1" stroke-opacity="0.18"/>
<path d="M228.4,184.3l-9.8,78.7" stroke-opacity="0.07"/>
<path d="M100.8,329.1l-26,139.2" stroke-opacity="0.09"/>
<path d="M361.3,222.5l-9.4,71.4" stroke-opacity="0.19"/>
<path d="M493.2,170.9l-27.2,167.6" stroke-opacity="0.07"/>
<path d="M539.6,245.9l-5.2,47.6" stroke-opacity="0.16"/>
<path d="M1088.7,231.8l-36.9,155.2" stroke-opacity="0.18"/>
<path d="M513.5,277.5l-7.4,68" stroke-opacity="0.09"/>
<path d="M714,129.3l-5.5,66.5" stroke-opacity="0.13"/>
<path d="M427.2,197.3l-29.7,169.1" stroke-opacity="0.18"/>
<path d="M303.5,181.9l-8.8,49.5" stroke-opacity="0.11"/>
<path d="M386.7,94.5l-5.9,63.7" stroke-opacity="0.12"/>
<path d="M1159,261.6l-12.4,74.9" stroke-opacity="0.19"/>
<path d="M488.1,273.8l-29.7,134" stroke-opacity="0.06"/>
<path d="M443.3,182.3l-11,50.8" stroke-opacity="0.11"/>
<path d="M977.1,214.6l-5.6,47.1" stroke-opacity="0.09"/>
<path d="M108.6,126.2l-5.4,117.4" stroke-opacity="0.10"/>
<path d="M564.6,220.6l-10.5,57.7" stroke-opacity="0.10"/>
<path d="M923.3,249.9l-4.8,59.1" stroke-opacity="0.10"/>
<path d="M908.2,187.3l-19.2,90.2" stroke-opacity="0.09"/>
<path d="M407.6,172.8l-3.3,68" stroke-opacity="0.06"/>
<path d="M810.2,225.8l-34.1,145.1" stroke-opacity="0.10"/>
<path d="M857.9,310.6l-12.1,68.1" stroke-opacity="0.15"/>
<path d="M1196.6,298.4l-10.4,70.5" stroke-opacity="0.12"/>
<path d="M527,104.4l-9.5,89.8" stroke-opacity="0.13"/>
<path d="M393,128.1l-12.5,92.3" stroke-opacity="0.08"/>
<path d="M851.6,147.6l-5.6,52.1" stroke-opacity="0.12"/>
<path d="M239.4,229.8l-19.8,131.2" stroke-opacity="0.16"/>
<path d="M87.4,183.9l-4.6,87.4" stroke-opacity="0.12"/>
<path d="M125,208.9l-15.5,116.2" stroke-opacity="0.11"/>
<path d="M361.5,95.6l-18.6,85.1" stroke-opacity="0.14"/>
<path d="M371.7,250.3l-8.6,64.2" stroke-opacity="0.15"/>
<path d="M1196,177l-40.4,114.9" stroke-opacity="0.15"/>
<path d="M798.8,188.6l-9,94" stroke-opacity="0.18"/>
<path d="M1106.9,181.7l-25.4,158.2" stroke-opacity="0.13"/>
<path d="M427.2,176.5l-11.7,167" stroke-opacity="0.09"/>
<path d="M331.9,253.2l-2.8,70.5" stroke-opacity="0.14"/>
<path d="M528.7,147.4l-17.7,104.2" stroke-opacity="0.14"/>
<path d="M803,224.6l-34.6,148" stroke-opacity="0.11"/>
<path d="M472.5,302.7l-14.8,80.7" stroke-opacity="0.16"/>
<path d="M877,321.3l-10.6,147.2" stroke-opacity="0.15"/>
<path d="M643.9,225.3l-8.6,88" stroke-opacity="0.16"/>
<path d="M695.4,146.9l-7.6,72.4" stroke-opacity="0.08"/>
<path d="M671.4,120.2l-2.6,48.2" stroke-opacity="0.07"/>
<path d="M898.7,117.1l-19.2,98.7" stroke-opacity="0.13"/>
<path d="M253.5,297.9l-7.8,153.1" stroke-opacity="0.10"/>
<path d="M663.9,281.1l-16.7,91" stroke-opacity="0.10"/>
<path d="M911.7,168.4l-16,83.4" stroke-opacity="0.18"/>
<path d="M1046,226.2l-29.1,94.7" stroke-opacity="0.18"/>
<path d="M1013.5,120.1l-16.8,89" stroke-opacity="0.09"/>
<path d="M76.3,230.5l-38,162.3" stroke-opacity="0.08"/>
<path d="M878.2,190.6l-14.6,122.1" stroke-opacity="0.19"/>
<path d="M1236.7,101.7l-17.6,132.7" stroke-opacity="0.10"/>
<path d="M930.2,328.5l-5.9,55.6" stroke-opacity="0.06"/>
<path d="M705.7,205.9l-9,88.5" stroke-opacity="0.17"/>
<path d="M1058,158.1l-31.8,90.9" stroke-opacity="0.20"/>
<path d="M523.3,256.6l-22.2,111" stroke-opacity="0.08"/>
<path d="M268.3,115.7l-14.6,161.4" stroke-opacity="0.13"/>
<path d="M203.2,167.7l-6.5,42.5" stroke-opacity="0.08"/>
<path d="M804.1,155.8l-9.5,69.6" stroke-opacity="0.11"/>
<path d="M368.9,102.3l-10.6,48.4" stroke-opacity="0.10"/>
<path d="M153.3,133.8l-24.6,102.8" stroke-opacity="0.09"/>
<path d="M1092,206.2l-22.4,93.9" stroke-opacity="0.07"/>
<path d="M715.2,247.7l-11.5,121" stroke-opacity="0.19"/>
<path d="M1088.9,328.6l-32.9,97.6" stroke-opacity="0.08"/>
<path d="M91.9,130.5l-3,55.4" stroke-opacity="0.11"/>
<path d="M956.7,164.4l-4.5,106.9" stroke-opacity="0.09"/>
<path d="M1201.5,92.6l-38.8,108.5" stroke-opacity="0.16"/>
<path d="M535.1,282.7l-28.6,147.6" stroke-opacity="0.20"/>
<path d="M180,318.1l-16.7,92.3" stroke-opacity="0.10"/>
<path d="M1142.5,95.6l-27.2,115" stroke-opacity="0.11"/>
<path d="M841.8,284.6l-14.7,87.4" stroke-opacity="0.11"/>
<path d="M392.3,307.2l-4.8,81.8" stroke-opacity="0.11"/>
<path d="M942.5,140.7l-20.4,136.6" stroke-opacity="0.16"/>
<path d="M271,115.4l-6.4,58.6" stroke-opacity="0.12"/>
<path d="M71.2,210.6l-9.6,92.4" stroke-opacity="0.14"/>
<path d="M1193.2,139.1l-53.5,154.5" stroke-opacity="0.08"/>
<path d="M1235.1,193.2l-40,165.1" stroke-opacity="0.16"/>
<path d="M271.6,155.6l-29.4,128" stroke-opacity="0.11"/>
<path d="M278.3,175.7l-11.7,168.6" stroke-opacity="0.15"/>
<path d="M510,244.5l-11,67.6" stroke-opacity="0.18"/>
<path d="M1079.1,240.9l-16.3,105.6" stroke-opacity="0.18"/>
<path d="M880.9,198.8l-15.7,126.5" stroke-opacity="0.11"/>
<path d="M333.7,234.2l-16.4,114.5" stroke-opacity="0.06"/>
<path d="M806.5,197.2l-18.6,117.1" stroke-opacity="0.19"/>
<path d="M240.8,202.5l-31.7,169.1" stroke-opacity="0.10"/>
<path d="M936.7,327.5l-19.7,92.3" stroke-opacity="0.08"/>
<path d="M1238.2,207.9l-22.2,70.4" stroke-opacity="0.19"/>
<path d="M1046.8,281.4l-14.9,106.5" stroke-opacity="0.18"/>
<path d="M906.8,150.2l-19,144.9" stroke-opacity="0.14"/>
<path d="M1090,137l-10.8,76.4" stroke-opacity="0.14"/>
<path d="M996.7,207.8l-14.3,71.4" stroke-opacity="0.18"/>
<path d="M977.3,221.8l-31.4,157.7" stroke-opacity="0.08"/>
<path d="M495.4,114.1l-4.9,44.8" stroke-opacity="0.18"/>
<path d="M1052.3,118.2l-23.8,63.6" stroke-opacity="0.15"/>
<path d="M1133.1,107.3l-52,168.4" stroke-opacity="0.18"/>
<path d="M925.9,137.3l-16,126.9" stroke-opacity="0.06"/>
<path d="M464.1,165.7l-11.7,121.9" stroke-opacity="0.14"/>
<path d="M886.9,133.4l-10.1,56.6" stroke-opacity="0.13"/>
<path d="M213.6,117.8l-26.3,162.3" stroke-opacity="0.11"/>
<path d="M293.4,328.8l-24.3,129.9" stroke-opacity="0.11"/>
<path d="M429.2,188l-9.8,59" stroke-opacity="0.12"/>
<path d="M1036,188.2l-40,99.4" stroke-opacity="0.11"/>
<path d="M897.3,146.4l-11.2,115.3" stroke-opacity="0.18"/>
<path d="M400.9,295.1l-16.8,128" stroke-opacity="0.19"/>
<path d="M521.3,268.4l-15.3,118.2" stroke-opacity="0.07"/>
<path d="M558.7,157.5l-22.5,97.3" stroke-opacity="0.10"/>
<path d="M886.9,251.3l-8.8,71.8" stroke-opacity="0.08"/>
<path d="M1125.5,150.4l-34.7,94.7" stroke-opacity="0.18"/>
<path d="M762.9,221l-11.6,52.9" stroke-opacity="0.07"/>
<path d="M492.7,179.9l-23.3,134" stroke-opacity="0.11"/>
<path d="M1128.5,317.9l-11.2,43" stroke-opacity="0.11"/>
<path d="M613.2,165.8l-20.5,127.2" stroke-opacity="0.20"/>
<path d="M1222,328.2l-28.8,91.4" stroke-opacity="0.16"/>
<path d="M1247.2,106l-31.7,100.1" stroke-opacity="0.09"/>
<path d="M1237.8,140.3l-21,88.1" stroke-opacity="0.16"/>
<path d="M159.4,130l-20.5,124.4" stroke-opacity="0.16"/>
<path d="M361.6,284.7l-26.4,135" stroke-opacity="0.08"/>
<path d="M617.7,93.8l-34.7,151.8" stroke-opacity="0.19"/>
<path d="M88.8,174.3l-16.1,109.7" stroke-opacity="0.08"/>
<path d="M999.2,162.4l-6.9,106" stroke-opacity="0.14"/>
<path d="M214.4,111.2l-10.5,106.6" stroke-opacity="0.17"/>
<path d="M353.7,189.3l-3.9,47.1" stroke-opacity="0.12"/>
<path d="M724.2,200.3l-9.2,150.6" stroke-opacity="0.18"/>
<path d="M244.3,322.9l-13.1,108.2" stroke-opacity="0.15"/>
<path d="M1088,321.3l-15.6,93.7" stroke-opacity="0.17"/>
<path d="M934,261l-8.8,60.4" stroke-opacity="0.06"/>
<path d="M191.2,162.2l-27.9,165.6" stroke-opacity="0.18"/>
<path d="M114.8,189.9l-4.6,50.2" stroke-opacity="0.08"/>
<path d="M1153.4,168.9l-40,103.6" stroke-opacity="0.19"/>
<path d="M735.8,210.2l-18.7,157.5" stroke-opacity="0.10"/>
<path d="M939.8,152l-11.1,87.8" stroke-opacity="0.13"/>
<path d="M486.6,193.3l-4.9,98.6" stroke-opacity="0.18"/>
<path d="M133.5,216.7l-13.3,111.2" stroke-opacity="0.09"/>
<path d="M178,179.3l-11.1,80.9" stroke-opacity="0.09"/>
<path d="M951.9,207l-5,41.2" stroke-opacity="0.20"/>
<path d="M68.4,232.4l-18.7,164.9" stroke-opacity="0.14"/>
<path d="M499,162.3l-18.8,119.2" stroke-opacity="0.10"/>
<path d="M652.2,213.9l-7,138" stroke-opacity="0.07"/>
<path d="M359.8,154.8l-17.9,143.4" stroke-opacity="0.18"/>
<path d="M538.7,158.6l-7.3,128.4" stroke-opacity="0.20"/>
<path d="M1049.5,168.8l-29,81.3" stroke-opacity="0.15"/>
<path d="M127.5,273.3l-7.6,46.2" stroke-opacity="0.14"/>
<path d="M1163.5,243.3l-14.8,42.9" stroke-opacity="0.14"/>
<path d="M66.6,266.9l-16.6,94.4" stroke-opacity="0.20"/>
<path d="M1150.9,108l-48.9,141.6" stroke-opacity="0.11"/>
<path d="M592.7,194.9l-5.8,55.3" stroke-opacity="0.16"/>
<path d="M145,117.8l-25.7,148.4" stroke-opacity="0.14"/>
<path d="M194.8,118.4l-18.5,80.3" stroke-opacity="0.14"/>
<path d="M1157.5,140.7l-34.9,93.9" stroke-opacity="0.08"/>
<path d="M1099.7,203.4l-10.3,44.1" stroke-opacity="0.15"/>
<path d="M1164.5,208.5l-45.8,129.6" stroke-opacity="0.07"/>
<path d="M943.4,130l-9.3,116.2" stroke-opacity="0.11"/>
<path d="M255,173.9l-16.8,116.9" stroke-opacity="0.11"/>
<path d="M743.4,292.2l-13.6,86.6" stroke-opacity="0.13"/>
<path d="M1226.9,168.7l-25.9,130.7" stroke-opacity="0.16"/>
<path d="M744.2,151.7l-9.9,48.3" stroke-opacity="0.11"/>
<path d="M912.6,193.9l-18.3,120.3" stroke-opacity="0.20"/>
<path d="M1142.5,199.4l-35.7,103.3" stroke-opacity="0.07"/>
<path d="M424.8,293.4l-8,44.6" stroke-opacity="0.14"/>
<path d="M716.3,169.9l-13.7,59.7" stroke-opacity="0.17"/>
<path d="M1018.8,113.4l-25.5,141.9" stroke-opacity="0.13"/>
<path d="M785.7,119l-21.8,139.4" stroke-opacity="0.19"/>
<path d="M1159.5,255.4l-29.3,87.3" stroke-opacity="0.10"/>
<path d="M1080.6,264.5l-9.4,74.4" stroke-opacity="0.14"/>
<path d="M361.7,160.3l-4.8,72.9" stroke-opacity="0.13"/>
<path d="M384.4,158.4l-10.8,76.1" stroke-opacity="0.18"/>
<path d="M250.5,296.3l-24.5,151.1" stroke-opacity="0.14"/>
<path d="M933.4,218.3l-28.2,125.8" stroke-opacity="0.17"/>
<path d="M369.2,103l-18.2,161.8" stroke-opacity="0.17"/>
<path d="M337.8,198.7l-16.4,88.2" stroke-opacity="0.19"/>
<path d="M661.7,225.8l-7.4,85.3" stroke-opacity="0.19"/>
<path d="M191.2,315.7l-6.8,125.4" stroke-opacity="0.19"/>
<path d="M181.4,225.7l-13.2,55.6" stroke-opacity="0.10"/>
<path d="M1097.8,104.7l-16.3,126.6" stroke-opacity="0.14"/>
<path d="M1229.5,254.4l-41.8,151.2" stroke-opacity="0.07"/>
<path d="M687.1,134.3l-12,108.5" stroke-opacity="0.13"/>
<path d="M295,259.2l-12.9,94.2" stroke-opacity="0.07"/>
<path d="M639.5,223.8l-25.3,166.4" stroke-opacity="0.08"/>
<path d="M417.3,170.6l-29.9,131.3" stroke-opacity="0.20"/>
<path d="M1190.4,312.1l-19.1,151.6" stroke-opacity="0.13"/>
<path d="M762.9,254.6l-19.5,119.7" stroke-opacity="0.19"/>
<path d="M162.8,214.6l-7.6,164.7" stroke-opacity="0.08"/>
<path d="M1094.2,319.7l-15.9,43.1" stroke-opacity="0.16"/>
<path d="M678.5,229.2l-27.9,138.5" stroke-opacity="0.06"/>
<path d="M140.8,280.6l-34.5,166.8" stroke-opacity="0.12"/>
<path d="M459.3,173.2l-8.1,41.9" stroke-opacity="0.10"/>
<path d="M756.9,216.3l-14.6,83.6" stroke-opacity="0.12"/>
<path d="M653.8,462.3l-0.4,77.6" stroke-opacity="0.13"/>
<path d="M661.4,401.8l-5.1,138.4" stroke-opacity="0.13"/>
<path d="M655.3,428.2l-5.9,86" stroke-opacity="0.13"/>
<path d="M662,461.6l-1.5,78.5" stroke-opacity="0.13"/>
<path d="M680.6,379.4l-12.5,132.6" stroke-opacity="0.13"/>
<path d="M876.1,411l-7.5,67.9" stroke-opacity="0.13"/>
<path d="M657.8,362.7l-15,101.4" stroke-opacity="0.13"/>
<path d="M708.3,383.5l-22.4,151.1" stroke-opacity="0.13"/>
<path d="M714.9,350.3l-15.7,139" stroke-opacity="0.13"/>
<path d="M695.3,448.6l-2.8,97.9" stroke-opacity="0.13"/>
<path d="M797.3,441.2l-12.8,107.6" stroke-opacity="0.13"/>
<path d="M565.5,404.8l0.9,98" stroke-opacity="0.13"/>
<path d="M925.8,351.5l-10.4,80.6" stroke-opacity="0.13"/>
<path d="M944.2,469.7l-13,94.2" stroke-opacity="0.13"/>
<path d="M616.7,437.2l-2,154.6" stroke-opacity="0.13"/>
<path d="M614.3,431.7l-15.3,148.3" stroke-opacity="0.13"/>
<path d="M939.7,398.1l-0,97.2" stroke-opacity="0.13"/>
<path d="M669.2,470.8l-0.8,67.2" stroke-opacity="0.13"/>
<path d="M699,337.4l-1,90.7" stroke-opacity="0.13"/>
<path d="M609.1,409l-8.7,114" stroke-opacity="0.13"/>
<path d="M864.9,409l1,154.7" stroke-opacity="0.13"/>
<path d="M649.2,341.5l-9.9,90.9" stroke-opacity="0.13"/>
<path d="M929.7,405.6l-2.8,76" stroke-opacity="0.13"/>
<path d="M787.4,374.2l-20.2,139.3" stroke-opacity="0.13"/>
<path d="M743.9,420.5l-8.5,144.6" stroke-opacity="0.13"/>
<path d="M636.3,471.6l2.5,157.8" stroke-opacity="0.13"/>
<path d="M865.1,390.1l-0.5,65.2" stroke-opacity="0.13"/>
<path d="M629.2,440.5l1.4,81.2" stroke-opacity="0.13"/>
<path d="M647.9,449.9l-10,109.9" stroke-opacity="0.13"/>
<path d="M746,357.4l-2,61.5" stroke-opacity="0.13"/>
<path d="M576.6,369.1l-5.2,121.9" stroke-opacity="0.13"/>
<path d="M749.2,423.6l-3.7,91.7" stroke-opacity="0.13"/>
<path d="M913.6,417.1l-7.3,101.7" stroke-opacity="0.13"/>
<path d="M744.1,379.9l-3,151.4" stroke-opacity="0.13"/>
<path d="M934.3,457.9l-1.1,148.2" stroke-opacity="0.13"/>
<path d="M763.5,477.7l-0.8,88.9" stroke-opacity="0.13"/>
<path d="M849.4,365.3l-0.8,118.4" stroke-opacity="0.13"/>
<path d="M939,372.6l-6.7,69.7" stroke-opacity="0.13"/>
<path d="M698.8,413.9l-15,109.7" stroke-opacity="0.13"/>
<path d="M765.7,386.8l-3.9,60.2" stroke-opacity="0.13"/>
<path d="M667.6,416.1l-7.2,123.2" stroke-opacity="0.13"/>
<path d="M596,404.6l-9.6,108.2" stroke-opacity="0.13"/>
<path d="M948.1,372l0.6,104.3" stroke-opacity="0.13"/>
<path d="M880,365.2l-16.5,142.9" stroke-opacity="0.13"/>
<path d="M661.9,465.4l-5.8,110.4" stroke-opacity="0.13"/>
<path d="M782.1,471.9l-6.8,109" stroke-opacity="0.13"/>
<path d="M676.2,456.2l-4.2,110.3" stroke-opacity="0.13"/>
<path d="M638.6,362.3l-16.7,143.4" stroke-opacity="0.13"/>
<path d="M951.5,467.6l-14.9,128.5" stroke-opacity="0.13"/>
<path d="M844.7,451.4l-1.4,140.1" stroke-opacity="0.13"/>
<path d="M885.9,375.5l-11.5,84.4" stroke-opacity="0.13"/>
<path d="M569.1,406.8l-10.8,94.3" stroke-opacity="0.13"/>
<path d="M804.2,466.7l-13.7,153.3" stroke-opacity="0.13"/>
<path d="M585.8,430.1l-10.4,70.9" stroke-opacity="0.13"/>
<path d="M908.5,376.6l-7.7,78.6" stroke-opacity="0.13"/>
<path d="M863.2,477.8l-0.2,122.3" stroke-opacity="0.13"/>
<path d="M850.7,338.8l-16.2,146.8" stroke-opacity="0.13"/>
<path d="M874.1,461l-16.4,116.9" stroke-opacity="0.13"/>
<path d="M815.6,403.8l-3.9,98.4" stroke-opacity="0.13"/>
<path d="M569.2,354.2l-2.6,139.6" stroke-opacity="0.13"/>
<path d="M821.4,446.3l-8.8,129.4" stroke-opacity="0.13"/>
<path d="M686.4,370.9l-7.1,78.7" stroke-opacity="0.13"/>
<path d="M834.5,471.3l-12.8,93.1" stroke-opacity="0.13"/>
<path d="M924.6,373.6l-13.2,155.2" stroke-opacity="0.13"/>
<path d="M945,446.1l-2.6,93.3" stroke-opacity="0.13"/>
<path d="M769,403.2l-8,63.5" stroke-opacity="0.13"/>
<path d="M774.2,401l-3,134.5" stroke-opacity="0.13"/>
<path d="M639.7,417.1l-3,84.1" stroke-opacity="0.13"/>
<path d="M588,337.8l-6.6,95.5" stroke-opacity="0.13"/>
<path d="M939.6,425.9l-5,101.4" stroke-opacity="0.13"/>
</g>
<clipPath id="bwc"><path d="M132.0,109.6 L164.0,111.8 L196.4,115.0 L228.5,121.4 L256.3,129.0 L271.3,131.5 L284.0,127.0 L300.0,123.5 L321.0,119.0 L345.0,115.0 L356.0,110.0 L368.0,98.0 L378.0,90.0 L400.0,87.0 L436.0,90.0 L480.0,103.0 L516.0,119.0 L551.0,143.0 L580.0,160.0 L598.0,167.0 L618.0,154.0 L640.0,143.0 L667.0,129.0 L695.0,115.0 L716.0,107.0 L735.0,103.5 L765.0,105.0 L794.0,108.0 L823.0,116.7 L862.0,129.0 L911.0,141.0 L960.0,153.0 L1009.0,163.0 L1029.0,173.0 L1039.0,182.0 L1037.0,187.0 L1022.0,190.0 L1004.0,200.0 L990.0,226.0 L960.0,240.0 L936.0,250.0 L911.0,254.0 L862.0,250.0 L813.0,248.0 L765.0,248.0 L716.0,254.0 L667.0,262.0 L618.0,266.0 L569.0,258.0 L533.0,246.0 L518.0,236.0 L489.0,240.0 L467.0,244.0 L445.0,248.0 L400.0,256.0 L356.0,260.0 L312.0,262.0 L267.0,261.0 L236.0,258.0 L216.0,250.0 L203.0,241.0 L190.0,234.0 L181.0,226.5 L168.5,228.5 L153.5,226.3 L142.8,220.0 L132.0,211.3 L122.5,207.2 L118.8,205.0 L121.5,201.8 L117.8,199.6 L120.4,196.4 L116.7,194.2 L117.7,190.0 L114.0,187.8 L115.0,183.6 L111.3,181.4 L111.3,177.1 L107.6,174.9 L107.6,170.7 L103.9,168.5 L107.2,165.0 L103.5,162.8 L106.9,159.3 L103.2,157.1 L106.5,153.6 L102.8,151.4 L108.4,148.1 L104.7,145.9 L110.3,142.7 L106.6,140.5 L112.2,137.2 L108.5,135.0 L116.2,130.7 L112.5,128.5 L120.2,124.2 L116.5,122.0 L124.0,119.1 L120.3,116.9 L127.9,114.0 L124.2,111.8Z"/><path d="M168.0,226.0 L188.5,231.3 L218.8,246.4 L240.8,252.0 L273.9,254.7 L315.0,256.0 L370.0,253.3 L397.7,249.2 L425.0,242.3 L452.8,235.4 L480.3,231.3 L507.8,227.2 L518.8,225.8 L518.8,252.5 L512.0,253.0 L502.3,256.0 L483.0,264.3 L476.2,272.6 L466.5,283.6 L452.8,291.8 L425.2,296.0 L384.0,298.5 L342.7,301.5 L304.0,304.0 L282.0,301.5 L265.6,295.5 L251.8,286.3 L238.0,272.6 L229.8,260.2 L222.0,256.0 L205.0,247.0 L190.0,236.0 L168.0,226.0Z"/><path d="M518.8,226.0 L533.0,239.0 L569.0,252.0 L618.0,260.0 L667.0,256.0 L716.0,248.0 L765.0,243.0 L813.5,241.5 L862.5,244.0 L889.0,245.0 L913.0,247.0 L938.0,240.0 L957.0,237.0 L977.0,232.0 L989.0,225.0 L989.0,226.0 L972.0,240.0 L950.0,255.0 L933.0,267.0 L913.0,277.0 L896.0,286.0 L862.5,300.0 L823.0,325.0 L794.0,349.0 L765.0,370.0 L740.0,382.0 L706.0,387.0 L676.0,385.0 L654.0,371.0 L632.0,358.0 L615.0,341.0 L604.0,330.0 L593.0,316.0 L574.0,303.0 L560.0,289.0 L545.0,270.0 L530.0,256.0 L518.8,252.5Z"/></clipPath>
<g clip-path="url(#bwc)" stroke="#777" stroke-width="0.7" stroke-opacity="0.12" fill="none"><path d="M598.3,224.3l-21.3,160.1M759,134.3l-17.7,106.5M172,162.8l-10.5,51.8M109.8,325.7l-28.3,165.4M247.4,93.6l-5.6,108.7M347.9,97.2l-12.9,100.3M677.8,243.7l-18.1,105M391,329.4l-35.3,169.4M435.2,145.1l-4.2,77.6M536.5,293.2l-20.9,90.2M60.6,140.3l-21.2,158.3M532.9,107.5l-23.8,121.8M163.7,169.8l-31.7,165.3M353.2,114.3l-9.5,47.8M725.6,197.4l-12.1,64.8M826,118l-7.8,94.7M1215.4,282.8l-14.6,79.5M1076.7,244l-9.8,53M979.5,168.9l-4.3,78.5M753.5,148.3l-13.5,118.2M1201.4,206.1l-20.1,114.7M1141,286.3l-24.8,72.4M293.9,318l-24.9,154.7M183.6,99.3l-14.5,165.1M365.8,287.7l-11.6,117.5M917.2,106.5l-10.6,69.7M791,157.3l-12.9,159.3M380.3,197l-3.6,47.9M740.9,121.6l-19,87.1M841.7,255.9l-7.9,116M81.3,308.5l-30.5,131.1M817.1,205.7l-14,135M149.6,221.1l-29.9,135.8M897.4,280.4l-17.5,159M1132,299.1l-35.7,94.2M803.7,181.8l-18.7,115.7M820.9,328.4l-28.7,154.4M934.7,229.4l-20.2,97.3M952.8,97.1l-16.1,118.2M891,209.3l-26.9,119.9M73.5,162.2l-10.3,128.2M1137.8,248.4l-21.3,97.5M296.2,193.4l-32.3,144.8M517.5,229.9l-5.5,81.1M1056.1,293.7l-26.9,132.5M596.3,156l-8.3,67.8M647.7,165.7l-35.2,149.1M148.9,97.6l-7.4,153.5M739,164.2l-6.3,142.9M601.3,95.9l-12.9,147.9M115.9,241l-16.3,98M1020.8,320l-33.9,129M72.8,203.3l-10.1,132.8M471.4,257.4l-17.5,107.7M528.3,280.1l-9.1,157.8M919.6,121.2l-16.3,99M508.4,226.5l-30.8,154.3M611.8,246.3l-12.3,66.6M823.5,262.2l-14.9,67.7M1223.1,218.9l-56.1,142.8M474.7,109.9l-14.6,97.3M640.1,96.8l-7.7,145.2M265.7,170.4l-9.7,142.4M674.7,263.7l-26.5,149.2M646.2,317.8l-4.3,51.2M405.3,264.9l-17.8,123.1M726.4,164.8l-18.7,89.6M307.8,294.2l-24,165.9M299.2,218.6l-17,105.4M1213.6,213.8l-26.6,92.1M882.3,105.8l-13.5,110M1158.9,154.6l-25.4,101.5M1131.7,204.4l-24.8,81.2M214.1,277l-3.4,43M877.6,167.3l-14.1,86.2M929.8,119.5l-9.6,106.4M691.1,194.8l-10.9,88.8M250.1,139l-20.5,122.1M1073,236.8l-51.8,151.4M1134.2,165.8l-15,80.9M1116.2,122.1l-14.1,71.1M1050.3,191.2l-34.4,142.7M81.1,138.2l-28.6,128.7M197.3,211.4l-19.5,138.6M284.9,106.9l-2.6,53.8M672.6,226.5l-4.5,59.1M1059.9,327.7l-22.2,160.5M609.9,273.5l-11,82.5M571.8,234.2l-7.5,41.7M275.7,198.9l-16.5,136.1M256.4,213l-9.2,42M898.6,296.6l-14.7,121.8M660.1,325.8l-13.3,144.6M945.9,276.7l-17.7,145.9M1107,256.8l-33.8,139.7M144,172l-4.3,100.9M820.1,239.8l-16.1,70.2M462,248.3l-16.7,114M1249.9,244.1l-54.3,131.2M792.3,267.3l-8.8,73.4M292.6,180.2l-4.8,52.8M714.6,211.9l-25.5,165.7M819.2,284.3l-8,49.9M113.7,313.2l-8.2,60.8M649.7,236.7l-10.9,47.6M686.8,233.5l-8.5,87.5M727.2,158l-13.2,133.2M351.6,100.3l-11.5,60.4M1128.1,269.6l-18.8,46.5M1137.6,193.1l-19.7,102.1M1175.4,263.5l-36.8,100.9M197,239.8l-8,99.2M688.4,119.8l-16.9,97.6M371.9,229.7l-18.5,94.5M1247.2,318.6l-20.9,135.5M993.3,240l-8.2,86.7M732.2,232l-23.3,122.3M356.3,325.1l-34.3,159M132.3,155l-15.7,95.3M704.6,107.4l-9,51.2M811,179.6l-8.4,102.2M946.3,291.3l-3.2,49.7M802.2,274.5l-8.5,67.7M1023.8,178.5l-27.2,125M947.9,311l-10.9,95.6M1101.5,108.8l-13.5,50.8M415.7,276.1l-4.1,49.9M157.2,162.9l-24,134.2M230.1,175.9l-15.2,134.4M904,226.6l-36.3,159.4M581.2,282.7l-8.2,79.6M1172.3,304.7l-16.6,72.3M530.8,183l-10,65.3M703.3,290.7l-8.5,113.2M1108.3,157.5l-12.1,42.9M1210,246.3l-41.1,144.6M160,109.6l-29.9,135.8M814.6,124.5l-23.3,137M322.3,273.7l-20.8,107.8M462,322.4l-17.7,127.4M917.9,260l-19.4,158.9M853.4,294.8l-29.9,144.8M1199.8,243.7l-39,108.1M560.3,125.1l-32.5,136.4M259.5,139l-9.4,95.2M130.5,164l-9.3,54.9M273.5,105l-15.6,99.6M103.3,116.1l-5.3,64M913.5,232.7l-5.3,69.1M265.3,271.8l-12.1,80.5M630.6,152.5l-34.6,155.4M711.3,319.7l-8.7,102.7M1187.5,282.3l-24.7,90M1238.4,247.8l-18.6,70.9M1008.2,261.2l-19.8,118.8M368.7,298.6l-17.9,107.1M377.1,218.3l-11.6,59.6M1037.5,293.1l-29.5,146.9M175.6,205.2l-23.3,100.9M1080.2,162.9l-56.3,142.6M1043.3,140l-18.5,110.6M430.6,164.6l-5,49.9M911,176.3l-7.9,129.3M609.5,322.1l-25.3,147.9M508.8,260.4l-10.8,70.9M72.5,328l-11.7,143.9M405.6,180.2l-11,110.2M526.7,250l-5.9,73.3M452,316.8l-20.9,113.2M1044,112.1l-18.9,58.3M274,186.5l-23.6,148.8M329.6,127.7l-6.8,56.1M1155.5,192.5l-37.3,106.5M519.3,169.5l-4,93.6M892.9,325.7l-24.5,142.7M82.1,169.4l-14.4,84.5M509.4,212.2l-29.2,142.5M248.4,274l-23.6,157.4M655.5,124l-31.5,132.7M911.3,290.5l-15,65.6M295.5,110l-11.2,71.8M451.7,313l-11.5,87M1218.6,122.5l-45.4,157.5M374.6,308.2l-34.4,169M206,287.9l-17,77.5M742.6,289.4l-9.6,64.1M98.1,133.2l-38.4,168.3M426.1,251.1l-15.8,135.9M1016.5,93.9l-10.7,65.9M737.7,131.7l-10,107.6M455.2,244l-7.8,44.9M1201.6,234l-31,101.1M962.1,270.4l-24.6,103.2M1077.5,188.2l-37.8,96.4M684.8,193.7l-16.4,157.6M923.4,306l-21.6,135.2M422.7,232.4l-3.2,49.1M658.1,185.2l-8.4,46.8M344.6,163.5l-8,91.4M1144.4,322l-31.2,126.5M323.9,269.2l-25.1,113.7M1002.9,119.7l-13.2,109.9M416.1,167.9l-10.5,48.1M532.7,175.6l-5.7,116.1M1129.2,163.9l-43.3,104.8M305.7,160.9l-35.1,159.9M1057.1,175l-38.9,101.4M300.4,241.8l-14,64.9M186.3,264.2l-17.8,80.7M908.6,122.4l-29.7,130.5M154,143.6l-14.6,79.9M275.4,146.5l-25,126.4M847.8,302.3l-10,116.7M1162.8,250.1l-11.2,76M584,216.8l-5.3,109M398.6,150.2l-8.3,144.4M959.3,149l-11.4,76.3M1127.5,327.1l-15.3,44.4M1165.8,210l-19.9,63.4M843.3,277.9l-15.1,107.2M874.3,214.9l-12.2,163.7M256.6,235.9l-9,70.6M996,279.9l-9.7,70.7M750.3,209.8l-7.1,44.6M741.4,299.5l-4.5,63.4M650.4,194.3l-9,97.4M146.3,307.8l-16.9,114M343.2,125.1l-3.9,80.4M799.2,216.1l-11.7,74.4M1036.5,131.2l-23.9,73.1M996.2,104.7l-10.5,93.4M1214.9,100.1l-43.1,103.6M601.8,268.8l-4,45.1M228.4,184.3l-9.8,78.7M100.8,329.1l-26,139.2M361.3,222.5l-9.4,71.4M493.2,170.9l-27.2,167.6M539.6,245.9l-5.2,47.6M1088.7,231.8l-36.9,155.2M513.5,277.5l-7.4,68M714,129.3l-5.5,66.5M427.2,197.3l-29.7,169.1M303.5,181.9l-8.8,49.5M386.7,94.5l-5.9,63.7M1159,261.6l-12.4,74.9M488.1,273.8l-29.7,134M443.3,182.3l-11,50.8M977.1,214.6l-5.6,47.1M108.6,126.2l-5.4,117.4M564.6,220.6l-10.5,57.7M923.3,249.9l-4.8,59.1M908.2,187.3l-19.2,90.2M407.6,172.8l-3.3,68M810.2,225.8l-34.1,145.1M857.9,310.6l-12.1,68.1M1196.6,298.4l-10.4,70.5M527,104.4l-9.5,89.8M393,128.1l-12.5,92.3M851.6,147.6l-5.6,52.1M239.4,229.8l-19.8,131.2M87.4,183.9l-4.6,87.4M125,208.9l-15.5,116.2M361.5,95.6l-18.6,85.1M371.7,250.3l-8.6,64.2M1196,177l-40.4,114.9M798.8,188.6l-9,94M1106.9,181.7l-25.4,158.2M427.2,176.5l-11.7,167M331.9,253.2l-2.8,70.5M528.7,147.4l-17.7,104.2M803,224.6l-34.6,148M472.5,302.7l-14.8,80.7M877,321.3l-10.6,147.2M643.9,225.3l-8.6,88M695.4,146.9l-7.6,72.4M671.4,120.2l-2.6,48.2M898.7,117.1l-19.2,98.7M253.5,297.9l-7.8,153.1M663.9,281.1l-16.7,91M911.7,168.4l-16,83.4M1046,226.2l-29.1,94.7M1013.5,120.1l-16.8,89M76.3,230.5l-38,162.3M878.2,190.6l-14.6,122.1M1236.7,101.7l-17.6,132.7M930.2,328.5l-5.9,55.6M705.7,205.9l-9,88.5M1058,158.1l-31.8,90.9M523.3,256.6l-22.2,111M268.3,115.7l-14.6,161.4M203.2,167.7l-6.5,42.5M804.1,155.8l-9.5,69.6M368.9,102.3l-10.6,48.4M153.3,133.8l-24.6,102.8M1092,206.2l-22.4,93.9M715.2,247.7l-11.5,121M1088.9,328.6l-32.9,97.6M91.9,130.5l-3,55.4M956.7,164.4l-4.5,106.9M1201.5,92.6l-38.8,108.5M535.1,282.7l-28.6,147.6M180,318.1l-16.7,92.3M1142.5,95.6l-27.2,115M841.8,284.6l-14.7,87.4M392.3,307.2l-4.8,81.8M942.5,140.7l-20.4,136.6M271,115.4l-6.4,58.6M71.2,210.6l-9.6,92.4M1193.2,139.1l-53.5,154.5M1235.1,193.2l-40,165.1M271.6,155.6l-29.4,128M278.3,175.7l-11.7,168.6M510,244.5l-11,67.6M1079.1,240.9l-16.3,105.6M880.9,198.8l-15.7,126.5M333.7,234.2l-16.4,114.5M806.5,197.2l-18.6,117.1M240.8,202.5l-31.7,169.1M936.7,327.5l-19.7,92.3M1238.2,207.9l-22.2,70.4M1046.8,281.4l-14.9,106.5M906.8,150.2l-19,144.9M1090,137l-10.8,76.4M996.7,207.8l-14.3,71.4M977.3,221.8l-31.4,157.7M495.4,114.1l-4.9,44.8M1052.3,118.2l-23.8,63.6M1133.1,107.3l-52,168.4M925.9,137.3l-16,126.9M464.1,165.7l-11.7,121.9M886.9,133.4l-10.1,56.6M213.6,117.8l-26.3,162.3M293.4,328.8l-24.3,129.9M429.2,188l-9.8,59M1036,188.2l-40,99.4M897.3,146.4l-11.2,115.3M400.9,295.1l-16.8,128M521.3,268.4l-15.3,118.2M558.7,157.5l-22.5,97.3M886.9,251.3l-8.8,71.8M1125.5,150.4l-34.7,94.7M762.9,221l-11.6,52.9M492.7,179.9l-23.3,134M1128.5,317.9l-11.2,43M613.2,165.8l-20.5,127.2M1222,328.2l-28.8,91.4M1247.2,106l-31.7,100.1M1237.8,140.3l-21,88.1M159.4,130l-20.5,124.4M361.6,284.7l-26.4,135M617.7,93.8l-34.7,151.8M88.8,174.3l-16.1,109.7M999.2,162.4l-6.9,106M214.4,111.2l-10.5,106.6M353.7,189.3l-3.9,47.1M724.2,200.3l-9.2,150.6M244.3,322.9l-13.1,108.2M1088,321.3l-15.6,93.7M934,261l-8.8,60.4M191.2,162.2l-27.9,165.6M114.8,189.9l-4.6,50.2M1153.4,168.9l-40,103.6M735.8,210.2l-18.7,157.5M939.8,152l-11.1,87.8M486.6,193.3l-4.9,98.6M133.5,216.7l-13.3,111.2M178,179.3l-11.1,80.9M951.9,207l-5,41.2M68.4,232.4l-18.7,164.9M499,162.3l-18.8,119.2M652.2,213.9l-7,138M359.8,154.8l-17.9,143.4M538.7,158.6l-7.3,128.4M1049.5,168.8l-29,81.3M127.5,273.3l-7.6,46.2M1163.5,243.3l-14.8,42.9M66.6,266.9l-16.6,94.4M1150.9,108l-48.9,141.6M592.7,194.9l-5.8,55.3M145,117.8l-25.7,148.4M194.8,118.4l-18.5,80.3M1157.5,140.7l-34.9,93.9M1099.7,203.4l-10.3,44.1M1164.5,208.5l-45.8,129.6M943.4,130l-9.3,116.2M255,173.9l-16.8,116.9M743.4,292.2l-13.6,86.6M1226.9,168.7l-25.9,130.7M744.2,151.7l-9.9,48.3M912.6,193.9l-18.3,120.3M1142.5,199.4l-35.7,103.3M424.8,293.4l-8,44.6M716.3,169.9l-13.7,59.7M1018.8,113.4l-25.5,141.9M785.7,119l-21.8,139.4M1159.5,255.4l-29.3,87.3M1080.6,264.5l-9.4,74.4M361.7,160.3l-4.8,72.9M384.4,158.4l-10.8,76.1M250.5,296.3l-24.5,151.1M933.4,218.3l-28.2,125.8M369.2,103l-18.2,161.8M337.8,198.7l-16.4,88.2M661.7,225.8l-7.4,85.3M191.2,315.7l-6.8,125.4M181.4,225.7l-13.2,55.6M1097.8,104.7l-16.3,126.6M1229.5,254.4l-41.8,151.2M687.1,134.3l-12,108.5M295,259.2l-12.9,94.2M639.5,223.8l-25.3,166.4M417.3,170.6l-29.9,131.3M1190.4,312.1l-19.1,151.6M762.9,254.6l-19.5,119.7M162.8,214.6l-7.6,164.7M1094.2,319.7l-15.9,43.1M678.5,229.2l-27.9,138.5M140.8,280.6l-34.5,166.8M459.3,173.2l-8.1,41.9M756.9,216.3l-14.6,83.6"/></g>
<g class="dt">
<path d="M165.7,234.7 C159.8,242.8 141.3,268.6 130.0,283.0 C118.7,297.4 103.1,314.9 97.7,321.3"/>
<path d="M209.0,247.3 C202.8,256.1 183.2,284.2 172.0,300.0 C160.8,315.8 146.8,335.0 141.7,342.0"/>
<path d="M224.0,257.3 C217.5,267.2 197.1,298.7 185.0,317.0 C172.9,335.3 157.2,358.9 151.7,367.3"/>
<path d="M492.5,201 L371,385"/>
<path d="M495,202.5 L440,282.5"/>
<path d="M518,226 L423,372"/>
<path d="M615,207.5 L570,282.5"/>
<path d="M625,200 L607.5,272.5"/>
<path d="M647.5,185 L627.5,265"/>
<path d="M650,220 L627.5,305"/>
<path d="M763,175 L753.5,207.5"/>
<path d="M785,177.5 L776,224"/>
<path d="M940,178 L929,212"/>
</g>
<path d="M58.3,252 L20.7,352.3" stroke="#1b3f9c" stroke-width="2.6" stroke-linecap="round"/>
<path d="M124.7,259 L67.3,334.7" stroke="#1b3f9c" stroke-width="2.6" stroke-linecap="round"/>
<path d="M66.7,343 L64,357.3" stroke="#7d7d7d" stroke-width="1.6"/>
<g class="dt">
<path d="M963.0,159.0 C960.8,171.2 954.2,210.5 950.0,232.0 C945.8,253.5 941.8,273.0 938.0,288.0 C934.2,303.0 928.8,316.3 927.0,322.0"/>
<path d="M976,180 L937,268"/>
<path d="M981.4,159 L967,228"/>
<path d="M1000,162 L989,215.6"/>
<path d="M1008.8,179 L994,250"/>
<path d="M1045,173 L1040,196"/>
<path d="M1060.0,204.7 C1058.2,209.0 1057.2,212.0 1049.0,230.3 C1040.8,248.6 1016.9,300.6 1010.5,314.7"/>
<path d="M1060.0,206.5 C1056.0,222.1 1041.7,278.6 1036.2,300.0 C1030.7,321.4 1028.5,329.1 1027.0,334.9"/>
<path d="M1080.2,201.0 C1075.9,215.4 1059.7,270.1 1054.5,287.2 C1049.3,304.3 1049.9,300.9 1049.0,303.7"/>
<path d="M1081,201 L1060,356.9"/>
<path d="M1008.7,259.7 C1006.6,268.2 1000.1,297.2 995.8,311.0 C991.5,324.8 985.1,337.0 983.0,342.2"/>
<path d="M1010.5,263.3 L990.3,369.7"/>
<path d="M1005.0,274.4 C1001.5,287.0 991.3,324.1 984.0,350.0 C976.7,375.9 964.8,416.7 961.0,430.0"/>
<path d="M999.5,222 L994.7,250.5"/>
<path d="M1108,192 L1073.8,243.6"/>
<path d="M1130,178.7 L1091,236"/>
<path d="M1136.8,192 L1102.4,245.5"/>
<path d="M1142.5,209 L1121.5,276"/>
<path d="M1156,207 L1123.4,301"/>
<path d="M1163.6,213 L1117.7,356"/>
<path d="M1173,203.5 L1148.3,331.5"/>
<path d="M1180.8,209 L1167.4,364"/>
<path d="M1192,207 L1177,264.6"/>
<path d="M1131,247.5 L1103.6,333.4"/>
</g>
<path d="M1014,219 L1010.5,256" stroke="#8a8a8a" stroke-width="1.4" stroke-dasharray="5 3" fill="none"/>
<g class="ld">
<path d="M346,71.5 L434,265.5"/>
<path d="M698.5,78.5 L760,161.5"/>
<path d="M600,134 L612,194"/>
<path d="M591,275 L515,483"/>
<path d="M641,251 L595,579.5"/>
<path d="M752,41 L787,161"/>
<path d="M866,85 L935,172.5"/>
<path d="M999,121 L994.5,185"/>
<path d="M1074.5,72.5 L1017.5,162.5"/>
<path d="M1084.5,153 L1054.5,188.5"/>
<path d="M1251,116.5 L1126,196"/>
<path d="M1217,167.5 L1121,226.5"/>
<path d="M1251,205 L1155,229.5"/>
<path d="M1186,245 L1207,259 L1175,329"/>
<path d="M1305,307.3 L1157,313"/>
<path d="M1190,269 L1322,404"/>
<path d="M1178,366 L1322,404"/>
<path d="M1119,334.7 L1311,461"/>
<path d="M1127,358 L1187,409.7"/>
<path d="M1061,313 L1112.5,457"/>
<path d="M1031,348 L1078.5,492"/>
<path d="M1009.5,331 L1029.5,527"/>
<path d="M989.5,394.5 L963,579.5"/>
<path d="M936.7,294 L917,392"/>
<path d="M188,343 L201,380"/>
<path d="M363.5,382 L290,466"/>
<path d="M431,402 L456,327"/>
<path d="M431,402 L434,357"/>
</g>
<defs><linearGradient id="gm" x1="0" y1="0" x2="1" y2="0"><stop offset="0" stop-color="#8a088a"/><stop offset="0.75" stop-color="#c012c0"/><stop offset="1" stop-color="#c012c0"/></linearGradient><linearGradient id="gr" x1="0" y1="0" x2="1" y2="0"><stop offset="0" stop-color="#8e2806"/><stop offset="0.75" stop-color="#c63e10"/><stop offset="1" stop-color="#c63e10"/></linearGradient><linearGradient id="go" x1="0" y1="0" x2="1" y2="0"><stop offset="0" stop-color="#a86408"/><stop offset="0.75" stop-color="#d88a12"/><stop offset="1" stop-color="#d88a12"/></linearGradient><linearGradient id="gy" x1="0" y1="0" x2="1" y2="0"><stop offset="0" stop-color="#8e8c10"/><stop offset="0.75" stop-color="#c8c61c"/><stop offset="1" stop-color="#c8c61c"/></linearGradient></defs>
<g transform="rotate(15 608.7 231)"><path d="M603.4,231v37a5.3,2.8 0 0 0 10.6,0v-37z" fill="url(#gr)"/><ellipse cx="608.7" cy="231" rx="5.3" ry="2.8" fill="#e66030"/><path d="M603.4,263a5.3,2.8 0 0 0 10.6,0M603.4,246a5.3,2.8 0 0 0 10.6,0" fill="none" stroke="#7c2004" stroke-opacity="0.7" stroke-width="0.8"/></g>
<g transform="rotate(20 178.3 326)"><path d="M172.6,326v7.8a5.8,3.3 0 0 0 11.5,0v-7.8z" fill="url(#gr)"/><ellipse cx="178.3" cy="326" rx="5.8" ry="3.3" fill="#e66030"/></g>
<g transform="rotate(25 445.3 275)"><path d="M440.3,275v1.5a5,3 0 0 0 10,0v-1.5z" fill="url(#gm)"/><ellipse cx="445.3" cy="275" rx="5" ry="3" fill="#ee2eea"/></g>
<g transform="rotate(15 408.7 320.5)"><path d="M402.9,320.5v4.8a5.8,3.3 0 0 0 11.5,0v-4.8z" fill="url(#gr)"/><ellipse cx="408.7" cy="320.5" rx="5.8" ry="3.3" fill="#e66030"/></g>
<g transform="rotate(15 463.3 310.5)"><path d="M457.6,310.5v4.8a5.8,3.3 0 0 0 11.5,0v-4.8z" fill="url(#gr)"/><ellipse cx="463.3" cy="310.5" rx="5.8" ry="3.3" fill="#e66030"/></g>
<g transform="rotate(15 458 319)"><path d="M452.2,319v5.3a5.8,3.3 0 0 0 11.5,0v-5.3z" fill="url(#go)"/><ellipse cx="458" cy="319" rx="5.8" ry="3.3" fill="#f6a628"/></g>
<g transform="rotate(10 439.7 345.5)"><path d="M433.9,345.5v6.3a5.8,3.3 0 0 0 11.5,0v-6.3z" fill="url(#gm)"/><ellipse cx="439.7" cy="345.5" rx="5.8" ry="3.3" fill="#ee2eea"/></g>
<g transform="rotate(10 378 369.5)"><path d="M372.2,369.5v5.8a5.8,3.3 0 0 0 11.5,0v-5.8z" fill="url(#go)"/><ellipse cx="378" cy="369.5" rx="5.8" ry="3.3" fill="#f6a628"/></g>
<g transform="rotate(15 615.5 203.5)"><path d="M609.8,203.5v5.8a5.8,3.3 0 0 0 11.5,0v-5.8z" fill="url(#go)"/><ellipse cx="615.5" cy="203.5" rx="5.8" ry="3.3" fill="#f6a628"/></g>
<g transform="rotate(12 651 212.3)"><path d="M645.2,212.3v5.3a5.8,3.3 0 0 0 11.5,0v-5.3z" fill="url(#go)"/><ellipse cx="651" cy="212.3" rx="5.8" ry="3.3" fill="#f6a628"/></g>
<g transform="rotate(12 649.3 220.5)"><path d="M643.5,220.5v6.3a5.8,3.3 0 0 0 11.5,0v-6.3z" fill="url(#gr)"/><ellipse cx="649.3" cy="220.5" rx="5.8" ry="3.3" fill="#e66030"/></g>
<g transform="rotate(10 644.5 237)"><path d="M638.8,237v6.3a5.8,3.3 0 0 0 11.5,0v-6.3z" fill="url(#gr)"/><ellipse cx="644.5" cy="237" rx="5.8" ry="3.3" fill="#e66030"/></g>
<path d="M757.8,170.5v2.5a5.2,3.3 0 0 0 10.5,0v-2.5z" fill="url(#gm)"/><ellipse cx="763" cy="170.5" rx="5.2" ry="3.3" fill="#ee2eea"/>
<path d="M779.8,172.5v2.5a5.2,3.3 0 0 0 10.5,0v-2.5z" fill="url(#gm)"/><ellipse cx="785" cy="172.5" rx="5.2" ry="3.3" fill="#ee2eea"/>
<g transform="rotate(8 938 180)"><path d="M931.8,180v10.3a6.2,3.6 0 0 0 12.5,0v-10.3z" fill="url(#gm)"/><ellipse cx="938" cy="180" rx="6.2" ry="3.6" fill="#ee2eea"/></g>
<path d="M1003.2,175.7v4a5.8,3.3 0 0 0 11.5,0v-4z" fill="url(#gr)"/><ellipse cx="1009" cy="175.7" rx="5.8" ry="3.3" fill="#e66030"/><path d="M1003.2,169.5v4a5.8,3.3 0 0 0 11.5,0v-4z" fill="url(#gr)"/><ellipse cx="1009" cy="169.5" rx="5.8" ry="3.3" fill="#e66030"/>
<path d="M989.6,189v1.5a5,2.6 0 0 0 10,0v-1.5z" fill="url(#gm)"/><ellipse cx="994.6" cy="189" rx="5" ry="2.6" fill="#ee2eea"/>
<g transform="rotate(-10 983 193)"><path d="M977.2,193v5.3a5.8,3.3 0 0 0 11.5,0v-5.3z" fill="url(#gr)"/><ellipse cx="983" cy="193" rx="5.8" ry="3.3" fill="#e66030"/></g>
<path d="M1034.8,193.5v4.3a5.2,3.3 0 0 0 10.5,0v-4.3z" fill="url(#gr)"/><ellipse cx="1040" cy="193.5" rx="5.2" ry="3.3" fill="#e66030"/>
<path d="M997,206.5v4.8a5.2,3.3 0 0 0 10.5,0v-4.8z" fill="url(#gr)"/><ellipse cx="1002.3" cy="206.5" rx="5.2" ry="3.3" fill="#e66030"/>
<path d="M994.5,218.5v1.5a4.8,2.6 0 0 0 9.5,0v-1.5z" fill="url(#gm)"/><ellipse cx="999.2" cy="218.5" rx="4.8" ry="2.6" fill="#ee2eea"/>
<g transform="rotate(15 1129 176.5)"><path d="M1123.2,176.5v6.8a5.8,3.3 0 0 0 11.5,0v-6.8z" fill="url(#gm)"/><ellipse cx="1129" cy="176.5" rx="5.8" ry="3.3" fill="#ee2eea"/></g>
<g transform="rotate(15 1112.7 203)"><path d="M1107,203v6.8a5.8,3.3 0 0 0 11.5,0v-6.8z" fill="url(#gm)"/><ellipse cx="1112.7" cy="203" rx="5.8" ry="3.3" fill="#ee2eea"/></g>
<g transform="rotate(12 1109 234.5)"><path d="M1103.2,234.5v5.8a5.8,3.3 0 0 0 11.5,0v-5.8z" fill="url(#gr)"/><ellipse cx="1109" cy="234.5" rx="5.8" ry="3.3" fill="#e66030"/></g>
<g transform="rotate(10 1147.5 230.5)"><path d="M1141.8,230.5v5.8a5.8,3.3 0 0 0 11.5,0v-5.8z" fill="url(#go)"/><ellipse cx="1147.5" cy="230.5" rx="5.8" ry="3.3" fill="#f6a628"/></g>
<g transform="rotate(10 1130 249.8)"><path d="M1124.2,249.8v5.8a5.8,3.3 0 0 0 11.5,0v-5.8z" fill="url(#go)"/><ellipse cx="1130" cy="249.8" rx="5.8" ry="3.3" fill="#f6a628"/></g>
<path d="M1131.8,260.3v5.3a5.2,3.3 0 0 0 10.5,0v-5.3z" fill="url(#gm)"/><ellipse cx="1137" cy="260.3" rx="5.2" ry="3.3" fill="#ee2eea"/>
<path d="M1168.2,242v5.8a5.8,3.3 0 0 0 11.5,0v-5.8z" fill="url(#gr)"/><ellipse cx="1174" cy="242" rx="5.8" ry="3.3" fill="#e66030"/>
<path d="M1175,263v6.3a5.8,3.3 0 0 0 11.5,0v-6.3z" fill="url(#gy)"/><ellipse cx="1180.8" cy="263" rx="5.8" ry="3.3" fill="#f0ee2c"/>
<g transform="rotate(8 1130.5 280)"><path d="M1124.8,288.4v3.5a5.8,3.3 0 0 0 11.5,0v-3.5z" fill="url(#gm)"/><ellipse cx="1130.5" cy="288.4" rx="5.8" ry="3.3" fill="#ee2eea"/><path d="M1124.8,284.2v3.5a5.8,3.3 0 0 0 11.5,0v-3.5z" fill="url(#gm)"/><ellipse cx="1130.5" cy="284.2" rx="5.8" ry="3.3" fill="#ee2eea"/><path d="M1124.8,280v3.5a5.8,3.3 0 0 0 11.5,0v-3.5z" fill="url(#gm)"/><ellipse cx="1130.5" cy="280" rx="5.8" ry="3.3" fill="#ee2eea"/></g>
<g transform="rotate(10 1054.6 290.5)"><path d="M1048.8,299v4a5.8,3.3 0 0 0 11.5,0v-4z" fill="url(#go)"/><ellipse cx="1054.6" cy="299" rx="5.8" ry="3.3" fill="#f6a628"/><path d="M1048.8,290.5v4a5.8,3.3 0 0 0 11.5,0v-4z" fill="url(#go)"/><ellipse cx="1054.6" cy="290.5" rx="5.8" ry="3.3" fill="#f6a628"/></g>
<path d="M1147,313.5v4a5.8,3.3 0 0 0 11.5,0v-4z" fill="url(#gr)"/><ellipse cx="1152.7" cy="313.5" rx="5.8" ry="3.3" fill="#e66030"/><path d="M1147,306v4a5.8,3.3 0 0 0 11.5,0v-4z" fill="url(#gr)"/><ellipse cx="1152.7" cy="306" rx="5.8" ry="3.3" fill="#e66030"/>
<g transform="rotate(10 1115.8 313)"><path d="M1110.5,313v4.8a5.2,3.3 0 0 0 10.5,0v-4.8z" fill="url(#gr)"/><ellipse cx="1115.8" cy="313" rx="5.2" ry="3.3" fill="#e66030"/></g>
<g transform="rotate(20 1109 324.5)"><path d="M1103.2,329.5v3.5a5.8,3.3 0 0 0 11.5,0v-3.5z" fill="url(#gr)"/><ellipse cx="1109" cy="329.5" rx="5.8" ry="3.3" fill="#e66030"/><path d="M1103.2,324.5v3.5a5.8,3.3 0 0 0 11.5,0v-3.5z" fill="url(#gr)"/><ellipse cx="1109" cy="324.5" rx="5.8" ry="3.3" fill="#e66030"/></g>
<path d="M1156,334.5v5.8a5.8,3.3 0 0 0 11.5,0v-5.8z" fill="url(#gr)"/><ellipse cx="1161.7" cy="334.5" rx="5.8" ry="3.3" fill="#e66030"/>
<g transform="rotate(10 1119.6 346)"><path d="M1113.8,346v5.8a5.8,3.3 0 0 0 11.5,0v-5.8z" fill="url(#gm)"/><ellipse cx="1119.6" cy="346" rx="5.8" ry="3.3" fill="#ee2eea"/></g>
<path d="M1162.2,360v5.3a5.2,3.3 0 0 0 10.5,0v-5.3z" fill="url(#gm)"/><ellipse cx="1167.4" cy="360" rx="5.2" ry="3.3" fill="#ee2eea"/>
<path d="M1005.5,316.5v4.3a5.2,3.3 0 0 0 10.5,0v-4.3z" fill="url(#gr)"/><ellipse cx="1010.7" cy="316.5" rx="5.2" ry="3.3" fill="#e66030"/>
<path d="M1025.8,335v4.3a5.2,3.3 0 0 0 10.5,0v-4.3z" fill="url(#gr)"/><ellipse cx="1031" cy="335" rx="5.2" ry="3.3" fill="#e66030"/>
<path d="M934.2,283v4.8a5.2,3.3 0 0 0 10.5,0v-4.8z" fill="url(#gr)"/><ellipse cx="939.5" cy="283" rx="5.2" ry="3.3" fill="#e66030"/>
<path d="M984,380v3a5.8,3.3 0 0 0 11.5,0v-3z" fill="url(#gr)"/><ellipse cx="989.7" cy="380" rx="5.8" ry="3.3" fill="#e66030"/><path d="M984,376v3a5.8,3.3 0 0 0 11.5,0v-3z" fill="url(#gr)"/><ellipse cx="989.7" cy="376" rx="5.8" ry="3.3" fill="#e66030"/>
<path d="M984,371v5.3a5.8,3.3 0 0 0 11.5,0v-5.3z" fill="url(#go)"/><ellipse cx="989.7" cy="371" rx="5.8" ry="3.3" fill="#f6a628"/>
<text class="t" x="346" y="45">OKWD25-544</text>
<text class="b" x="348" y="60.2">2.6 m at 4.38 g/t Au (LDZ)</text>
<text class="t" x="650" y="53.5">OKWD25-538</text>
<text class="b" x="650" y="68.2">5.0 m at 3.22 g/t Au (LDZ)</text>
<text class="t" x="600" y="110">OKWD25-542</text>
<text class="b" x="600" y="124.2">16.5 m at 0.83 g/t Au (LDZ)</text>
<text class="t" x="775" y="15.5">OKWD25-539</text>
<text class="b" x="775.5" y="30.2">5.0 m at 5.55 g/t Au (LDZ)</text>
<text class="t" x="871" y="61">OKWR25-1839</text>
<text class="b" x="871.5" y="75.7">21.0 m at 3.80 g/t Au (LDZ)</text>
<text class="t" x="969" y="98">OKWD25-520</text>
<text class="b" x="969.7" y="112.2">10.4 m at 1.17 g/t Au (LDZ)</text>
<text class="t" x="1074" y="48">OKWD25-523</text>
<text class="b" x="1074.7" y="62.2">10.0 m at 1.48 g/t Au (LDZ)</text>
<text class="t" x="1113.7" y="132">OKWR25-1838</text>
<text class="b" x="1114" y="146.2">5.0 m at 2.21 g/t Au (LDZ)</text>
<text class="t" x="1258.5" y="77">OKWD25-533</text>
<text class="b" x="1259" y="91.2">14.0 m at 4.38 g/t Au (LDZ)</text>
<text class="b" x="1259" y="104.7">15.5 m at 3.53 g/t Au (AU3)</text>
<text class="t" x="1293.5" y="147.5">OKWD25-532</text>
<text class="b" x="1294" y="161.7">10.7 m at 1.02 g/t Au (LDZ)</text>
<text class="t" x="1329" y="188.5">OKWD25-517</text>
<text class="b" x="1329.7" y="202.2">9.0 m at 4.71 g/t Au (LDZ)</text>
<text class="b" x="1329.7" y="215.7">7.0 m at 3.26 g/t Au (AU2)</text>
<text class="t" x="1289.7" y="247.4">OKWD25-516</text>
<text class="b" x="1291.5" y="262.2">6.0 m at 2.35 g/t Au (LDZ)</text>
<text class="b" x="1291.5" y="275.7">14.0 m at 1.10 g/t Au (ODZ)</text>
<text class="t" x="1358.5" y="308.5">OKWD25-515</text>
<text class="b" x="1358.5" y="322.7">7.5 m at 2.28 g/t Au (LDZ)</text>
<text class="b" x="1358.5" y="336.2">11.1 m at 1.09 g/t Au (AU2)</text>
<text class="t" x="220" y="394">OKWD25-548</text>
<text class="b" x="222" y="408.7">15.0 m at 1.56 g/t Au (LDZ)</text>
<text class="t" x="430" y="419">OKWD25-545</text>
<text class="b" x="430.7" y="433.7">11.6 m at 0.83 g/t Au (LDZ)</text>
<text class="b" x="430.5" y="447.2">11.9 m at 5.26 g/t Au (AU2 FW)</text>
<text class="b" x="430" y="461.2">7.0 m at 2.08 g/t Au (AU3 HW)</text>
<text class="t" x="271.5" y="483.5">OKWD25-547</text>
<text class="b" x="273.5" y="498.2">5.0 m at 1.94 g/t Au (LDZ)</text>
<text class="b" x="274" y="512.2">14.8 m at 0.60 g/t Au (AU2 FW)</text>
<text class="t" x="501" y="493.5">OKWD25-528</text>
<text class="b" x="501" y="507.7">6.1m at 1.73 g/t Au (CTZ)</text>
<text class="b" x="501" y="521.2">10.5 m at 1.01 g/t Au (LDZ)</text>
<text class="b" x="498" y="535.2">51.2 m at 1.96 g/t Au (AU2)</text>
<text class="b" x="498" y="548.7">31.4 m at 2.68 g/t Au (AU3)</text>
<text class="t" x="603" y="602.5">OKWD25-536</text>
<text class="b" x="603" y="616.7">20.0 m at 2.49 g/t Au (LDZ)</text>
<text class="b" x="602" y="630.2">11.45 m at 0.46 g/t Au (AU2)</text>
<text class="b" x="602" y="644.7">28.7 m at 1.67 g/t Au (AU3</text>
<text class="t" x="917" y="409">OKWD25-519A</text>
<text class="b" x="917" y="423.7">6.2 m at 1.73 g/t Au (LDZ)</text>
<text class="t" x="1187" y="426">OKWD25-540</text>
<text class="b" x="1187" y="440.7">10.2 m at 3.81 g/t Au (LDZ)</text>
<text class="t" x="1367.7" y="413">OKWD25-518</text>
<text class="b" x="1367.5" y="427.2">6.9 m at 16.06 g/t Au (LDZ)</text>
<text class="b" x="1367.7" y="440.7">14.4 m at 0.44 g/t Au (ODZ)</text>
<text class="t" x="1151" y="467.5">OKWD25-530</text>
<text class="b" x="1152" y="481.7">10.0 m at 0.84 g/t Au (LDZ)</text>
<text class="t" x="1341" y="479">OKWD25-537</text>
<text class="b" x="1341.7" y="493.2">14.6 m at 2.19 g/t Au (LDZ)</text>
<text class="t" x="1106.7" y="507.5">OKWD25-546</text>
<text class="b" x="1106.5" y="521.7">4.0 m at 2.13 g/t Au (LDZ)</text>
<text class="t" x="1046.7" y="545.5">OKWD25-549</text>
<text class="b" x="1046" y="560.2">6.6 m at 2.79 g/t Au (LDZ)</text>
<text class="t" x="963.7" y="596">OKWD25-526</text>
<text class="b" x="963" y="610.7">3.7 m at 2.08 g/t Au (LDZ)</text>
<text x="71.5" y="373.6" text-anchor="middle" style="font:italic bold 10px 'Liberation Sans',sans-serif;fill:#9c9c9c">2025 DH Assays Pending</text>
<text x="833.7" y="637.5" text-anchor="middle" style="font:italic 10px 'Liberation Sans',sans-serif;fill:#505050">Reserve Pit &amp; Stopes</text>
<path d="M813.5,603.5V622" stroke="#111" stroke-width="1.5"/>
<rect x="26.5" y="418.5" width="63" height="225" rx="4.5" ry="4.5" fill="#ffffff" stroke="#7f7f7f" stroke-width="1.2"/>
<text x="58" y="435" text-anchor="middle" style="font:bold 13.6px 'Liberation Sans',sans-serif;fill:#000">Au (g/t)</text>
<clipPath id="lgc"><rect x="34" y="447" width="19" height="190.5" rx="2"/></clipPath>
<rect x="34" y="447" width="19" height="32" fill="#ff00ff" clip-path="url(#lgc)"/>
<rect x="34" y="478.8" width="19" height="32" fill="#ff0000" clip-path="url(#lgc)"/>
<rect x="34" y="510.5" width="19" height="32" fill="#ffa500" clip-path="url(#lgc)"/>
<rect x="34" y="542.2" width="19" height="32" fill="#ffff00" clip-path="url(#lgc)"/>
<rect x="34" y="574" width="19" height="32" fill="#bebebe" clip-path="url(#lgc)"/>
<rect x="34" y="605.8" width="19" height="32" fill="#000000" clip-path="url(#lgc)"/>
<rect x="34" y="447" width="19" height="190.5" rx="1.5" fill="none"/>
<text x="61" y="484.3" style="font:bold 12px 'Liberation Sans',sans-serif;fill:#000;letter-spacing:0.8px">3.0</text>
<text x="61" y="516.3" style="font:bold 12px 'Liberation Sans',sans-serif;fill:#000;letter-spacing:0.8px">1.0</text>
<text x="61" y="548.3" style="font:bold 12px 'Liberation Sans',sans-serif;fill:#000;letter-spacing:0.8px">0.5</text>
<text x="61" y="579.8" style="font:bold 12px 'Liberation Sans',sans-serif;fill:#000;letter-spacing:0.8px">0.3</text>
<text x="61" y="611.8" style="font:bold 12px 'Liberation Sans',sans-serif;fill:#000;letter-spacing:0.8px">0.1</text>
<path d="M947.6,636.8H1055.4" stroke="#7c7c7c" stroke-width="1.9"/>
<path d="M1055.4,638.4H1164" stroke="#c6c6c6" stroke-width="1.4"/>
<path d="M1164,636.8H1272" stroke="#7c7c7c" stroke-width="1.9"/>
<text x="951" y="632.8" text-anchor="middle" style="font:12px 'Liberation Sans',sans-serif;fill:#555">0</text>
<text x="1055.7" y="632.8" text-anchor="middle" style="font:12px 'Liberation Sans',sans-serif;fill:#555">250</text>
<text x="1164" y="632.8" text-anchor="middle" style="font:12px 'Liberation Sans',sans-serif;fill:#555">500</text>
<text x="1261.5" y="632.8" text-anchor="middle" style="font:12px 'Liberation Sans',sans-serif;fill:#555">750</text>
<text x="1154.5" y="587" style="font:12.4px 'Liberation Sans',sans-serif;fill:#555" textLength="60.6" lengthAdjust="spacingAndGlyphs">Plunge +13</text>
<text x="1154.5" y="602" style="font:12.4px 'Liberation Sans',sans-serif;fill:#555">Azimuth 290</text>
<clipPath id="cb"><circle cx="1250.8" cy="586.3" r="18.4"/></clipPath>
<g clip-path="url(#cb)"><rect x="1232" y="567" width="38" height="40" fill="url(#ballsky)"/><path d="M1232,587 Q1250.8,592.5 1270,587.5 V606 H1232Z" fill="url(#ballgrd)"/><path d="M1232,587 Q1250.8,592.5 1270,587.5" stroke="#a6e4f2" stroke-width="0.7" fill="none" stroke-opacity="0.8"/><path d="M1243,586v5" stroke="#c8f0ff" stroke-width="0.6" stroke-opacity="0.7"/></g>
<circle cx="1250.8" cy="586.3" r="17.9" fill="none" stroke="#082c30" stroke-opacity="0.6" stroke-width="1.6"/>
<text x="1257" y="596" text-anchor="middle" transform="translate(1257 0) scale(0.86 1) translate(-1257 0)" style="font:bold 16.5px 'Liberation Sans',sans-serif;fill:#0a1c14">E</text>
</svg>
</body></html>
